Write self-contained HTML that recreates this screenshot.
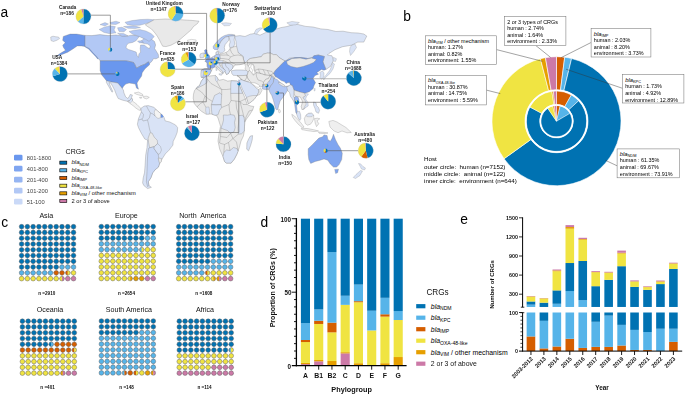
<!DOCTYPE html>
<html><head><meta charset="utf-8"><style>
html,body{margin:0;padding:0;background:#fff;}
svg{display:block;font-family:"Liberation Sans", sans-serif;}
.gs{will-change:transform;}
</style></head><body>
<svg xmlns="http://www.w3.org/2000/svg" width="685" height="396" viewBox="0 0 685 396">
<rect width="685" height="396" fill="#fff"/>
<path d="M50.7 37L53 36.2L56 36.8L58.5 37L59.6 38.6L57 40.2L53.5 41.5L51 40.6Z" fill="#d9e3f6" stroke="#7e7e7e" stroke-width="0.3" stroke-linejoin="round"/><path d="M63.3 36.4L70.2 34.1L76.5 34.1L85.1 35.4L85.1 46.5L81.6 45.9L77.2 45.9L72.8 49L67.7 52.2L61.4 54.7L56 56.6L60 53.6L65.5 50.3L63.5 47.5L62.7 45.2L65.2 42.7L62.7 40.2Z" fill="#6a97ee" stroke="#7e7e7e" stroke-width="0.34" stroke-linejoin="round"/><path d="M85.1 45.8L89.6 48L93.5 52.5L97 56.4L98.5 58.6L97.6 58.9L95.8 56.8L92.2 53L88.6 49L85.1 47Z" fill="#6a97ee" stroke="#7e7e7e" stroke-width="0.25" stroke-linejoin="round"/><path d="M85.1 35.4L92 35.6L100 34.6L108 35.6L116 35L122 35.8L127 36.2L131 35.2L136 35.6L142 36.4L147 37L151 38.8L154.5 41.5L155.6 45L154.6 48.5L156.5 51.5L158.3 54.5L158.6 57.5L156 58.8L153.5 58.6L152 61.2L149.5 63.6L148.4 61.8L145 64.2L140.5 65.9L136.5 68.2L134.8 64.5L133.6 62.5L129.1 61.4L125.7 60.8L100.1 60.8L96.7 56.6L93 52.8L89.2 48.4L85.1 46.5Z" fill="#b2c8f5" stroke="#7e7e7e" stroke-width="0.34" stroke-linejoin="round"/><path d="M126.5 45.5L128.3 43.3L132.7 42.4L136.2 40.6L138 38L139.7 36.2L141.5 37.1L144.2 38.8L141.5 40.6L140.6 42.4L143.3 43.3L147.7 44.1L150.3 45.9L149.5 48.6L147.7 47.7L144.2 45L140.6 45L140.2 48.6L140.6 52.1L138.9 53.9L138.4 57.4L137.1 55.6L136.2 52.1L132.7 50.8L128.3 49.4L126 47.7Z" fill="#fff" stroke="#7e7e7e" stroke-width="0.3" stroke-linejoin="round"/><path d="M125 22.2L132 20.6L140 19.6L148 19.2L154.3 19.8L151 22L146 23.6L140 25.2L133 25.4L127 24.4Z" fill="#b2c8f5" stroke="#7e7e7e" stroke-width="0.25" stroke-linejoin="round"/><path d="M123.5 26.6L130 25.9L136 26.3L140.5 27.6L135 28.6L128 28.3Z" fill="#b2c8f5" stroke="#7e7e7e" stroke-width="0.25" stroke-linejoin="round"/><path d="M129 31.5L134 30.2L140 29.6L146 31L151 33.5L154.3 36.5L152 39L149 41.4L146 39.5L142 37.8L138 36L133 34.5Z" fill="#b2c8f5" stroke="#7e7e7e" stroke-width="0.25" stroke-linejoin="round"/><path d="M99.1 29.5L104 27.2L110 25.7L115.4 26.6L114 30L116 32.8L110 33.8L104 32.5Z" fill="#b2c8f5" stroke="#7e7e7e" stroke-width="0.25" stroke-linejoin="round"/><path d="M100 24.6L105 22.6L108.5 24L105 26Z" fill="#b2c8f5" stroke="#7e7e7e" stroke-width="0.25" stroke-linejoin="round"/><path d="M110 22.5L116 21.2L120 22.5L116 24.5L111 24.2Z" fill="#b2c8f5" stroke="#7e7e7e" stroke-width="0.25" stroke-linejoin="round"/><path d="M117.5 27.8L122 27.2L126.5 29.5L124 31.8L119 31.4Z" fill="#b2c8f5" stroke="#7e7e7e" stroke-width="0.25" stroke-linejoin="round"/><path d="M117.5 33.2L123.5 33.4L128 35.8L122 36.3Z" fill="#b2c8f5" stroke="#7e7e7e" stroke-width="0.25" stroke-linejoin="round"/><path d="M137.5 41L141.5 40.8L143.5 42.3L139.5 43Z" fill="#b2c8f5" stroke="#7e7e7e" stroke-width="0.25" stroke-linejoin="round"/><path d="M145.3 24.8L150 22L154.3 19.7L165 19L175 19.3L185 20L193 20.5L199 21.2L197.5 23.5L193.5 26.5L191 30L187.5 33L184 36L180 39.5L176 42.5L171 45.2L166 46.6L162.7 46.2L161.2 43.5L159.5 40L157.5 36.5L155 33L151.5 29L147.5 26.5Z" fill="#e9e9e9" stroke="#7e7e7e" stroke-width="0.34" stroke-linejoin="round"/><path d="M187.5 40.2L191.5 39.4L196.2 40L195.8 42L191 42.6L187.8 41.8Z" fill="#fafafa" stroke="#7e7e7e" stroke-width="0.3" stroke-linejoin="round"/><path d="M100.1 60.8L125.7 60.8L129.1 61.4L133.6 62.5L134.8 64.5L136.5 68.2L140.5 65.9L145 64.2L148.4 61.8L149.5 63.6L149.5 64.8L145 68.8L142.2 72.7L141.6 76.1L138.8 80.1L137 83L137.6 86.4L138.5 89.2L136.5 88.1L135.3 84.1L132.5 83.5L129.1 83L125.7 84.1L123.4 86.4L122.3 88.6L120.6 86.4L117.7 83L114.3 82.4L109.8 81.8L106.4 80.7L104.1 77.8L101.8 75L100.1 70.5L100.1 64.8Z" fill="#6a97ee" stroke="#7e7e7e" stroke-width="0.34" stroke-linejoin="round"/><path d="M106.4 80.7L109.8 81.8L114.3 82.4L117.7 83L120.6 86.4L122.3 88.6L123.4 90L123.9 92.8L125.6 96.8L127.8 98.5L129.5 96.2L130.1 94.5L132.4 95L131.3 98.5L129.5 100.7L127.3 101.3L122.7 100.2L118.2 98.5L116.5 95L114.8 90.5L112.5 86L110.8 83.1L109 82.6L110.5 86.5L112.8 91.5L112 92.2L108.5 86L106.4 82.5Z" fill="#d9e3f6" stroke="#7e7e7e" stroke-width="0.34" stroke-linejoin="round"/><path d="M127.3 101.3L129.5 100.7L131.3 98.5L132.6 98.9L132.4 101L134.5 102.5L137 104.5L139.5 107L140.8 108.4L140.3 110.5L138.5 109.8L136 108.2L133.5 106L130.5 103.8Z" fill="#f1f1f1" stroke="#7e7e7e" stroke-width="0.3" stroke-linejoin="round"/><path d="M128.2 101.6L129.5 100.7L131.3 98.5L132.6 98.9L132.4 101L130.5 102.8Z" fill="#d9e3f6" stroke="#7e7e7e" stroke-width="0.25" stroke-linejoin="round"/><path d="M134.3 93L138.5 92.1L142.5 94.2L143 96L140 95.3L136.5 94.3Z" fill="#f3f3f3" stroke="#7e7e7e" stroke-width="0.3" stroke-linejoin="round"/><path d="M143.4 96.4L147 96.2L149.3 97.4L146.5 98.9L143.8 98Z" fill="#f3f3f3" stroke="#7e7e7e" stroke-width="0.3" stroke-linejoin="round"/><path d="M139.6 97.3L141.8 97.4L141.5 98.2L139.8 98.1Z" fill="#f3f3f3" stroke="#7e7e7e" stroke-width="0.3" stroke-linejoin="round"/><path d="M140.8 108.4L144.2 106.1L148.2 105.6L153.9 107.3L157.3 110.7L161.3 114.1L164.1 117.5L165.2 120.9L169.8 122L175.5 124.9L177.7 127.7L177.2 132.3L175.5 136.8L173.2 141.4L172.9 145.1L169.1 150.1L165.3 153.9L162.1 158.9L159.6 163.4L158.4 167.1L155.2 169.7L152.7 172.8L150.8 177.9L148.3 181.7L148.9 185.5L151.4 187.3L147.6 188.6L143.8 185.5L142.6 182.9L143.2 177.9L144.5 172.8L145.1 165.3L145.7 155.2L147 147.6L147.6 140L144.8 139.1L141.4 133.4L138.5 127.7L137.4 124.3L138.5 118.6L141.4 111.8Z" fill="#d9e3f6" stroke="#7e7e7e" stroke-width="0.34" stroke-linejoin="round"/><path d="M155.5 109.2L157.3 110.7L161 113.8L160.8 117.6L158 118.5L155 116L154.2 112Z" fill="#f4f4f4" stroke="#7e7e7e" stroke-width="0.3" stroke-linejoin="round"/><path d="M160.9 114.1L162.3 114.8L163.5 116.6L162.4 117.6L160.9 117.4Z" fill="#6a97ee" stroke="#7e7e7e" stroke-width="0.2" stroke-linejoin="round"/><path d="M150.1 132.6L152.1 133.1L154.2 137.1L157.2 140.2L157.7 143.7L154.2 146.7L149.6 147.8L148.6 142.7L148.1 138.2Z" fill="#e9e9e9" stroke="#7e7e7e" stroke-width="0.34" stroke-linejoin="round"/><path d="M148.6 148.3L149.6 147.8L154.2 146.7L154.2 148.8L158.2 154.3L158.7 157.4L159.6 163.4L158.4 167.1L155.2 169.7L152.7 172.8L150.8 177.9L148.3 181.7L148.9 185.5L147.6 186.7L146.4 181.7L147 171.6L147.4 160L147.8 153Z" fill="#cad9f7" stroke="#7e7e7e" stroke-width="0.34" stroke-linejoin="round"/><path d="M158.2 158L161.7 158.6L161.3 162L159.6 163.4L158.7 160.5Z" fill="#e9e9e9" stroke="#7e7e7e" stroke-width="0.3" stroke-linejoin="round"/><path d="M154.2 146.7L157.7 143.7L160.5 146.5L161.5 150L160 153.5L158.2 154.3L154.2 148.8Z" fill="#d9e3f6" stroke="#7e7e7e" stroke-width="0.3" stroke-linejoin="round"/><path d="M226.5 56.5L228 52.5L233 50.5L236.5 46L236 41.5L234.5 36.3L240 35.6L245 36.5L250.2 34.2L255 33.4L260 35.2L265.3 32.7L272 30.5L280.5 27.7L287 26.5L295.6 23.9L300 25L305.7 26.4L313 27L320.9 28.9L328 29.5L336 31.5L343 31.2L351.1 32.7L358 33L363.8 34L366.8 36.1L363.8 42.1L357.7 42.1L351.7 45.2L342.6 46.7L335 49.7L328.9 53.5L327.4 55L332 55.8L333.5 60.3L330.5 66.4L325.9 69.4L325.9 69.4L322.9 61.8L324.4 56.5L318.3 55L313.8 55.8L312.3 57.8L307.7 58.5L301.7 57.5L295 57.6L289.4 58.2L285.5 61.2L283.5 60.2L279.4 57.7L276.4 54.6L273.4 54.6L270.4 53.1L267.3 53.1L263.3 54.1L261.3 56.7L255.2 57.7L250.3 58.5L247.5 60.5L245.5 62.5L243.9 61L242.7 56.1L238.2 52.7L234 53L230.5 54.5L228.5 57Z" fill="#d9e3f6" stroke="#7e7e7e" stroke-width="0.34" stroke-linejoin="round"/><path d="M351.7 45.2L355 44L356.5 47.5L353.5 52L350.5 55.5L349.5 51.5L350 47.5Z" fill="#d9e3f6" stroke="#7e7e7e" stroke-width="0.25" stroke-linejoin="round"/><path d="M254 33.5L256 29.5L260 27.8L262.5 28.2L259 31L256.5 34.2Z" fill="#d9e3f6" stroke="#7e7e7e" stroke-width="0.25" stroke-linejoin="round"/><path d="M286.8 22.8L292 21.4L299.4 22.5L296 24.8L290 25.2Z" fill="#d9e3f6" stroke="#7e7e7e" stroke-width="0.25" stroke-linejoin="round"/><path d="M221.5 23.2L226 22.7L231.5 23.5L229.5 25.6L224 25.8Z" fill="#d9e3f6" stroke="#7e7e7e" stroke-width="0.25" stroke-linejoin="round"/><path d="M213.3 46.3L215.1 43.8L217.9 40.6L220.7 37.8L224.3 35.7L228.5 34.4L232 34.4L234.9 34.9L234.9 35.7L231.3 36L228.5 36.4L225.7 37.1L222.8 39.2L220.7 42L219.3 44.8L218.6 48L217.2 49.8L214.4 49.4L213.3 48.4Z" fill="#b2c8f5" stroke="#7e7e7e" stroke-width="0.34" stroke-linejoin="round"/><path d="M218.6 48L219.3 44.8L220.7 42L222.8 39.2L225.7 37.1L228.5 36.4L229.2 37.8L228.5 40.6L226.7 42.7L225 44.8L224.3 47.7L225 50.5L222.8 52.6L220.4 53.3L218.6 51.2L217.2 49.8Z" fill="#d9e3f6" stroke="#7e7e7e" stroke-width="0.34" stroke-linejoin="round"/><path d="M228.5 36.4L231.3 36L234.9 35.7L234.1 39.9L234.9 44.1L233.4 47L229.9 47.7L229.2 45L230.2 42L229.2 37.8Z" fill="#d9e3f6" stroke="#7e7e7e" stroke-width="0.34" stroke-linejoin="round"/><path d="M201.2 77.2L201 74.5L201.3 70L204.5 68.8L208 68.6L207.2 66.3L207.2 62.7L205.1 61.3L207.2 58.8L210.5 58.2L212.6 57.2L214.6 56L216 54.6L216.2 52L218.2 51.6L218.8 54L221 54L223.5 53.4L226 52.4L228.5 51L229.9 48.6L233.4 47L236.5 46L237.5 49.5L238.2 52.7L242.7 56.1L243.9 61L244.5 63.5L240 64.6L236 64.8L233.8 66.2L232.5 68.5L231 70L229.5 71.5L228.5 73.5L226.5 74.5L225.5 72.5L224.5 70L222.4 66.6L219.6 64.8L218.5 66L221 68.8L223.8 71.5L222.5 73.6L220.5 71.8L217.2 68.4L214.8 66.6L213.6 67.3L212 69.6L211.4 71L209.5 74.5L207 76.6L204 77.6Z" fill="#e9e9e9" stroke="#7e7e7e" stroke-width="0.34" stroke-linejoin="round"/><path d="M230.5 57L234 55.5L238.2 55L242.7 56.1L243.9 61L244.5 63.5L240 64.6L236 64.8L233.8 63.5L230.5 62L229 59.5Z" fill="#e9e9e9" stroke="#7e7e7e" stroke-width="0.34" stroke-linejoin="round"/><path d="M221.8 63.6L225 63L228.5 63.2L231 64.2L233 65.5L232.5 68.5L231 70L229.5 71.5L228.5 73.5L226.5 74.5L225.5 72.5L224.5 70L222.4 66.6Z" fill="#d9e3f6" stroke="#7e7e7e" stroke-width="0.34" stroke-linejoin="round"/><path d="M201.6 70.2L204.5 68.8L208 68.6L211.4 70L210.5 72.6L209.5 74.5L207 76.6L204 77.6L201.4 77.3L202.2 73.5Z" fill="#b2c8f5" stroke="#7e7e7e" stroke-width="0.34" stroke-linejoin="round"/><path d="M201 74.5L201.3 70.2L203 70L203.3 73.5L202.8 77L201.2 77.2Z" fill="#d9e3f6" stroke="#7e7e7e" stroke-width="0.25" stroke-linejoin="round"/><path d="M205.1 61.3L207.2 58.8L209.5 58.5L212.1 57.8L215.3 59.2L215 63.1L215 67L212.1 68L208.6 68.6L207.2 66.3L207.2 62.7Z" fill="#7fa5f0" stroke="#7e7e7e" stroke-width="0.34" stroke-linejoin="round"/><path d="M212.1 57.8L212.8 56.4L214.6 56L215 58.6L215.3 59.2Z" fill="#cad9f7" stroke="#7e7e7e" stroke-width="0.25" stroke-linejoin="round"/><path d="M214.6 56L216 54.6L218.8 54L219.9 55L220.3 58.5L219.5 60.5L217.8 61.5L215.3 61.6L215.3 59.2L215 58.6Z" fill="#b2c8f5" stroke="#7e7e7e" stroke-width="0.34" stroke-linejoin="round"/><path d="M216 54.6L216.2 52L218.2 51.6L218.8 54Z" fill="#d9e3f6" stroke="#7e7e7e" stroke-width="0.25" stroke-linejoin="round"/><path d="M215 61.7L217.8 61.5L218 62.9L216.5 63.6L215 63.2Z" fill="#cad9f7" stroke="#7e7e7e" stroke-width="0.25" stroke-linejoin="round"/><path d="M217.8 61.5L219.5 60.5L223 60.5L223 62.6L220 63.2L218 62.9Z" fill="#d9e3f6" stroke="#7e7e7e" stroke-width="0.25" stroke-linejoin="round"/><path d="M215 63.2L216.5 63.6L218 62.9L220 63.2L219.6 64.6L220.5 66.6L223.4 68.7L225.4 70.3L224.6 71.2L223.5 73.2L222.6 73.4L222.4 71.2L220 68.7L217.6 66.6L215.6 65.4Z" fill="#d9e3f6" stroke="#7e7e7e" stroke-width="0.34" stroke-linejoin="round"/><path d="M218.9 73.8L222.3 73.8L221.5 75.3L219.5 75Z" fill="#d9e3f6" stroke="#7e7e7e" stroke-width="0.25" stroke-linejoin="round"/><path d="M216 67.5L217.2 67.5L217 70.5L215.9 70.3Z" fill="#d9e3f6" stroke="#7e7e7e" stroke-width="0.25" stroke-linejoin="round"/><path d="M205.5 49.5L207 50L207 52L208 54L209.7 56L209.8 57.8L208.5 58.6L205 58.8L206 57.5L204.8 56.5L205.5 55.2L204.5 53.5L205 52L204.4 50.5Z" fill="#6a97ee" stroke="#7e7e7e" stroke-width="0.34" stroke-linejoin="round"/><path d="M200.4 53.8L203.5 52.8L204.2 55L203.6 57.5L200.2 57.8L199.8 55.8Z" fill="#d9e3f6" stroke="#7e7e7e" stroke-width="0.34" stroke-linejoin="round"/><path d="M231.3 70.8L236 70L241 70L246.5 70.3L248.2 72L247.1 75.3L242 75.6L237 75.6L233.2 75.3L231.8 73.4Z" fill="#d9e3f6" stroke="#7e7e7e" stroke-width="0.34" stroke-linejoin="round"/><path d="M247.5 60.5L250.3 58.5L255.2 57.7L261.3 56.7L263.3 54.1L267.3 53.1L270.4 53.1L273.4 54.6L276.4 54.6L279.4 57.7L283.5 60.2L285.5 61.2L284.3 61.6L279.3 66.5L275.5 70.3L273.6 73.4L270 75.5L265 75L261 73.6L256 72.6L254.7 70.5L254.5 66.5L252.5 64L249.6 64L248.2 66.5L247.5 64.8Z" fill="#e9e9e9" stroke="#7e7e7e" stroke-width="0.34" stroke-linejoin="round"/><path d="M244.5 63.5L247.5 64.8L248.2 66.5L249.6 67.5L249.6 70.2L248.2 72L246.5 70.3L245 69L245.5 66.5Z" fill="#e9e9e9" stroke="#7e7e7e" stroke-width="0.25" stroke-linejoin="round"/><path d="M251.1 64.8L253.3 64.5L253.7 68.6L254.8 72.4L253.3 74.8L251.8 73.2L252.6 70.2L250.7 67.5Z" fill="#fff" stroke="#7e7e7e" stroke-width="0.3" stroke-linejoin="round"/><path d="M248.2 72L249.6 70.2L253.5 75.3L256 72.6L261 73.6L265 75L270 75.5L268.5 78.5L265.5 79.5L263.5 82.5L263.2 86.4L260.5 86.8L256 85.6L252 83.5L249.6 80.8L247.6 78.2L246.8 75.5L247.1 75.3Z" fill="#e9e9e9" stroke="#7e7e7e" stroke-width="0.34" stroke-linejoin="round"/><path d="M237 75.6L242 75.6L247.1 75.3L246.8 75.5L247.6 78.2L249.6 80.8L248.3 82L244.5 80.9L240.8 79.5L239.6 77.6Z" fill="#e9e9e9" stroke="#7e7e7e" stroke-width="0.34" stroke-linejoin="round"/><path d="M239.6 80.2L240.8 79.5L244.5 80.9L248.3 82L251 83.2L253.5 85.5L256 88L258.5 89.5L259 92L257 95.5L254 99.5L250 102.8L248.3 103.6L247.8 101.5L246.5 97.5L244.5 93.5L242.5 89.5L240.8 85.5L239.6 83Z" fill="#d9e3f6" stroke="#7e7e7e" stroke-width="0.34" stroke-linejoin="round"/><path d="M246.5 97.5L249.5 96.2L253 95.5L257 95.5L254 99.5L250 102.8L248.3 103.6L247.8 101.5Z" fill="#e9e9e9" stroke="#7e7e7e" stroke-width="0.3" stroke-linejoin="round"/><path d="M258.5 89.5L260.5 88.2L262 90.5L259.8 94.5L257 95.5L259 92Z" fill="#e9e9e9" stroke="#7e7e7e" stroke-width="0.3" stroke-linejoin="round"/><path d="M250.5 82.2L252 82.6L255 82.9L258 84.4L260 85.8L258.5 87.4L256.5 87L254.5 85.6L252.5 84.3Z" fill="#fff" stroke="#7e7e7e" stroke-width="0.3" stroke-linejoin="round"/><path d="M238.7 79.6L239.6 80.2L239.2 83L238.6 84.6L238.1 82Z" fill="#b2c8f5" stroke="#7e7e7e" stroke-width="0.2" stroke-linejoin="round"/><path d="M206.6 76.3L210.1 75.9L215.4 75.4L216.8 76.8L218.9 80.3L223.3 79.4L227.7 81.1L231.2 80.7L237.3 81.1L238.6 82.6L239.6 86L241.4 90L243.3 94L245 98L246.2 101.5L247.2 104.5L250 105.8L253.8 106.5L252.6 110L249.5 115L246.5 119L244.7 122.2L244.5 126.2L244.3 131.1L243.4 136.1L241 141L239.3 147.5L236.9 154.1L234.4 159L231.1 163.1L226.2 163.1L224.6 161.5L223 156.6L219.7 149.2L218 141L218.9 134.4L220.5 126.2L218 118L216.4 115.5L211.3 114L205.8 114L201.4 111.3L197 106.9L194.3 103.6L193.2 98.1L193.5 94.3L194.4 90.8L197 87.3L199.6 85.5L201.4 81.1L204 77.6Z" fill="#e9e9e9" stroke="#7e7e7e" stroke-width="0.34" stroke-linejoin="round"/><path d="M206.6 76.3L204 77.6L201.4 81.1L199.6 85.5L197 87.3L196.2 88.6L200.5 86.5L204.2 84.6L207.1 82.5L207.3 79Z" fill="#d9e3f6" stroke="#7e7e7e" stroke-width="0.34" stroke-linejoin="round"/><path d="M215.4 75.4L216.8 76.8L218 79.8L217 82L215.6 80.5L215.2 77.5Z" fill="#d9e3f6" stroke="#7e7e7e" stroke-width="0.25" stroke-linejoin="round"/><path d="M231.2 80.7L237.3 81.1L238.6 82.6L239.6 86L241.4 90L242.6 93.4L230.7 93.4L230.7 84Z" fill="#d9e3f6" stroke="#7e7e7e" stroke-width="0.34" stroke-linejoin="round"/><path d="M212.4 101.4L214.6 95.4L220 92.7L221.7 94.9L221.4 99.5L221.1 104.7L216 104.9L211.3 104.7Z" fill="#d9e3f6" stroke="#7e7e7e" stroke-width="0.34" stroke-linejoin="round"/><path d="M211.3 104.7L216 104.9L221.1 104.7L221.6 107.5L219.5 110.5L218 114.8L215 115.3L212 114.2L211.5 109.5Z" fill="#d9e3f6" stroke="#7e7e7e" stroke-width="0.34" stroke-linejoin="round"/><path d="M205.8 107.2L208.9 106.9L209.6 110.5L209.4 114L206.4 114.3L205.6 110.5Z" fill="#d9e3f6" stroke="#7e7e7e" stroke-width="0.25" stroke-linejoin="round"/><path d="M223.3 115L227.5 115.2L230.5 114.6L234.2 115.2L235.4 118.5L234.5 122.5L235.2 127.5L234 131.8L230.5 133.4L227.5 130.5L223.8 129.3L221 128L222.5 124L223.5 120Z" fill="#d9e3f6" stroke="#7e7e7e" stroke-width="0.34" stroke-linejoin="round"/><path d="M238.7 115.7L242.5 115.2L244.1 117.5L244.7 122.2L244.5 126.2L244.3 131.1L241.5 133.8L238.3 134.2L238 128.5L238.6 123Z" fill="#d9e3f6" stroke="#7e7e7e" stroke-width="0.34" stroke-linejoin="round"/><path d="M223.8 152.5L226.5 150L230 150.5L233.5 147.5L236.9 148.5L238.2 151L236.9 154.1L234.4 159L231.1 163.1L226.2 163.1L224.6 161.5L223 156.6Z" fill="#d9e3f6" stroke="#7e7e7e" stroke-width="0.34" stroke-linejoin="round"/><path d="M250.3 136.1L252.6 135.6L252.2 140L250.6 145.5L248.6 150.8L246.7 149.2L246.9 143L248.6 139Z" fill="#d9e3f6" stroke="#7e7e7e" stroke-width="0.34" stroke-linejoin="round"/><path d="M271.4 75.7L274 78.2L273.3 82.6L270.8 85.8L269.5 88.3L268.9 89.3L265.7 89.6L262.3 89L262.6 84.5L266.4 83.9L268.3 82L270.2 79.5Z" fill="#b2c8f5" stroke="#7e7e7e" stroke-width="0.34" stroke-linejoin="round"/><path d="M270 75.5L271.4 75.7L270.2 79.5L268.3 82L266.4 83.9L262.6 84.5L263.2 86.4L263.5 82.5L265.5 79.5L268.5 78.5Z" fill="#e9e9e9" stroke="#7e7e7e" stroke-width="0.3" stroke-linejoin="round"/><path d="M270 75.5L273.6 73.4L275.8 76.9L274 78.2L271.4 75.7Z" fill="#e9e9e9" stroke="#7e7e7e" stroke-width="0.3" stroke-linejoin="round"/><path d="M274 78.2L277.1 79.5L280.3 82.6L283 84.5L285.5 86.5L287.5 86.2L289.7 85.5L290.5 87.5L288.5 88.5L287.5 90.5L286.2 92.6L284.7 94.8L282.5 97.9L280.2 100.9L278.7 105.5L277.9 109.2L276.8 110L275.6 108.5L274.5 104.7L273.4 100.2L271.8 95.6L270 92.6L268.8 89.5L268.9 89.3L269.5 88.3L270.8 85.8L273.3 82.6Z" fill="#b2c8f5" stroke="#7e7e7e" stroke-width="0.34" stroke-linejoin="round"/><path d="M278.4 82.2L281 83L285 85.5L284.5 87L281.5 85.6L278.8 83.8Z" fill="#e9e9e9" stroke="#7e7e7e" stroke-width="0.3" stroke-linejoin="round"/><path d="M278.6 109.4L280 109.8L280.4 112.2L279.2 113L278.4 111.3Z" fill="#f6f6f6" stroke="#7e7e7e" stroke-width="0.3" stroke-linejoin="round"/><path d="M286.7 86.4L288.2 86.5L290.2 84.5L292.5 85.5L294.2 90.2L294.2 93.5L293.5 96.5L295 98.5L294.8 103.8L293.5 101L292 98.5L290.5 96.5L289.5 92.5L287.5 90.5Z" fill="#d9e3f6" stroke="#7e7e7e" stroke-width="0.34" stroke-linejoin="round"/><path d="M273.6 73.4L275.5 70.3L279.3 66.5L284.3 61.4L289.4 58.9L295 57.6L301.7 57.5L307.7 58.5L312.3 57.8L313.8 55.8L318.3 55L324.4 56.5L322.9 61.8L325.9 69.4L324 70.2L321.4 69.4L318.5 71.5L316.8 72.4L318.5 74.2L315 75.5L313 78.5L315.5 82.6L313.8 86L313.2 88.6L309.4 91.7L304.8 93.2L300.5 92.2L298.8 91.7L294.2 90.2L292.5 85.5L290.2 84.5L289.7 82.5L287.5 82.8L286 83.5L284.3 81.6L281.2 80.6L279.3 79.1L275.5 76.6Z" fill="#6a97ee" stroke="#7e7e7e" stroke-width="0.34" stroke-linejoin="round"/><path d="M286.5 61.5L292 58.5L300 58L306 59.2L311.5 58L316.5 59.5L313.5 62.5L309 64.5L303 66.5L297 67.8L291 66.5L287.5 64.5Z" fill="#e9e9e9" stroke="#7e7e7e" stroke-width="0.34" stroke-linejoin="round"/><path d="M319.8 72.4L322.5 71L324 73L323.8 77L321.5 79.2L319.8 77.5L320.5 75Z" fill="#d9e3f6" stroke="#7e7e7e" stroke-width="0.25" stroke-linejoin="round"/><path d="M333.5 57.3L336.5 58.8L335.5 61.5L333 61Z" fill="#d9e3f6" stroke="#7e7e7e" stroke-width="0.25" stroke-linejoin="round"/><path d="M332.5 62.5L334.5 64L333 69L330 73.5L325.5 77.5L323.8 80L323.2 78.5L326.5 74.5L330 70L331.8 65.5Z" fill="#d9e3f6" stroke="#7e7e7e" stroke-width="0.25" stroke-linejoin="round"/><path d="M314.2 88.6L315.2 88.4L315 91L314 90.8Z" fill="#d9e3f6" stroke="#7e7e7e" stroke-width="0.2" stroke-linejoin="round"/><path d="M294.2 90.2L298.8 91.7L300.5 92.2L304.8 93.2L305.5 96L303 97.5L305.5 100.5L307 104L305 108L302 109.8L301.2 106.5L302.6 101.5L300.3 97L295 96.2L294.2 93.5Z" fill="#e9e9e9" stroke="#7e7e7e" stroke-width="0.34" stroke-linejoin="round"/><path d="M304.8 93.2L308.5 94L306.5 96.5L305.6 99L308 102.5L308.2 106L305 108L303.5 109.8L304.5 106.8L306.2 104L305 100.5L303 97.5L305.5 96Z" fill="#d9e3f6" stroke="#7e7e7e" stroke-width="0.25" stroke-linejoin="round"/><path d="M294.5 96.9L296.5 96.5L298.2 97.5L299 100L298.5 102.5L297.8 104.5L296.5 105.5L296.9 108L297.2 111L296.9 113.9L295.8 112.5L295.3 109L294.8 105.5L294.5 101Z" fill="#96b5f2" stroke="#7e7e7e" stroke-width="0.34" stroke-linejoin="round"/><path d="M297.3 111.4L299.5 111.4L300.6 114.5L300.8 118.5L299.8 120.4L297.8 117.5L296.5 114Z" fill="#d9e3f6" stroke="#7e7e7e" stroke-width="0.3" stroke-linejoin="round"/><path d="M291.8 114.3L294.5 116L298 119.5L301.5 123.5L304 127L302.5 127.8L298.5 124.5L295 120.5L292.5 117Z" fill="#efefef" stroke="#7e7e7e" stroke-width="0.3" stroke-linejoin="round"/><path d="M304.3 118.5L306 115.2L308.5 113.4L311.5 113.2L313.6 115L313.8 118.5L312.5 121.5L310.5 124.2L307.5 125.2L305.2 123.5Z" fill="#efefef" stroke="#7e7e7e" stroke-width="0.3" stroke-linejoin="round"/><path d="M306 115.2L308.5 113.4L311.5 113.2L313.6 115L312 116.6L309 116.8L306.8 116.5Z" fill="#d9e3f6" stroke="#7e7e7e" stroke-width="0.25" stroke-linejoin="round"/><path d="M301.2 128.2L308 128.6L314 129.8L318.6 131L314 131.6L307 130.6L301.8 129.6Z" fill="#efefef" stroke="#7e7e7e" stroke-width="0.3" stroke-linejoin="round"/><path d="M318.5 132L324 132.3L328 133L324 133.6L319 133.2Z" fill="#efefef" stroke="#7e7e7e" stroke-width="0.3" stroke-linejoin="round"/><path d="M314.5 118.6L317.5 118.2L319.8 118.8L317 120.8L318.8 123.8L316.5 126.6L315.2 123L314.8 120.5Z" fill="#efefef" stroke="#7e7e7e" stroke-width="0.3" stroke-linejoin="round"/><path d="M313.5 102L316 102.8L316.5 105.5L318.5 107.5L319.6 110.5L318.5 113.3L316 112L315 108.5L313.5 105Z" fill="#d9e3f6" stroke="#7e7e7e" stroke-width="0.3" stroke-linejoin="round"/><path d="M328.8 121.5L333 120.4L337 122L341 124.5L346 127.5L351.3 132.5L347 132.8L342 131L338 132.7L334 131L330 127Z" fill="#efefef" stroke="#7e7e7e" stroke-width="0.3" stroke-linejoin="round"/><path d="M308.2 148.8L312.6 144.4L316.4 140.6L318.9 138.1L322.7 136.8L324 134.9L327.1 135.6L327.8 139.4L330.3 141.3L332.2 138.1L333.5 134.3L335.4 139.4L337.9 144.4L340.4 148.2L342.3 153.3L341.7 159.6L339.1 164.6L336.6 167.1L333.5 167.1L330.3 164L327.8 160.2L324 158.9L320.2 160.2L315.2 161.5L310.7 163.4L308.8 159.6L308.2 154.5Z" fill="#7fa5f0" stroke="#7e7e7e" stroke-width="0.34" stroke-linejoin="round"/><path d="M334.7 169.4L338.5 169.2L337.6 172.8L335.6 173.5Z" fill="#7fa5f0" stroke="#7e7e7e" stroke-width="0.3" stroke-linejoin="round"/><path d="M358.5 163.5L360.5 163.8L363 166.5L365.5 168L364.5 170L361.5 169L360.2 166.5Z" fill="#d9e3f6" stroke="#7e7e7e" stroke-width="0.25" stroke-linejoin="round"/><path d="M360.5 170.5L362.5 171L360 175.5L355.5 178.5L353.2 177.5L356 174.5Z" fill="#d9e3f6" stroke="#7e7e7e" stroke-width="0.25" stroke-linejoin="round"/><path d="M146.5 106L148.5 110L150.5 113" fill="none" stroke="#7e7e7e" stroke-width="0.34" stroke-linejoin="round"/><path d="M150.5 113L153 114L155 116" fill="none" stroke="#7e7e7e" stroke-width="0.34" stroke-linejoin="round"/><path d="M150.5 113L149.5 117.5L147.5 120" fill="none" stroke="#7e7e7e" stroke-width="0.34" stroke-linejoin="round"/><path d="M138.5 120L142 119L143 121" fill="none" stroke="#7e7e7e" stroke-width="0.34" stroke-linejoin="round"/><path d="M143 121L147.5 120L148.5 124L149.5 129L150.5 132.3" fill="none" stroke="#7e7e7e" stroke-width="0.34" stroke-linejoin="round"/><path d="M141.4 111.8L143.5 114.5L143 117.5L142 119" fill="none" stroke="#7e7e7e" stroke-width="0.34" stroke-linejoin="round"/><path d="M219.9 55L222 55.2L226 55L229 55.5L230.5 57" fill="none" stroke="#7e7e7e" stroke-width="0.34" stroke-linejoin="round"/><path d="M220.3 58.5L223 58.5L226 59L229 59.5" fill="none" stroke="#7e7e7e" stroke-width="0.34" stroke-linejoin="round"/><path d="M223 60.5L225.5 61.5L228.5 63.2" fill="none" stroke="#7e7e7e" stroke-width="0.34" stroke-linejoin="round"/><path d="M226 52.4L227.5 55.2" fill="none" stroke="#7e7e7e" stroke-width="0.34" stroke-linejoin="round"/><path d="M229.9 48.6L231.5 52.5L234 55.5" fill="none" stroke="#7e7e7e" stroke-width="0.34" stroke-linejoin="round"/><path d="M225 63L226 66.5L228.5 68.5L229.5 71.5" fill="none" stroke="#7e7e7e" stroke-width="0.34" stroke-linejoin="round"/><path d="M207.3 79L211 83.5L215.6 86L221.7 89.5L221.7 94.9" fill="none" stroke="#7e7e7e" stroke-width="0.34" stroke-linejoin="round"/><path d="M217 82L219.5 86.5L221.7 89.5" fill="none" stroke="#7e7e7e" stroke-width="0.34" stroke-linejoin="round"/><path d="M221.7 89.5L226.5 89.5L230.7 89" fill="none" stroke="#7e7e7e" stroke-width="0.34" stroke-linejoin="round"/><path d="M230.7 93.4L231 100.5L229 104.5L224 106.5L221.6 107.5" fill="none" stroke="#7e7e7e" stroke-width="0.34" stroke-linejoin="round"/><path d="M231 100.5L236 101L240 101.5L246.3 98.5" fill="none" stroke="#7e7e7e" stroke-width="0.34" stroke-linejoin="round"/><path d="M236 101L236.5 108L238.7 115.7" fill="none" stroke="#7e7e7e" stroke-width="0.34" stroke-linejoin="round"/><path d="M229 104.5L229.5 110.5L230.5 114.6" fill="none" stroke="#7e7e7e" stroke-width="0.34" stroke-linejoin="round"/><path d="M196.2 88.6L201.5 92L205 96L208.5 99L212.4 101.4" fill="none" stroke="#7e7e7e" stroke-width="0.34" stroke-linejoin="round"/><path d="M205 96L203 102L205.8 107.2" fill="none" stroke="#7e7e7e" stroke-width="0.34" stroke-linejoin="round"/><path d="M197 106.9L200.5 103.5L203 102" fill="none" stroke="#7e7e7e" stroke-width="0.34" stroke-linejoin="round"/><path d="M230.5 133.4L233 138.5L238.3 134.2" fill="none" stroke="#7e7e7e" stroke-width="0.34" stroke-linejoin="round"/><path d="M221 128L220.5 136.5L227 137.5L230.5 133.4" fill="none" stroke="#7e7e7e" stroke-width="0.34" stroke-linejoin="round"/><path d="M220.5 136.5L219.5 143L224.5 144.5L228.5 142.5L233 138.5L236.5 142L238.2 151" fill="none" stroke="#7e7e7e" stroke-width="0.34" stroke-linejoin="round"/><path d="M224.5 144.5L223.8 152.5" fill="none" stroke="#7e7e7e" stroke-width="0.34" stroke-linejoin="round"/><path d="M228.5 142.5L230 150.5" fill="none" stroke="#7e7e7e" stroke-width="0.34" stroke-linejoin="round"/><path d="M240 101.5L244.1 117.5" fill="none" stroke="#7e7e7e" stroke-width="0.34" stroke-linejoin="round"/><path d="M244.7 122.2L246 117L249 111L252.6 110" fill="none" stroke="#7e7e7e" stroke-width="0.34" stroke-linejoin="round"/><path d="M240 101.5L243 104.5L247.2 104.5" fill="none" stroke="#7e7e7e" stroke-width="0.34" stroke-linejoin="round"/><path d="M254.7 70.5L258.5 69L263 69.5L267.5 70.5L272 71.5L273.6 73.4" fill="none" stroke="#7e7e7e" stroke-width="0.34" stroke-linejoin="round"/><path d="M258.5 69L259.5 72.5L261 73.6" fill="none" stroke="#7e7e7e" stroke-width="0.34" stroke-linejoin="round"/><path d="M263 69.5L265 73L265 75" fill="none" stroke="#7e7e7e" stroke-width="0.34" stroke-linejoin="round"/><path d="M267.5 70.5L268.5 73L270 75.5" fill="none" stroke="#7e7e7e" stroke-width="0.34" stroke-linejoin="round"/><path d="M256 72.6L256.5 76.5L258 80L261.5 81L263.5 82.5" fill="none" stroke="#7e7e7e" stroke-width="0.34" stroke-linejoin="round"/><path d="M237 75.6L240 77.5L242 80" fill="none" stroke="#7e7e7e" stroke-width="0.34" stroke-linejoin="round"/><path d="M244.5 80.9L246.5 78L246.8 75.5" fill="none" stroke="#7e7e7e" stroke-width="0.34" stroke-linejoin="round"/><path d="M270 75.5L273 76L274.5 78.5" fill="none" stroke="#7e7e7e" stroke-width="0.34" stroke-linejoin="round"/><path d="M91 15.2L110.4 15.2L110.4 47.5" fill="none" stroke="#5a5a5a" stroke-width="0.6"/><path d="M67.4 73.9L115.4 73.9" fill="none" stroke="#5a5a5a" stroke-width="0.6"/><path d="M183.3 13.4L206.6 13.4L206.6 54" fill="none" stroke="#5a5a5a" stroke-width="0.6"/><path d="M217.3 23.2L217.3 43.5" fill="none" stroke="#5a5a5a" stroke-width="0.6"/><path d="M270.1 32.4L270.1 62.8L217.2 62.8" fill="none" stroke="#5a5a5a" stroke-width="0.6"/><path d="M196.3 59.4L215.5 59.4" fill="none" stroke="#5a5a5a" stroke-width="0.6"/><path d="M175.3 69.2L210.6 69.2L210.6 65" fill="none" stroke="#5a5a5a" stroke-width="0.6"/><path d="M185.4 101.8L206.3 101.8L206.3 74.6" fill="none" stroke="#5a5a5a" stroke-width="0.6"/><path d="M199.6 132.5L238.8 132.5L238.8 85.5" fill="none" stroke="#5a5a5a" stroke-width="0.6"/><path d="M266.9 87.5L266.9 102" fill="none" stroke="#5a5a5a" stroke-width="0.6"/><path d="M279 93L283.5 93L283.5 136.6" fill="none" stroke="#5a5a5a" stroke-width="0.6"/><path d="M298.8 102.3L320.6 102.3" fill="none" stroke="#5a5a5a" stroke-width="0.6"/><path d="M306.2 78.75L346.3 78.75" fill="none" stroke="#8a8a8a" stroke-width="0.6"/><path d="M327.4 150.7L358 150.7" fill="none" stroke="#5a5a5a" stroke-width="0.6"/><path d="M83.5 16.5L83.5 8.9A7.6 7.6 0 1 1 83.26 24.1Z" fill="#0072B2"/><path d="M83.5 16.5L83.26 24.1A7.6 7.6 0 0 1 77.86 21.6Z" fill="#56B4E9"/><path d="M83.5 16.5L77.86 21.6A7.6 7.6 0 0 1 81.29 9.23Z" fill="#F0E442"/><path d="M83.5 16.5L81.29 9.23A7.6 7.6 0 0 1 83.17 8.91Z" fill="#CC79A7"/><path d="M83.5 16.5L83.17 8.91A7.6 7.6 0 0 1 83.5 8.9Z" fill="#E69F00"/><circle cx="83.5" cy="16.5" r="7.6" fill="none" stroke="#bdbdbd" stroke-width="0.25"/><path d="M110.2 49.6L110.2 47.5A2.1 2.1 0 1 1 110.13 51.7Z" fill="#0072B2"/><path d="M110.2 49.6L110.13 51.7A2.1 2.1 0 0 1 108.64 51.01Z" fill="#56B4E9"/><path d="M110.2 49.6L108.64 51.01A2.1 2.1 0 0 1 109.59 47.59Z" fill="#F0E442"/><path d="M110.2 49.6L109.59 47.59A2.1 2.1 0 0 1 110.11 47.5Z" fill="#CC79A7"/><path d="M110.2 49.6L110.11 47.5A2.1 2.1 0 0 1 110.2 47.5Z" fill="#E69F00"/><path d="M60 74L60 66.4A7.6 7.6 0 1 1 52.77 76.35Z" fill="#0072B2"/><path d="M60 74L52.77 76.35A7.6 7.6 0 0 1 54.8 68.46Z" fill="#56B4E9"/><path d="M60 74L54.8 68.46A7.6 7.6 0 0 1 59.28 66.43Z" fill="#F0E442"/><path d="M60 74L59.28 66.43A7.6 7.6 0 0 1 59.57 66.41Z" fill="#D55E00"/><path d="M60 74L59.57 66.41A7.6 7.6 0 0 1 60 66.4Z" fill="#CC79A7"/><circle cx="60" cy="74" r="7.6" fill="none" stroke="#bdbdbd" stroke-width="0.25"/><path d="M117.4 73.9L117.4 71.8A2.1 2.1 0 1 1 115.4 74.55Z" fill="#0072B2"/><path d="M117.4 73.9L115.4 74.55A2.1 2.1 0 0 1 115.96 72.37Z" fill="#56B4E9"/><path d="M117.4 73.9L115.96 72.37A2.1 2.1 0 0 1 117.2 71.81Z" fill="#F0E442"/><path d="M117.4 73.9L117.2 71.81A2.1 2.1 0 0 1 117.28 71.8Z" fill="#D55E00"/><path d="M117.4 73.9L117.28 71.8A2.1 2.1 0 0 1 117.4 71.8Z" fill="#CC79A7"/><path d="M175.7 13.6L175.7 6A7.6 7.6 0 0 1 183.29 14.08Z" fill="#0072B2"/><path d="M175.7 13.6L183.29 14.08A7.6 7.6 0 0 1 171.63 20.02Z" fill="#56B4E9"/><path d="M175.7 13.6L171.63 20.02A7.6 7.6 0 0 1 174.28 6.13Z" fill="#F0E442"/><path d="M175.7 13.6L174.28 6.13A7.6 7.6 0 0 1 175.13 6.02Z" fill="#E69F00"/><path d="M175.7 13.6L175.13 6.02A7.6 7.6 0 0 1 175.7 6Z" fill="#CC79A7"/><circle cx="175.7" cy="13.6" r="7.6" fill="none" stroke="#bdbdbd" stroke-width="0.25"/><path d="M206.4 56L206.4 53.9A2.1 2.1 0 0 1 208.5 56.13Z" fill="#0072B2"/><path d="M206.4 56L208.5 56.13A2.1 2.1 0 0 1 205.27 57.77Z" fill="#56B4E9"/><path d="M206.4 56L205.27 57.77A2.1 2.1 0 0 1 206.01 53.94Z" fill="#F0E442"/><path d="M206.4 56L206.01 53.94A2.1 2.1 0 0 1 206.24 53.91Z" fill="#E69F00"/><path d="M206.4 56L206.24 53.91A2.1 2.1 0 0 1 206.4 53.9Z" fill="#CC79A7"/><path d="M217.2 15.6L217.2 8A7.6 7.6 0 0 1 217.2 23.2Z" fill="#0072B2"/><path d="M217.2 15.6L217.2 23.2A7.6 7.6 0 0 1 215.87 8.12Z" fill="#F0E442"/><path d="M217.2 15.6L215.87 8.12A7.6 7.6 0 0 1 216.63 8.02Z" fill="#E69F00"/><path d="M217.2 15.6L216.63 8.02A7.6 7.6 0 0 1 217.2 8Z" fill="#CC79A7"/><circle cx="217.2" cy="15.6" r="7.6" fill="none" stroke="#bdbdbd" stroke-width="0.25"/><path d="M217.2 45.5L217.2 43.4A2.1 2.1 0 0 1 217.2 47.6Z" fill="#0072B2"/><path d="M217.2 45.5L217.2 47.6A2.1 2.1 0 0 1 216.83 43.43Z" fill="#F0E442"/><path d="M217.2 45.5L216.83 43.43A2.1 2.1 0 0 1 217.04 43.41Z" fill="#E69F00"/><path d="M217.2 45.5L217.04 43.41A2.1 2.1 0 0 1 217.2 43.4Z" fill="#CC79A7"/><path d="M269.7 25.1L269.7 17.5A7.6 7.6 0 1 1 263.2 29.04Z" fill="#0072B2"/><path d="M269.7 25.1L263.2 29.04A7.6 7.6 0 0 1 268.27 17.64Z" fill="#F0E442"/><path d="M269.7 25.1L268.27 17.64A7.6 7.6 0 0 1 269.7 17.5Z" fill="#CC79A7"/><circle cx="269.7" cy="25.1" r="7.6" fill="none" stroke="#bdbdbd" stroke-width="0.25"/><path d="M215.6 62.6L215.6 60.5A2.1 2.1 0 1 1 213.8 63.69Z" fill="#0072B2"/><path d="M215.6 62.6L213.8 63.69A2.1 2.1 0 0 1 215.2 60.54Z" fill="#F0E442"/><path d="M215.6 62.6L215.2 60.54A2.1 2.1 0 0 1 215.6 60.5Z" fill="#CC79A7"/><path d="M188.7 59.5L188.7 51.9A7.6 7.6 0 0 1 194.47 64.45Z" fill="#0072B2"/><path d="M188.7 59.5L194.47 64.45A7.6 7.6 0 0 1 182.03 63.15Z" fill="#56B4E9"/><path d="M188.7 59.5L182.03 63.15A7.6 7.6 0 0 1 185.35 52.68Z" fill="#F0E442"/><path d="M188.7 59.5L185.35 52.68A7.6 7.6 0 0 1 187.74 51.96Z" fill="#E69F00"/><path d="M188.7 59.5L187.74 51.96A7.6 7.6 0 0 1 188.7 51.9Z" fill="#CC79A7"/><circle cx="188.7" cy="59.5" r="7.6" fill="none" stroke="#bdbdbd" stroke-width="0.25"/><path d="M217.3 59L217.3 56.9A2.1 2.1 0 0 1 218.89 60.37Z" fill="#0072B2"/><path d="M217.3 59L218.89 60.37A2.1 2.1 0 0 1 215.46 60.01Z" fill="#56B4E9"/><path d="M217.3 59L215.46 60.01A2.1 2.1 0 0 1 216.38 57.11Z" fill="#F0E442"/><path d="M217.3 59L216.38 57.11A2.1 2.1 0 0 1 217.03 56.92Z" fill="#E69F00"/><path d="M217.3 59L217.03 56.92A2.1 2.1 0 0 1 217.3 56.9Z" fill="#CC79A7"/><path d="M167.7 69.3L167.7 61.7A7.6 7.6 0 0 1 175.3 69.3Z" fill="#0072B2"/><path d="M167.7 69.3L175.3 69.3A7.6 7.6 0 0 1 175.29 69.78Z" fill="#56B4E9"/><path d="M167.7 69.3L175.29 69.78A7.6 7.6 0 1 1 166.75 61.76Z" fill="#F0E442"/><path d="M167.7 69.3L166.75 61.76A7.6 7.6 0 0 1 167.32 61.71Z" fill="#E69F00"/><path d="M167.7 69.3L167.32 61.71A7.6 7.6 0 0 1 167.7 61.7Z" fill="#CC79A7"/><circle cx="167.7" cy="69.3" r="7.6" fill="none" stroke="#bdbdbd" stroke-width="0.25"/><path d="M210.5 63.3L210.5 61.4A1.9 1.9 0 0 1 212.4 63.3Z" fill="#0072B2"/><path d="M210.5 63.3L212.4 63.3A1.9 1.9 0 0 1 212.4 63.42Z" fill="#56B4E9"/><path d="M210.5 63.3L212.4 63.42A1.9 1.9 0 1 1 210.26 61.41Z" fill="#F0E442"/><path d="M210.5 63.3L210.26 61.41A1.9 1.9 0 0 1 210.4 61.4Z" fill="#E69F00"/><path d="M210.5 63.3L210.4 61.4A1.9 1.9 0 0 1 210.5 61.4Z" fill="#CC79A7"/><path d="M177.9 103.2L177.9 95.6A7.6 7.6 0 0 1 182.39 97.07Z" fill="#0072B2"/><path d="M177.9 103.2L182.39 97.07A7.6 7.6 0 0 1 184.21 98.96Z" fill="#56B4E9"/><path d="M177.9 103.2L184.21 98.96A7.6 7.6 0 1 1 174.65 96.33Z" fill="#F0E442"/><path d="M177.9 103.2L174.65 96.33A7.6 7.6 0 0 1 177.66 95.6Z" fill="#E69F00"/><path d="M177.9 103.2L177.66 95.6A7.6 7.6 0 0 1 177.9 95.6Z" fill="#CC79A7"/><circle cx="177.9" cy="103.2" r="7.6" fill="none" stroke="#bdbdbd" stroke-width="0.25"/><path d="M205.8 72.9L205.8 70.8A2.1 2.1 0 0 1 207.04 71.2Z" fill="#0072B2"/><path d="M205.8 72.9L207.04 71.2A2.1 2.1 0 0 1 207.54 71.73Z" fill="#56B4E9"/><path d="M205.8 72.9L207.54 71.73A2.1 2.1 0 1 1 204.9 71Z" fill="#F0E442"/><path d="M205.8 72.9L204.9 71A2.1 2.1 0 0 1 205.73 70.8Z" fill="#E69F00"/><path d="M205.8 72.9L205.73 70.8A2.1 2.1 0 0 1 205.8 70.8Z" fill="#CC79A7"/><path d="M191.9 133L191.9 125.4A7.6 7.6 0 1 1 186.7 127.46Z" fill="#0072B2"/><path d="M191.9 133L186.7 127.46A7.6 7.6 0 0 1 187.63 126.71Z" fill="#56B4E9"/><path d="M191.9 133L187.63 126.71A7.6 7.6 0 0 1 187.87 126.56Z" fill="#F0E442"/><path d="M191.9 133L187.87 126.56A7.6 7.6 0 0 1 191.9 125.4Z" fill="#CC79A7"/><circle cx="191.9" cy="133" r="7.6" fill="none" stroke="#bdbdbd" stroke-width="0.25"/><path d="M239 83.8L239 82.2A1.6 1.6 0 1 1 237.9 82.63Z" fill="#0072B2"/><path d="M239 83.8L237.9 82.63A1.6 1.6 0 0 1 238.1 82.48Z" fill="#56B4E9"/><path d="M239 83.8L238.1 82.48A1.6 1.6 0 0 1 238.15 82.44Z" fill="#F0E442"/><path d="M239 83.8L238.15 82.44A1.6 1.6 0 0 1 239 82.2Z" fill="#CC79A7"/><path d="M267.1 109.7L267.1 102.1A7.6 7.6 0 1 1 259.97 112.34Z" fill="#0072B2"/><path d="M267.1 109.7L259.97 112.34A7.6 7.6 0 0 1 264.97 102.4Z" fill="#F0E442"/><path d="M267.1 109.7L264.97 102.4A7.6 7.6 0 0 1 267.1 102.1Z" fill="#CC79A7"/><circle cx="267.1" cy="109.7" r="7.6" fill="none" stroke="#bdbdbd" stroke-width="0.25"/><path d="M266.8 85.7L266.8 84A1.7 1.7 0 1 1 265.21 86.29Z" fill="#0072B2"/><path d="M266.8 85.7L265.21 86.29A1.7 1.7 0 0 1 266.32 84.07Z" fill="#F0E442"/><path d="M266.8 85.7L266.32 84.07A1.7 1.7 0 0 1 266.8 84Z" fill="#CC79A7"/><path d="M283.5 144.2L283.5 136.6A7.6 7.6 0 1 1 275.93 143.48Z" fill="#0072B2"/><path d="M283.5 144.2L275.93 143.48A7.6 7.6 0 0 1 278.23 138.73Z" fill="#F0E442"/><path d="M283.5 144.2L278.23 138.73A7.6 7.6 0 0 1 283.5 136.6Z" fill="#CC79A7"/><circle cx="283.5" cy="144.2" r="7.6" fill="none" stroke="#bdbdbd" stroke-width="0.25"/><path d="M277.3 92.8L277.3 90.9A1.9 1.9 0 1 1 275.41 92.62Z" fill="#0072B2"/><path d="M277.3 92.8L275.41 92.62A1.9 1.9 0 0 1 275.98 91.43Z" fill="#F0E442"/><path d="M277.3 92.8L275.98 91.43A1.9 1.9 0 0 1 277.3 90.9Z" fill="#CC79A7"/><path d="M328.2 101.6L328.2 94A7.6 7.6 0 1 1 323.42 95.69Z" fill="#0072B2"/><path d="M328.2 101.6L323.42 95.69A7.6 7.6 0 0 1 328.06 94Z" fill="#F0E442"/><path d="M328.2 101.6L328.06 94A7.6 7.6 0 0 1 328.2 94Z" fill="#CC79A7"/><circle cx="328.2" cy="101.6" r="7.6" fill="none" stroke="#bdbdbd" stroke-width="0.25"/><path d="M297 102.3L297 100.2A2.1 2.1 0 1 1 295.68 100.67Z" fill="#0072B2"/><path d="M297 102.3L295.68 100.67A2.1 2.1 0 0 1 296.96 100.2Z" fill="#F0E442"/><path d="M297 102.3L296.96 100.2A2.1 2.1 0 0 1 297 100.2Z" fill="#CC79A7"/><path d="M353.9 78.1L353.9 70.5A7.6 7.6 0 1 1 348.2 73.07Z" fill="#0072B2"/><path d="M353.9 78.1L348.2 73.07A7.6 7.6 0 0 1 353.18 70.53Z" fill="#56B4E9"/><path d="M353.9 78.1L353.18 70.53A7.6 7.6 0 0 1 353.9 70.5Z" fill="#E69F00"/><circle cx="353.9" cy="78.1" r="7.6" fill="none" stroke="#bdbdbd" stroke-width="0.25"/><path d="M304.4 78.5L304.4 76.4A2.1 2.1 0 1 1 302.82 77.11Z" fill="#0072B2"/><path d="M304.4 78.5L302.82 77.11A2.1 2.1 0 0 1 304.2 76.41Z" fill="#56B4E9"/><path d="M304.4 78.5L304.2 76.41A2.1 2.1 0 0 1 304.4 76.4Z" fill="#E69F00"/><path d="M365.8 150.6L365.8 143A7.6 7.6 0 0 1 367.63 157.98Z" fill="#0072B2"/><path d="M365.8 150.6L367.63 157.98A7.6 7.6 0 0 1 361.26 156.7Z" fill="#D55E00"/><path d="M365.8 150.6L361.26 156.7A7.6 7.6 0 0 1 365.23 143.02Z" fill="#F0E442"/><path d="M365.8 150.6L365.23 143.02A7.6 7.6 0 0 1 365.8 143Z" fill="#CC79A7"/><circle cx="365.8" cy="150.6" r="7.6" fill="none" stroke="#bdbdbd" stroke-width="0.25"/><path d="M325.6 150.7L325.6 148.6A2.1 2.1 0 0 1 326.1 152.74Z" fill="#0072B2"/><path d="M325.6 150.7L326.1 152.74A2.1 2.1 0 0 1 324.35 152.38Z" fill="#D55E00"/><path d="M325.6 150.7L324.35 152.38A2.1 2.1 0 0 1 325.44 148.61Z" fill="#F0E442"/><path d="M325.6 150.7L325.44 148.61A2.1 2.1 0 0 1 325.6 148.6Z" fill="#CC79A7"/><rect x="14" y="154.8" width="8.5" height="5.8" rx="1.3" fill="#6a97ee"/><rect x="14" y="165.8" width="8.5" height="5.8" rx="1.3" fill="#7fa5f0"/><rect x="14" y="176.8" width="8.5" height="5.8" rx="1.3" fill="#96b5f2"/><rect x="14" y="187.8" width="8.5" height="5.8" rx="1.3" fill="#b2c8f5"/><rect x="14" y="198.8" width="8.5" height="5.8" rx="1.3" fill="#cad9f7"/><rect x="59.8" y="161.1" width="7.0" height="3.1" fill="#0072B2" stroke="#000" stroke-width="0.6"/><text x="71.4" y="164.4" font-size="6.1" fill="#111"><tspan font-style="italic">bla</tspan><tspan font-size="4.2" dy="1.1">NDM</tspan></text><rect x="59.8" y="168.78" width="7.0" height="3.1" fill="#56B4E9" stroke="#000" stroke-width="0.6"/><text x="71.4" y="172.08" font-size="6.1" fill="#111"><tspan font-style="italic">bla</tspan><tspan font-size="4.2" dy="1.1">KPC</tspan></text><rect x="59.8" y="176.46" width="7.0" height="3.1" fill="#D55E00" stroke="#000" stroke-width="0.6"/><text x="71.4" y="179.76" font-size="6.1" fill="#111"><tspan font-style="italic">bla</tspan><tspan font-size="4.2" dy="1.1">IMP</tspan></text><rect x="59.8" y="184.14" width="7.0" height="3.1" fill="#F0E442" stroke="#000" stroke-width="0.6"/><text x="71.4" y="187.44" font-size="6.1" fill="#111"><tspan font-style="italic">bla</tspan><tspan font-size="4.2" dy="1.1">OXA-48-like</tspan></text><rect x="59.8" y="191.82" width="7.0" height="3.1" fill="#E69F00" stroke="#000" stroke-width="0.6"/><text x="71.4" y="195.12" font-size="6.1" fill="#111"><tspan font-style="italic">bla</tspan><tspan font-size="4.2" dy="1.1">VIM</tspan><tspan dy="-1.1" font-size="5.75"> / other mechanism</tspan></text><rect x="59.8" y="199.5" width="7.0" height="3.1" fill="#CC79A7" stroke="#000" stroke-width="0.6"/><path d="M556.5 56.7A64.5 64.5 0 0 1 564.71 57.22L560.51 89.96A31.5 31.5 0 0 0 556.5 89.7Z" fill="#D55E00" stroke="#fff" stroke-width="0.6"/><path d="M564.71 57.22A64.5 64.5 0 0 1 571.6 58.49L563.87 90.58A31.5 31.5 0 0 0 560.51 89.96Z" fill="#56B4E9" stroke="#fff" stroke-width="0.6"/><path d="M571.6 58.49A64.5 64.5 0 1 1 504.04 158.73L530.88 139.53A31.5 31.5 0 1 0 563.87 90.58Z" fill="#0072B2" stroke="#fff" stroke-width="0.6"/><path d="M504.04 158.73A64.5 64.5 0 0 1 540.42 58.74L548.65 90.69A31.5 31.5 0 0 0 530.88 139.53Z" fill="#F0E442" stroke="#fff" stroke-width="0.6"/><path d="M540.42 58.74A64.5 64.5 0 0 1 545.45 57.65L551.1 90.17A31.5 31.5 0 0 0 548.65 90.69Z" fill="#E69F00" stroke="#fff" stroke-width="0.6"/><path d="M545.45 57.65A64.5 64.5 0 0 1 556.5 56.7L556.5 89.7A31.5 31.5 0 0 0 551.1 90.17Z" fill="#CC79A7" stroke="#fff" stroke-width="0.6"/><path d="M556.5 91A30.2 30.2 0 0 1 571.38 94.92L564.78 106.58A16.8 16.8 0 0 0 556.5 104.4Z" fill="#D55E00" stroke="#fff" stroke-width="0.5"/><path d="M571.38 94.92A30.2 30.2 0 0 1 578.67 100.69L568.83 109.79A16.8 16.8 0 0 0 564.78 106.58Z" fill="#56B4E9" stroke="#fff" stroke-width="0.5"/><path d="M578.67 100.69A30.2 30.2 0 1 1 529.85 107L541.67 113.3A16.8 16.8 0 1 0 568.83 109.79Z" fill="#0072B2" stroke="#fff" stroke-width="0.5"/><path d="M529.85 107A30.2 30.2 0 0 1 551.85 91.36L553.91 104.6A16.8 16.8 0 0 0 541.67 113.3Z" fill="#F0E442" stroke="#fff" stroke-width="0.5"/><path d="M551.85 91.36A30.2 30.2 0 0 1 553.39 91.16L554.77 104.49A16.8 16.8 0 0 0 553.91 104.6Z" fill="#E69F00" stroke="#fff" stroke-width="0.5"/><path d="M553.39 91.16A30.2 30.2 0 0 1 556.5 91L556.5 104.4A16.8 16.8 0 0 0 554.77 104.49Z" fill="#CC79A7" stroke="#fff" stroke-width="0.5"/><path d="M556.5 121.2L556.5 105.6A15.6 15.6 0 0 1 560.12 106.03Z" fill="#D55E00" stroke="#fff" stroke-width="0.4"/><path d="M556.5 121.2L560.12 106.03A15.6 15.6 0 0 1 569.99 113.36Z" fill="#56B4E9" stroke="#fff" stroke-width="0.4"/><path d="M556.5 121.2L569.99 113.36A15.6 15.6 0 1 1 547.76 108.28Z" fill="#0072B2" stroke="#fff" stroke-width="0.4"/><path d="M556.5 121.2L547.76 108.28A15.6 15.6 0 0 1 552.73 106.06Z" fill="#F0E442" stroke="#fff" stroke-width="0.4"/><path d="M556.5 121.2L552.73 106.06A15.6 15.6 0 0 1 554.22 105.77Z" fill="#E69F00" stroke="#fff" stroke-width="0.4"/><path d="M556.5 121.2L554.22 105.77A15.6 15.6 0 0 1 556.5 105.6Z" fill="#CC79A7" stroke="#fff" stroke-width="0.4"/><circle cx="556.5" cy="121.2" r="30.85" fill="none" stroke="#fff" stroke-width="1.4"/><circle cx="556.5" cy="121.2" r="16.2" fill="none" stroke="#fff" stroke-width="1.3"/><line x1="496.5" y1="49.6" x2="542.4" y2="61.3" stroke="#333" stroke-width="0.45"/><line x1="535.9" y1="45.6" x2="550.6" y2="57.4" stroke="#333" stroke-width="0.45"/><line x1="590.9" y1="42.6" x2="561.2" y2="57.6" stroke="#333" stroke-width="0.45"/><line x1="622.5" y1="88.3" x2="566" y2="69.2" stroke="#333" stroke-width="0.45"/><line x1="486.4" y1="90.1" x2="500.3" y2="93.6" stroke="#333" stroke-width="0.45"/><line x1="617.1" y1="165.8" x2="605.4" y2="160.3" stroke="#333" stroke-width="0.45"/><rect x="504.5" y="16.4" width="61.4" height="29.2" fill="#fff" stroke="#777" stroke-width="0.55"/><rect x="425.3" y="35.8" width="71.2" height="28.7" fill="#fff" stroke="#777" stroke-width="0.55"/><text x="428" y="43" font-size="5.8" fill="#000"><tspan font-style="italic">bla</tspan><tspan font-size="3.9" dy="1">VIM</tspan><tspan dy="-1" font-size="5.45"> / other mechanism</tspan></text><rect x="591.1" y="28.4" width="59.8" height="28.6" fill="#fff" stroke="#777" stroke-width="0.55"/><text x="593.8" y="35.6" font-size="5.8" fill="#000"><tspan font-style="italic">bla</tspan><tspan font-size="3.9" dy="1.3">IMP</tspan></text><rect x="425.4" y="75.5" width="61" height="29.4" fill="#fff" stroke="#777" stroke-width="0.55"/><text x="428" y="82.3" font-size="5.8" fill="#000"><tspan font-style="italic">bla</tspan><tspan font-size="3.6" dy="1.3">OXA-48-like</tspan></text><rect x="622.5" y="74.5" width="61.4" height="28.5" fill="#fff" stroke="#777" stroke-width="0.55"/><text x="625.2" y="81.8" font-size="5.8" fill="#000"><tspan font-style="italic">bla</tspan><tspan font-size="3.9" dy="1.3">KPC</tspan></text><rect x="617.1" y="148.9" width="62.3" height="28.9" fill="#fff" stroke="#777" stroke-width="0.55"/><text x="619.8" y="155.6" font-size="5.8" fill="#000"><tspan font-style="italic">bla</tspan><tspan font-size="3.9" dy="1.3">NDM</tspan></text><defs><clipPath id="cd1"><circle cx="67.76" cy="272.86" r="2.35"/></clipPath><clipPath id="cd2"><circle cx="61.99" cy="278.63" r="2.35"/></clipPath><clipPath id="cd3"><circle cx="141.69" cy="249.68" r="2.35"/></clipPath><clipPath id="cd4"><circle cx="130.15" cy="278.53" r="2.35"/></clipPath><clipPath id="cd5"><circle cx="207.55" cy="272.86" r="2.35"/></clipPath><clipPath id="cd6"><circle cx="213.32" cy="278.63" r="2.35"/></clipPath><clipPath id="cd7"><circle cx="219.09" cy="278.63" r="2.35"/></clipPath><clipPath id="cd8"><circle cx="51.25" cy="344.28" r="2.35"/></clipPath><clipPath id="cd9"><circle cx="74.33" cy="350.05" r="2.35"/></clipPath><clipPath id="cd10"><circle cx="62.79" cy="373.13" r="2.35"/></clipPath><clipPath id="cd11"><circle cx="124.48" cy="372.93" r="2.35"/></clipPath><clipPath id="cd12"><circle cx="136.02" cy="372.93" r="2.35"/></clipPath><clipPath id="cd13"><circle cx="153.33" cy="372.93" r="2.35"/></clipPath><clipPath id="cd14"><circle cx="231.23" cy="350.05" r="2.35"/></clipPath></defs><path d="M21.6 226.7H73.53M21.6 226.7V278.63M21.6 232.47H73.53M27.37 226.7V278.63M21.6 238.24H73.53M33.14 226.7V278.63M21.6 244.01H73.53M38.91 226.7V278.63M21.6 249.78H73.53M44.68 226.7V278.63M21.6 255.55H73.53M50.45 226.7V278.63M21.6 261.32H73.53M56.22 226.7V278.63M21.6 267.09H73.53M61.99 226.7V278.63M21.6 272.86H73.53M67.76 226.7V278.63M21.6 278.63H73.53M73.53 226.7V278.63M101.3 226.6H153.23M101.3 226.6V278.53M101.3 232.37H153.23M107.07 226.6V278.53M101.3 238.14H153.23M112.84 226.6V278.53M101.3 243.91H153.23M118.61 226.6V278.53M101.3 249.68H153.23M124.38 226.6V278.53M101.3 255.45H153.23M130.15 226.6V278.53M101.3 261.22H153.23M135.92 226.6V278.53M101.3 266.99H153.23M141.69 226.6V278.53M101.3 272.76H153.23M147.46 226.6V278.53M101.3 278.53H153.23M153.23 226.6V278.53M178.7 226.7H230.63M178.7 226.7V278.63M178.7 232.47H230.63M184.47 226.7V278.63M178.7 238.24H230.63M190.24 226.7V278.63M178.7 244.01H230.63M196.01 226.7V278.63M178.7 249.78H230.63M201.78 226.7V278.63M178.7 255.55H230.63M207.55 226.7V278.63M178.7 261.32H230.63M213.32 226.7V278.63M178.7 267.09H230.63M219.09 226.7V278.63M178.7 272.86H230.63M224.86 226.7V278.63M178.7 278.63H230.63M230.63 226.7V278.63M22.4 321.2H74.33M22.4 321.2V373.13M22.4 326.97H74.33M28.17 321.2V373.13M22.4 332.74H74.33M33.94 321.2V373.13M22.4 338.51H74.33M39.71 321.2V373.13M22.4 344.28H74.33M45.48 321.2V373.13M22.4 350.05H74.33M51.25 321.2V373.13M22.4 355.82H74.33M57.02 321.2V373.13M22.4 361.59H74.33M62.79 321.2V373.13M22.4 367.36H74.33M68.56 321.2V373.13M22.4 373.13H74.33M74.33 321.2V373.13M101.4 321H153.33M101.4 321V372.93M101.4 326.77H153.33M107.17 321V372.93M101.4 332.54H153.33M112.94 321V372.93M101.4 338.31H153.33M118.71 321V372.93M101.4 344.08H153.33M124.48 321V372.93M101.4 349.85H153.33M130.25 321V372.93M101.4 355.62H153.33M136.02 321V372.93M101.4 361.39H153.33M141.79 321V372.93M101.4 367.16H153.33M147.56 321V372.93M101.4 372.93H153.33M153.33 321V372.93M179.3 321.2H231.23M179.3 321.2V373.13M179.3 326.97H231.23M185.07 321.2V373.13M179.3 332.74H231.23M190.84 321.2V373.13M179.3 338.51H231.23M196.61 321.2V373.13M179.3 344.28H231.23M202.38 321.2V373.13M179.3 350.05H231.23M208.15 321.2V373.13M179.3 355.82H231.23M213.92 321.2V373.13M179.3 361.59H231.23M219.69 321.2V373.13M179.3 367.36H231.23M225.46 321.2V373.13M179.3 373.13H231.23M231.23 321.2V373.13" stroke="#a8a8a8" stroke-width="0.6" fill="none"/><circle cx="21.6" cy="226.7" r="2.35" fill="#0072B2"/><circle cx="21.6" cy="226.7" r="2.35" fill="none" stroke="#5e5e5e" stroke-width="0.45"/><circle cx="27.37" cy="226.7" r="2.35" fill="#0072B2"/><circle cx="27.37" cy="226.7" r="2.35" fill="none" stroke="#5e5e5e" stroke-width="0.45"/><circle cx="33.14" cy="226.7" r="2.35" fill="#0072B2"/><circle cx="33.14" cy="226.7" r="2.35" fill="none" stroke="#5e5e5e" stroke-width="0.45"/><circle cx="38.91" cy="226.7" r="2.35" fill="#0072B2"/><circle cx="38.91" cy="226.7" r="2.35" fill="none" stroke="#5e5e5e" stroke-width="0.45"/><circle cx="44.68" cy="226.7" r="2.35" fill="#0072B2"/><circle cx="44.68" cy="226.7" r="2.35" fill="none" stroke="#5e5e5e" stroke-width="0.45"/><circle cx="50.45" cy="226.7" r="2.35" fill="#0072B2"/><circle cx="50.45" cy="226.7" r="2.35" fill="none" stroke="#5e5e5e" stroke-width="0.45"/><circle cx="56.22" cy="226.7" r="2.35" fill="#0072B2"/><circle cx="56.22" cy="226.7" r="2.35" fill="none" stroke="#5e5e5e" stroke-width="0.45"/><circle cx="61.99" cy="226.7" r="2.35" fill="#0072B2"/><circle cx="61.99" cy="226.7" r="2.35" fill="none" stroke="#5e5e5e" stroke-width="0.45"/><circle cx="67.76" cy="226.7" r="2.35" fill="#0072B2"/><circle cx="67.76" cy="226.7" r="2.35" fill="none" stroke="#5e5e5e" stroke-width="0.45"/><circle cx="73.53" cy="226.7" r="2.35" fill="#0072B2"/><circle cx="73.53" cy="226.7" r="2.35" fill="none" stroke="#5e5e5e" stroke-width="0.45"/><circle cx="21.6" cy="232.47" r="2.35" fill="#0072B2"/><circle cx="21.6" cy="232.47" r="2.35" fill="none" stroke="#5e5e5e" stroke-width="0.45"/><circle cx="27.37" cy="232.47" r="2.35" fill="#0072B2"/><circle cx="27.37" cy="232.47" r="2.35" fill="none" stroke="#5e5e5e" stroke-width="0.45"/><circle cx="33.14" cy="232.47" r="2.35" fill="#0072B2"/><circle cx="33.14" cy="232.47" r="2.35" fill="none" stroke="#5e5e5e" stroke-width="0.45"/><circle cx="38.91" cy="232.47" r="2.35" fill="#0072B2"/><circle cx="38.91" cy="232.47" r="2.35" fill="none" stroke="#5e5e5e" stroke-width="0.45"/><circle cx="44.68" cy="232.47" r="2.35" fill="#0072B2"/><circle cx="44.68" cy="232.47" r="2.35" fill="none" stroke="#5e5e5e" stroke-width="0.45"/><circle cx="50.45" cy="232.47" r="2.35" fill="#0072B2"/><circle cx="50.45" cy="232.47" r="2.35" fill="none" stroke="#5e5e5e" stroke-width="0.45"/><circle cx="56.22" cy="232.47" r="2.35" fill="#0072B2"/><circle cx="56.22" cy="232.47" r="2.35" fill="none" stroke="#5e5e5e" stroke-width="0.45"/><circle cx="61.99" cy="232.47" r="2.35" fill="#0072B2"/><circle cx="61.99" cy="232.47" r="2.35" fill="none" stroke="#5e5e5e" stroke-width="0.45"/><circle cx="67.76" cy="232.47" r="2.35" fill="#0072B2"/><circle cx="67.76" cy="232.47" r="2.35" fill="none" stroke="#5e5e5e" stroke-width="0.45"/><circle cx="73.53" cy="232.47" r="2.35" fill="#0072B2"/><circle cx="73.53" cy="232.47" r="2.35" fill="none" stroke="#5e5e5e" stroke-width="0.45"/><circle cx="21.6" cy="238.24" r="2.35" fill="#0072B2"/><circle cx="21.6" cy="238.24" r="2.35" fill="none" stroke="#5e5e5e" stroke-width="0.45"/><circle cx="27.37" cy="238.24" r="2.35" fill="#0072B2"/><circle cx="27.37" cy="238.24" r="2.35" fill="none" stroke="#5e5e5e" stroke-width="0.45"/><circle cx="33.14" cy="238.24" r="2.35" fill="#0072B2"/><circle cx="33.14" cy="238.24" r="2.35" fill="none" stroke="#5e5e5e" stroke-width="0.45"/><circle cx="38.91" cy="238.24" r="2.35" fill="#0072B2"/><circle cx="38.91" cy="238.24" r="2.35" fill="none" stroke="#5e5e5e" stroke-width="0.45"/><circle cx="44.68" cy="238.24" r="2.35" fill="#0072B2"/><circle cx="44.68" cy="238.24" r="2.35" fill="none" stroke="#5e5e5e" stroke-width="0.45"/><circle cx="50.45" cy="238.24" r="2.35" fill="#0072B2"/><circle cx="50.45" cy="238.24" r="2.35" fill="none" stroke="#5e5e5e" stroke-width="0.45"/><circle cx="56.22" cy="238.24" r="2.35" fill="#0072B2"/><circle cx="56.22" cy="238.24" r="2.35" fill="none" stroke="#5e5e5e" stroke-width="0.45"/><circle cx="61.99" cy="238.24" r="2.35" fill="#0072B2"/><circle cx="61.99" cy="238.24" r="2.35" fill="none" stroke="#5e5e5e" stroke-width="0.45"/><circle cx="67.76" cy="238.24" r="2.35" fill="#0072B2"/><circle cx="67.76" cy="238.24" r="2.35" fill="none" stroke="#5e5e5e" stroke-width="0.45"/><circle cx="73.53" cy="238.24" r="2.35" fill="#0072B2"/><circle cx="73.53" cy="238.24" r="2.35" fill="none" stroke="#5e5e5e" stroke-width="0.45"/><circle cx="21.6" cy="244.01" r="2.35" fill="#0072B2"/><circle cx="21.6" cy="244.01" r="2.35" fill="none" stroke="#5e5e5e" stroke-width="0.45"/><circle cx="27.37" cy="244.01" r="2.35" fill="#0072B2"/><circle cx="27.37" cy="244.01" r="2.35" fill="none" stroke="#5e5e5e" stroke-width="0.45"/><circle cx="33.14" cy="244.01" r="2.35" fill="#0072B2"/><circle cx="33.14" cy="244.01" r="2.35" fill="none" stroke="#5e5e5e" stroke-width="0.45"/><circle cx="38.91" cy="244.01" r="2.35" fill="#0072B2"/><circle cx="38.91" cy="244.01" r="2.35" fill="none" stroke="#5e5e5e" stroke-width="0.45"/><circle cx="44.68" cy="244.01" r="2.35" fill="#0072B2"/><circle cx="44.68" cy="244.01" r="2.35" fill="none" stroke="#5e5e5e" stroke-width="0.45"/><circle cx="50.45" cy="244.01" r="2.35" fill="#0072B2"/><circle cx="50.45" cy="244.01" r="2.35" fill="none" stroke="#5e5e5e" stroke-width="0.45"/><circle cx="56.22" cy="244.01" r="2.35" fill="#0072B2"/><circle cx="56.22" cy="244.01" r="2.35" fill="none" stroke="#5e5e5e" stroke-width="0.45"/><circle cx="61.99" cy="244.01" r="2.35" fill="#0072B2"/><circle cx="61.99" cy="244.01" r="2.35" fill="none" stroke="#5e5e5e" stroke-width="0.45"/><circle cx="67.76" cy="244.01" r="2.35" fill="#0072B2"/><circle cx="67.76" cy="244.01" r="2.35" fill="none" stroke="#5e5e5e" stroke-width="0.45"/><circle cx="73.53" cy="244.01" r="2.35" fill="#0072B2"/><circle cx="73.53" cy="244.01" r="2.35" fill="none" stroke="#5e5e5e" stroke-width="0.45"/><circle cx="21.6" cy="249.78" r="2.35" fill="#0072B2"/><circle cx="21.6" cy="249.78" r="2.35" fill="none" stroke="#5e5e5e" stroke-width="0.45"/><circle cx="27.37" cy="249.78" r="2.35" fill="#0072B2"/><circle cx="27.37" cy="249.78" r="2.35" fill="none" stroke="#5e5e5e" stroke-width="0.45"/><circle cx="33.14" cy="249.78" r="2.35" fill="#0072B2"/><circle cx="33.14" cy="249.78" r="2.35" fill="none" stroke="#5e5e5e" stroke-width="0.45"/><circle cx="38.91" cy="249.78" r="2.35" fill="#0072B2"/><circle cx="38.91" cy="249.78" r="2.35" fill="none" stroke="#5e5e5e" stroke-width="0.45"/><circle cx="44.68" cy="249.78" r="2.35" fill="#0072B2"/><circle cx="44.68" cy="249.78" r="2.35" fill="none" stroke="#5e5e5e" stroke-width="0.45"/><circle cx="50.45" cy="249.78" r="2.35" fill="#0072B2"/><circle cx="50.45" cy="249.78" r="2.35" fill="none" stroke="#5e5e5e" stroke-width="0.45"/><circle cx="56.22" cy="249.78" r="2.35" fill="#0072B2"/><circle cx="56.22" cy="249.78" r="2.35" fill="none" stroke="#5e5e5e" stroke-width="0.45"/><circle cx="61.99" cy="249.78" r="2.35" fill="#0072B2"/><circle cx="61.99" cy="249.78" r="2.35" fill="none" stroke="#5e5e5e" stroke-width="0.45"/><circle cx="67.76" cy="249.78" r="2.35" fill="#0072B2"/><circle cx="67.76" cy="249.78" r="2.35" fill="none" stroke="#5e5e5e" stroke-width="0.45"/><circle cx="73.53" cy="249.78" r="2.35" fill="#0072B2"/><circle cx="73.53" cy="249.78" r="2.35" fill="none" stroke="#5e5e5e" stroke-width="0.45"/><circle cx="21.6" cy="255.55" r="2.35" fill="#0072B2"/><circle cx="21.6" cy="255.55" r="2.35" fill="none" stroke="#5e5e5e" stroke-width="0.45"/><circle cx="27.37" cy="255.55" r="2.35" fill="#0072B2"/><circle cx="27.37" cy="255.55" r="2.35" fill="none" stroke="#5e5e5e" stroke-width="0.45"/><circle cx="33.14" cy="255.55" r="2.35" fill="#0072B2"/><circle cx="33.14" cy="255.55" r="2.35" fill="none" stroke="#5e5e5e" stroke-width="0.45"/><circle cx="38.91" cy="255.55" r="2.35" fill="#0072B2"/><circle cx="38.91" cy="255.55" r="2.35" fill="none" stroke="#5e5e5e" stroke-width="0.45"/><circle cx="44.68" cy="255.55" r="2.35" fill="#0072B2"/><circle cx="44.68" cy="255.55" r="2.35" fill="none" stroke="#5e5e5e" stroke-width="0.45"/><circle cx="50.45" cy="255.55" r="2.35" fill="#0072B2"/><circle cx="50.45" cy="255.55" r="2.35" fill="none" stroke="#5e5e5e" stroke-width="0.45"/><circle cx="56.22" cy="255.55" r="2.35" fill="#0072B2"/><circle cx="56.22" cy="255.55" r="2.35" fill="none" stroke="#5e5e5e" stroke-width="0.45"/><circle cx="61.99" cy="255.55" r="2.35" fill="#0072B2"/><circle cx="61.99" cy="255.55" r="2.35" fill="none" stroke="#5e5e5e" stroke-width="0.45"/><circle cx="67.76" cy="255.55" r="2.35" fill="#0072B2"/><circle cx="67.76" cy="255.55" r="2.35" fill="none" stroke="#5e5e5e" stroke-width="0.45"/><circle cx="73.53" cy="255.55" r="2.35" fill="#0072B2"/><circle cx="73.53" cy="255.55" r="2.35" fill="none" stroke="#5e5e5e" stroke-width="0.45"/><circle cx="21.6" cy="261.32" r="2.35" fill="#0072B2"/><circle cx="21.6" cy="261.32" r="2.35" fill="none" stroke="#5e5e5e" stroke-width="0.45"/><circle cx="27.37" cy="261.32" r="2.35" fill="#0072B2"/><circle cx="27.37" cy="261.32" r="2.35" fill="none" stroke="#5e5e5e" stroke-width="0.45"/><circle cx="33.14" cy="261.32" r="2.35" fill="#0072B2"/><circle cx="33.14" cy="261.32" r="2.35" fill="none" stroke="#5e5e5e" stroke-width="0.45"/><circle cx="38.91" cy="261.32" r="2.35" fill="#0072B2"/><circle cx="38.91" cy="261.32" r="2.35" fill="none" stroke="#5e5e5e" stroke-width="0.45"/><circle cx="44.68" cy="261.32" r="2.35" fill="#0072B2"/><circle cx="44.68" cy="261.32" r="2.35" fill="none" stroke="#5e5e5e" stroke-width="0.45"/><circle cx="50.45" cy="261.32" r="2.35" fill="#0072B2"/><circle cx="50.45" cy="261.32" r="2.35" fill="none" stroke="#5e5e5e" stroke-width="0.45"/><circle cx="56.22" cy="261.32" r="2.35" fill="#0072B2"/><circle cx="56.22" cy="261.32" r="2.35" fill="none" stroke="#5e5e5e" stroke-width="0.45"/><circle cx="61.99" cy="261.32" r="2.35" fill="#0072B2"/><circle cx="61.99" cy="261.32" r="2.35" fill="none" stroke="#5e5e5e" stroke-width="0.45"/><circle cx="67.76" cy="261.32" r="2.35" fill="#0072B2"/><circle cx="67.76" cy="261.32" r="2.35" fill="none" stroke="#5e5e5e" stroke-width="0.45"/><circle cx="73.53" cy="261.32" r="2.35" fill="#0072B2"/><circle cx="73.53" cy="261.32" r="2.35" fill="none" stroke="#5e5e5e" stroke-width="0.45"/><circle cx="21.6" cy="267.09" r="2.35" fill="#0072B2"/><circle cx="21.6" cy="267.09" r="2.35" fill="none" stroke="#5e5e5e" stroke-width="0.45"/><circle cx="27.37" cy="267.09" r="2.35" fill="#0072B2"/><circle cx="27.37" cy="267.09" r="2.35" fill="none" stroke="#5e5e5e" stroke-width="0.45"/><circle cx="33.14" cy="267.09" r="2.35" fill="#0072B2"/><circle cx="33.14" cy="267.09" r="2.35" fill="none" stroke="#5e5e5e" stroke-width="0.45"/><circle cx="38.91" cy="267.09" r="2.35" fill="#0072B2"/><circle cx="38.91" cy="267.09" r="2.35" fill="none" stroke="#5e5e5e" stroke-width="0.45"/><circle cx="44.68" cy="267.09" r="2.35" fill="#0072B2"/><circle cx="44.68" cy="267.09" r="2.35" fill="none" stroke="#5e5e5e" stroke-width="0.45"/><circle cx="50.45" cy="267.09" r="2.35" fill="#0072B2"/><circle cx="50.45" cy="267.09" r="2.35" fill="none" stroke="#5e5e5e" stroke-width="0.45"/><circle cx="56.22" cy="267.09" r="2.35" fill="#0072B2"/><circle cx="56.22" cy="267.09" r="2.35" fill="none" stroke="#5e5e5e" stroke-width="0.45"/><circle cx="61.99" cy="267.09" r="2.35" fill="#56B4E9"/><circle cx="61.99" cy="267.09" r="2.35" fill="none" stroke="#5e5e5e" stroke-width="0.45"/><circle cx="67.76" cy="267.09" r="2.35" fill="#56B4E9"/><circle cx="67.76" cy="267.09" r="2.35" fill="none" stroke="#5e5e5e" stroke-width="0.45"/><circle cx="73.53" cy="267.09" r="2.35" fill="#56B4E9"/><circle cx="73.53" cy="267.09" r="2.35" fill="none" stroke="#5e5e5e" stroke-width="0.45"/><circle cx="21.6" cy="272.86" r="2.35" fill="#56B4E9"/><circle cx="21.6" cy="272.86" r="2.35" fill="none" stroke="#5e5e5e" stroke-width="0.45"/><circle cx="27.37" cy="272.86" r="2.35" fill="#56B4E9"/><circle cx="27.37" cy="272.86" r="2.35" fill="none" stroke="#5e5e5e" stroke-width="0.45"/><circle cx="33.14" cy="272.86" r="2.35" fill="#56B4E9"/><circle cx="33.14" cy="272.86" r="2.35" fill="none" stroke="#5e5e5e" stroke-width="0.45"/><circle cx="38.91" cy="272.86" r="2.35" fill="#56B4E9"/><circle cx="38.91" cy="272.86" r="2.35" fill="none" stroke="#5e5e5e" stroke-width="0.45"/><circle cx="44.68" cy="272.86" r="2.35" fill="#56B4E9"/><circle cx="44.68" cy="272.86" r="2.35" fill="none" stroke="#5e5e5e" stroke-width="0.45"/><circle cx="50.45" cy="272.86" r="2.35" fill="#56B4E9"/><circle cx="50.45" cy="272.86" r="2.35" fill="none" stroke="#5e5e5e" stroke-width="0.45"/><circle cx="56.22" cy="272.86" r="2.35" fill="#D55E00"/><circle cx="56.22" cy="272.86" r="2.35" fill="none" stroke="#5e5e5e" stroke-width="0.45"/><circle cx="61.99" cy="272.86" r="2.35" fill="#D55E00"/><circle cx="61.99" cy="272.86" r="2.35" fill="none" stroke="#5e5e5e" stroke-width="0.45"/><g clip-path="url(#cd1)"><rect x="65.41" y="270.51" width="2.4" height="4.7" fill="#D55E00"/><rect x="67.76" y="270.51" width="2.4" height="4.7" fill="#F0E442"/></g><circle cx="67.76" cy="272.86" r="2.35" fill="none" stroke="#5e5e5e" stroke-width="0.45"/><circle cx="73.53" cy="272.86" r="2.35" fill="#F0E442"/><circle cx="73.53" cy="272.86" r="2.35" fill="none" stroke="#5e5e5e" stroke-width="0.45"/><circle cx="21.6" cy="278.63" r="2.35" fill="#F0E442"/><circle cx="21.6" cy="278.63" r="2.35" fill="none" stroke="#5e5e5e" stroke-width="0.45"/><circle cx="27.37" cy="278.63" r="2.35" fill="#F0E442"/><circle cx="27.37" cy="278.63" r="2.35" fill="none" stroke="#5e5e5e" stroke-width="0.45"/><circle cx="33.14" cy="278.63" r="2.35" fill="#F0E442"/><circle cx="33.14" cy="278.63" r="2.35" fill="none" stroke="#5e5e5e" stroke-width="0.45"/><circle cx="38.91" cy="278.63" r="2.35" fill="#F0E442"/><circle cx="38.91" cy="278.63" r="2.35" fill="none" stroke="#5e5e5e" stroke-width="0.45"/><circle cx="44.68" cy="278.63" r="2.35" fill="#F0E442"/><circle cx="44.68" cy="278.63" r="2.35" fill="none" stroke="#5e5e5e" stroke-width="0.45"/><circle cx="50.45" cy="278.63" r="2.35" fill="#F0E442"/><circle cx="50.45" cy="278.63" r="2.35" fill="none" stroke="#5e5e5e" stroke-width="0.45"/><circle cx="56.22" cy="278.63" r="2.35" fill="#F0E442"/><circle cx="56.22" cy="278.63" r="2.35" fill="none" stroke="#5e5e5e" stroke-width="0.45"/><g clip-path="url(#cd2)"><rect x="59.64" y="276.28" width="2.4" height="4.7" fill="#F0E442"/><rect x="61.99" y="276.28" width="2.4" height="4.7" fill="#CC79A7"/></g><circle cx="61.99" cy="278.63" r="2.35" fill="none" stroke="#5e5e5e" stroke-width="0.45"/><circle cx="67.76" cy="278.63" r="2.35" fill="#CC79A7"/><circle cx="67.76" cy="278.63" r="2.35" fill="none" stroke="#5e5e5e" stroke-width="0.45"/><circle cx="73.53" cy="278.63" r="2.35" fill="#CC79A7"/><circle cx="73.53" cy="278.63" r="2.35" fill="none" stroke="#5e5e5e" stroke-width="0.45"/><circle cx="101.3" cy="226.6" r="2.35" fill="#0072B2"/><circle cx="101.3" cy="226.6" r="2.35" fill="none" stroke="#5e5e5e" stroke-width="0.45"/><circle cx="107.07" cy="226.6" r="2.35" fill="#0072B2"/><circle cx="107.07" cy="226.6" r="2.35" fill="none" stroke="#5e5e5e" stroke-width="0.45"/><circle cx="112.84" cy="226.6" r="2.35" fill="#0072B2"/><circle cx="112.84" cy="226.6" r="2.35" fill="none" stroke="#5e5e5e" stroke-width="0.45"/><circle cx="118.61" cy="226.6" r="2.35" fill="#0072B2"/><circle cx="118.61" cy="226.6" r="2.35" fill="none" stroke="#5e5e5e" stroke-width="0.45"/><circle cx="124.38" cy="226.6" r="2.35" fill="#0072B2"/><circle cx="124.38" cy="226.6" r="2.35" fill="none" stroke="#5e5e5e" stroke-width="0.45"/><circle cx="130.15" cy="226.6" r="2.35" fill="#0072B2"/><circle cx="130.15" cy="226.6" r="2.35" fill="none" stroke="#5e5e5e" stroke-width="0.45"/><circle cx="135.92" cy="226.6" r="2.35" fill="#0072B2"/><circle cx="135.92" cy="226.6" r="2.35" fill="none" stroke="#5e5e5e" stroke-width="0.45"/><circle cx="141.69" cy="226.6" r="2.35" fill="#0072B2"/><circle cx="141.69" cy="226.6" r="2.35" fill="none" stroke="#5e5e5e" stroke-width="0.45"/><circle cx="147.46" cy="226.6" r="2.35" fill="#0072B2"/><circle cx="147.46" cy="226.6" r="2.35" fill="none" stroke="#5e5e5e" stroke-width="0.45"/><circle cx="153.23" cy="226.6" r="2.35" fill="#0072B2"/><circle cx="153.23" cy="226.6" r="2.35" fill="none" stroke="#5e5e5e" stroke-width="0.45"/><circle cx="101.3" cy="232.37" r="2.35" fill="#0072B2"/><circle cx="101.3" cy="232.37" r="2.35" fill="none" stroke="#5e5e5e" stroke-width="0.45"/><circle cx="107.07" cy="232.37" r="2.35" fill="#0072B2"/><circle cx="107.07" cy="232.37" r="2.35" fill="none" stroke="#5e5e5e" stroke-width="0.45"/><circle cx="112.84" cy="232.37" r="2.35" fill="#0072B2"/><circle cx="112.84" cy="232.37" r="2.35" fill="none" stroke="#5e5e5e" stroke-width="0.45"/><circle cx="118.61" cy="232.37" r="2.35" fill="#0072B2"/><circle cx="118.61" cy="232.37" r="2.35" fill="none" stroke="#5e5e5e" stroke-width="0.45"/><circle cx="124.38" cy="232.37" r="2.35" fill="#0072B2"/><circle cx="124.38" cy="232.37" r="2.35" fill="none" stroke="#5e5e5e" stroke-width="0.45"/><circle cx="130.15" cy="232.37" r="2.35" fill="#0072B2"/><circle cx="130.15" cy="232.37" r="2.35" fill="none" stroke="#5e5e5e" stroke-width="0.45"/><circle cx="135.92" cy="232.37" r="2.35" fill="#0072B2"/><circle cx="135.92" cy="232.37" r="2.35" fill="none" stroke="#5e5e5e" stroke-width="0.45"/><circle cx="141.69" cy="232.37" r="2.35" fill="#0072B2"/><circle cx="141.69" cy="232.37" r="2.35" fill="none" stroke="#5e5e5e" stroke-width="0.45"/><circle cx="147.46" cy="232.37" r="2.35" fill="#0072B2"/><circle cx="147.46" cy="232.37" r="2.35" fill="none" stroke="#5e5e5e" stroke-width="0.45"/><circle cx="153.23" cy="232.37" r="2.35" fill="#0072B2"/><circle cx="153.23" cy="232.37" r="2.35" fill="none" stroke="#5e5e5e" stroke-width="0.45"/><circle cx="101.3" cy="238.14" r="2.35" fill="#0072B2"/><circle cx="101.3" cy="238.14" r="2.35" fill="none" stroke="#5e5e5e" stroke-width="0.45"/><circle cx="107.07" cy="238.14" r="2.35" fill="#0072B2"/><circle cx="107.07" cy="238.14" r="2.35" fill="none" stroke="#5e5e5e" stroke-width="0.45"/><circle cx="112.84" cy="238.14" r="2.35" fill="#0072B2"/><circle cx="112.84" cy="238.14" r="2.35" fill="none" stroke="#5e5e5e" stroke-width="0.45"/><circle cx="118.61" cy="238.14" r="2.35" fill="#0072B2"/><circle cx="118.61" cy="238.14" r="2.35" fill="none" stroke="#5e5e5e" stroke-width="0.45"/><circle cx="124.38" cy="238.14" r="2.35" fill="#0072B2"/><circle cx="124.38" cy="238.14" r="2.35" fill="none" stroke="#5e5e5e" stroke-width="0.45"/><circle cx="130.15" cy="238.14" r="2.35" fill="#0072B2"/><circle cx="130.15" cy="238.14" r="2.35" fill="none" stroke="#5e5e5e" stroke-width="0.45"/><circle cx="135.92" cy="238.14" r="2.35" fill="#0072B2"/><circle cx="135.92" cy="238.14" r="2.35" fill="none" stroke="#5e5e5e" stroke-width="0.45"/><circle cx="141.69" cy="238.14" r="2.35" fill="#0072B2"/><circle cx="141.69" cy="238.14" r="2.35" fill="none" stroke="#5e5e5e" stroke-width="0.45"/><circle cx="147.46" cy="238.14" r="2.35" fill="#56B4E9"/><circle cx="147.46" cy="238.14" r="2.35" fill="none" stroke="#5e5e5e" stroke-width="0.45"/><circle cx="153.23" cy="238.14" r="2.35" fill="#56B4E9"/><circle cx="153.23" cy="238.14" r="2.35" fill="none" stroke="#5e5e5e" stroke-width="0.45"/><circle cx="101.3" cy="243.91" r="2.35" fill="#56B4E9"/><circle cx="101.3" cy="243.91" r="2.35" fill="none" stroke="#5e5e5e" stroke-width="0.45"/><circle cx="107.07" cy="243.91" r="2.35" fill="#56B4E9"/><circle cx="107.07" cy="243.91" r="2.35" fill="none" stroke="#5e5e5e" stroke-width="0.45"/><circle cx="112.84" cy="243.91" r="2.35" fill="#56B4E9"/><circle cx="112.84" cy="243.91" r="2.35" fill="none" stroke="#5e5e5e" stroke-width="0.45"/><circle cx="118.61" cy="243.91" r="2.35" fill="#56B4E9"/><circle cx="118.61" cy="243.91" r="2.35" fill="none" stroke="#5e5e5e" stroke-width="0.45"/><circle cx="124.38" cy="243.91" r="2.35" fill="#56B4E9"/><circle cx="124.38" cy="243.91" r="2.35" fill="none" stroke="#5e5e5e" stroke-width="0.45"/><circle cx="130.15" cy="243.91" r="2.35" fill="#56B4E9"/><circle cx="130.15" cy="243.91" r="2.35" fill="none" stroke="#5e5e5e" stroke-width="0.45"/><circle cx="135.92" cy="243.91" r="2.35" fill="#56B4E9"/><circle cx="135.92" cy="243.91" r="2.35" fill="none" stroke="#5e5e5e" stroke-width="0.45"/><circle cx="141.69" cy="243.91" r="2.35" fill="#56B4E9"/><circle cx="141.69" cy="243.91" r="2.35" fill="none" stroke="#5e5e5e" stroke-width="0.45"/><circle cx="147.46" cy="243.91" r="2.35" fill="#56B4E9"/><circle cx="147.46" cy="243.91" r="2.35" fill="none" stroke="#5e5e5e" stroke-width="0.45"/><circle cx="153.23" cy="243.91" r="2.35" fill="#56B4E9"/><circle cx="153.23" cy="243.91" r="2.35" fill="none" stroke="#5e5e5e" stroke-width="0.45"/><circle cx="101.3" cy="249.68" r="2.35" fill="#56B4E9"/><circle cx="101.3" cy="249.68" r="2.35" fill="none" stroke="#5e5e5e" stroke-width="0.45"/><circle cx="107.07" cy="249.68" r="2.35" fill="#56B4E9"/><circle cx="107.07" cy="249.68" r="2.35" fill="none" stroke="#5e5e5e" stroke-width="0.45"/><circle cx="112.84" cy="249.68" r="2.35" fill="#56B4E9"/><circle cx="112.84" cy="249.68" r="2.35" fill="none" stroke="#5e5e5e" stroke-width="0.45"/><circle cx="118.61" cy="249.68" r="2.35" fill="#56B4E9"/><circle cx="118.61" cy="249.68" r="2.35" fill="none" stroke="#5e5e5e" stroke-width="0.45"/><circle cx="124.38" cy="249.68" r="2.35" fill="#56B4E9"/><circle cx="124.38" cy="249.68" r="2.35" fill="none" stroke="#5e5e5e" stroke-width="0.45"/><circle cx="130.15" cy="249.68" r="2.35" fill="#56B4E9"/><circle cx="130.15" cy="249.68" r="2.35" fill="none" stroke="#5e5e5e" stroke-width="0.45"/><circle cx="135.92" cy="249.68" r="2.35" fill="#56B4E9"/><circle cx="135.92" cy="249.68" r="2.35" fill="none" stroke="#5e5e5e" stroke-width="0.45"/><g clip-path="url(#cd3)"><rect x="139.34" y="247.33" width="2.4" height="4.7" fill="#56B4E9"/><rect x="141.69" y="247.33" width="2.4" height="4.7" fill="#F0E442"/></g><circle cx="141.69" cy="249.68" r="2.35" fill="none" stroke="#5e5e5e" stroke-width="0.45"/><circle cx="147.46" cy="249.68" r="2.35" fill="#F0E442"/><circle cx="147.46" cy="249.68" r="2.35" fill="none" stroke="#5e5e5e" stroke-width="0.45"/><circle cx="153.23" cy="249.68" r="2.35" fill="#F0E442"/><circle cx="153.23" cy="249.68" r="2.35" fill="none" stroke="#5e5e5e" stroke-width="0.45"/><circle cx="101.3" cy="255.45" r="2.35" fill="#F0E442"/><circle cx="101.3" cy="255.45" r="2.35" fill="none" stroke="#5e5e5e" stroke-width="0.45"/><circle cx="107.07" cy="255.45" r="2.35" fill="#F0E442"/><circle cx="107.07" cy="255.45" r="2.35" fill="none" stroke="#5e5e5e" stroke-width="0.45"/><circle cx="112.84" cy="255.45" r="2.35" fill="#F0E442"/><circle cx="112.84" cy="255.45" r="2.35" fill="none" stroke="#5e5e5e" stroke-width="0.45"/><circle cx="118.61" cy="255.45" r="2.35" fill="#F0E442"/><circle cx="118.61" cy="255.45" r="2.35" fill="none" stroke="#5e5e5e" stroke-width="0.45"/><circle cx="124.38" cy="255.45" r="2.35" fill="#F0E442"/><circle cx="124.38" cy="255.45" r="2.35" fill="none" stroke="#5e5e5e" stroke-width="0.45"/><circle cx="130.15" cy="255.45" r="2.35" fill="#F0E442"/><circle cx="130.15" cy="255.45" r="2.35" fill="none" stroke="#5e5e5e" stroke-width="0.45"/><circle cx="135.92" cy="255.45" r="2.35" fill="#F0E442"/><circle cx="135.92" cy="255.45" r="2.35" fill="none" stroke="#5e5e5e" stroke-width="0.45"/><circle cx="141.69" cy="255.45" r="2.35" fill="#F0E442"/><circle cx="141.69" cy="255.45" r="2.35" fill="none" stroke="#5e5e5e" stroke-width="0.45"/><circle cx="147.46" cy="255.45" r="2.35" fill="#F0E442"/><circle cx="147.46" cy="255.45" r="2.35" fill="none" stroke="#5e5e5e" stroke-width="0.45"/><circle cx="153.23" cy="255.45" r="2.35" fill="#F0E442"/><circle cx="153.23" cy="255.45" r="2.35" fill="none" stroke="#5e5e5e" stroke-width="0.45"/><circle cx="101.3" cy="261.22" r="2.35" fill="#F0E442"/><circle cx="101.3" cy="261.22" r="2.35" fill="none" stroke="#5e5e5e" stroke-width="0.45"/><circle cx="107.07" cy="261.22" r="2.35" fill="#F0E442"/><circle cx="107.07" cy="261.22" r="2.35" fill="none" stroke="#5e5e5e" stroke-width="0.45"/><circle cx="112.84" cy="261.22" r="2.35" fill="#F0E442"/><circle cx="112.84" cy="261.22" r="2.35" fill="none" stroke="#5e5e5e" stroke-width="0.45"/><circle cx="118.61" cy="261.22" r="2.35" fill="#F0E442"/><circle cx="118.61" cy="261.22" r="2.35" fill="none" stroke="#5e5e5e" stroke-width="0.45"/><circle cx="124.38" cy="261.22" r="2.35" fill="#F0E442"/><circle cx="124.38" cy="261.22" r="2.35" fill="none" stroke="#5e5e5e" stroke-width="0.45"/><circle cx="130.15" cy="261.22" r="2.35" fill="#F0E442"/><circle cx="130.15" cy="261.22" r="2.35" fill="none" stroke="#5e5e5e" stroke-width="0.45"/><circle cx="135.92" cy="261.22" r="2.35" fill="#F0E442"/><circle cx="135.92" cy="261.22" r="2.35" fill="none" stroke="#5e5e5e" stroke-width="0.45"/><circle cx="141.69" cy="261.22" r="2.35" fill="#F0E442"/><circle cx="141.69" cy="261.22" r="2.35" fill="none" stroke="#5e5e5e" stroke-width="0.45"/><circle cx="147.46" cy="261.22" r="2.35" fill="#F0E442"/><circle cx="147.46" cy="261.22" r="2.35" fill="none" stroke="#5e5e5e" stroke-width="0.45"/><circle cx="153.23" cy="261.22" r="2.35" fill="#F0E442"/><circle cx="153.23" cy="261.22" r="2.35" fill="none" stroke="#5e5e5e" stroke-width="0.45"/><circle cx="101.3" cy="266.99" r="2.35" fill="#F0E442"/><circle cx="101.3" cy="266.99" r="2.35" fill="none" stroke="#5e5e5e" stroke-width="0.45"/><circle cx="107.07" cy="266.99" r="2.35" fill="#F0E442"/><circle cx="107.07" cy="266.99" r="2.35" fill="none" stroke="#5e5e5e" stroke-width="0.45"/><circle cx="112.84" cy="266.99" r="2.35" fill="#F0E442"/><circle cx="112.84" cy="266.99" r="2.35" fill="none" stroke="#5e5e5e" stroke-width="0.45"/><circle cx="118.61" cy="266.99" r="2.35" fill="#F0E442"/><circle cx="118.61" cy="266.99" r="2.35" fill="none" stroke="#5e5e5e" stroke-width="0.45"/><circle cx="124.38" cy="266.99" r="2.35" fill="#F0E442"/><circle cx="124.38" cy="266.99" r="2.35" fill="none" stroke="#5e5e5e" stroke-width="0.45"/><circle cx="130.15" cy="266.99" r="2.35" fill="#F0E442"/><circle cx="130.15" cy="266.99" r="2.35" fill="none" stroke="#5e5e5e" stroke-width="0.45"/><circle cx="135.92" cy="266.99" r="2.35" fill="#F0E442"/><circle cx="135.92" cy="266.99" r="2.35" fill="none" stroke="#5e5e5e" stroke-width="0.45"/><circle cx="141.69" cy="266.99" r="2.35" fill="#F0E442"/><circle cx="141.69" cy="266.99" r="2.35" fill="none" stroke="#5e5e5e" stroke-width="0.45"/><circle cx="147.46" cy="266.99" r="2.35" fill="#F0E442"/><circle cx="147.46" cy="266.99" r="2.35" fill="none" stroke="#5e5e5e" stroke-width="0.45"/><circle cx="153.23" cy="266.99" r="2.35" fill="#F0E442"/><circle cx="153.23" cy="266.99" r="2.35" fill="none" stroke="#5e5e5e" stroke-width="0.45"/><circle cx="101.3" cy="272.76" r="2.35" fill="#F0E442"/><circle cx="101.3" cy="272.76" r="2.35" fill="none" stroke="#5e5e5e" stroke-width="0.45"/><circle cx="107.07" cy="272.76" r="2.35" fill="#F0E442"/><circle cx="107.07" cy="272.76" r="2.35" fill="none" stroke="#5e5e5e" stroke-width="0.45"/><circle cx="112.84" cy="272.76" r="2.35" fill="#F0E442"/><circle cx="112.84" cy="272.76" r="2.35" fill="none" stroke="#5e5e5e" stroke-width="0.45"/><circle cx="118.61" cy="272.76" r="2.35" fill="#F0E442"/><circle cx="118.61" cy="272.76" r="2.35" fill="none" stroke="#5e5e5e" stroke-width="0.45"/><circle cx="124.38" cy="272.76" r="2.35" fill="#F0E442"/><circle cx="124.38" cy="272.76" r="2.35" fill="none" stroke="#5e5e5e" stroke-width="0.45"/><circle cx="130.15" cy="272.76" r="2.35" fill="#F0E442"/><circle cx="130.15" cy="272.76" r="2.35" fill="none" stroke="#5e5e5e" stroke-width="0.45"/><circle cx="135.92" cy="272.76" r="2.35" fill="#F0E442"/><circle cx="135.92" cy="272.76" r="2.35" fill="none" stroke="#5e5e5e" stroke-width="0.45"/><circle cx="141.69" cy="272.76" r="2.35" fill="#F0E442"/><circle cx="141.69" cy="272.76" r="2.35" fill="none" stroke="#5e5e5e" stroke-width="0.45"/><circle cx="147.46" cy="272.76" r="2.35" fill="#F0E442"/><circle cx="147.46" cy="272.76" r="2.35" fill="none" stroke="#5e5e5e" stroke-width="0.45"/><circle cx="153.23" cy="272.76" r="2.35" fill="#F0E442"/><circle cx="153.23" cy="272.76" r="2.35" fill="none" stroke="#5e5e5e" stroke-width="0.45"/><circle cx="101.3" cy="278.53" r="2.35" fill="#F0E442"/><circle cx="101.3" cy="278.53" r="2.35" fill="none" stroke="#5e5e5e" stroke-width="0.45"/><circle cx="107.07" cy="278.53" r="2.35" fill="#F0E442"/><circle cx="107.07" cy="278.53" r="2.35" fill="none" stroke="#5e5e5e" stroke-width="0.45"/><circle cx="112.84" cy="278.53" r="2.35" fill="#F0E442"/><circle cx="112.84" cy="278.53" r="2.35" fill="none" stroke="#5e5e5e" stroke-width="0.45"/><circle cx="118.61" cy="278.53" r="2.35" fill="#F0E442"/><circle cx="118.61" cy="278.53" r="2.35" fill="none" stroke="#5e5e5e" stroke-width="0.45"/><circle cx="124.38" cy="278.53" r="2.35" fill="#F0E442"/><circle cx="124.38" cy="278.53" r="2.35" fill="none" stroke="#5e5e5e" stroke-width="0.45"/><g clip-path="url(#cd4)"><rect x="127.8" y="276.18" width="2.4" height="4.7" fill="#F0E442"/><rect x="130.15" y="276.18" width="2.4" height="4.7" fill="#E69F00"/></g><circle cx="130.15" cy="278.53" r="2.35" fill="none" stroke="#5e5e5e" stroke-width="0.45"/><circle cx="135.92" cy="278.53" r="2.35" fill="#E69F00"/><circle cx="135.92" cy="278.53" r="2.35" fill="none" stroke="#5e5e5e" stroke-width="0.45"/><circle cx="141.69" cy="278.53" r="2.35" fill="#E69F00"/><circle cx="141.69" cy="278.53" r="2.35" fill="none" stroke="#5e5e5e" stroke-width="0.45"/><circle cx="147.46" cy="278.53" r="2.35" fill="#CC79A7"/><circle cx="147.46" cy="278.53" r="2.35" fill="none" stroke="#5e5e5e" stroke-width="0.45"/><circle cx="153.23" cy="278.53" r="2.35" fill="#CC79A7"/><circle cx="153.23" cy="278.53" r="2.35" fill="none" stroke="#5e5e5e" stroke-width="0.45"/><circle cx="178.7" cy="226.7" r="2.35" fill="#0072B2"/><circle cx="178.7" cy="226.7" r="2.35" fill="none" stroke="#5e5e5e" stroke-width="0.45"/><circle cx="184.47" cy="226.7" r="2.35" fill="#0072B2"/><circle cx="184.47" cy="226.7" r="2.35" fill="none" stroke="#5e5e5e" stroke-width="0.45"/><circle cx="190.24" cy="226.7" r="2.35" fill="#0072B2"/><circle cx="190.24" cy="226.7" r="2.35" fill="none" stroke="#5e5e5e" stroke-width="0.45"/><circle cx="196.01" cy="226.7" r="2.35" fill="#0072B2"/><circle cx="196.01" cy="226.7" r="2.35" fill="none" stroke="#5e5e5e" stroke-width="0.45"/><circle cx="201.78" cy="226.7" r="2.35" fill="#0072B2"/><circle cx="201.78" cy="226.7" r="2.35" fill="none" stroke="#5e5e5e" stroke-width="0.45"/><circle cx="207.55" cy="226.7" r="2.35" fill="#0072B2"/><circle cx="207.55" cy="226.7" r="2.35" fill="none" stroke="#5e5e5e" stroke-width="0.45"/><circle cx="213.32" cy="226.7" r="2.35" fill="#0072B2"/><circle cx="213.32" cy="226.7" r="2.35" fill="none" stroke="#5e5e5e" stroke-width="0.45"/><circle cx="219.09" cy="226.7" r="2.35" fill="#0072B2"/><circle cx="219.09" cy="226.7" r="2.35" fill="none" stroke="#5e5e5e" stroke-width="0.45"/><circle cx="224.86" cy="226.7" r="2.35" fill="#0072B2"/><circle cx="224.86" cy="226.7" r="2.35" fill="none" stroke="#5e5e5e" stroke-width="0.45"/><circle cx="230.63" cy="226.7" r="2.35" fill="#0072B2"/><circle cx="230.63" cy="226.7" r="2.35" fill="none" stroke="#5e5e5e" stroke-width="0.45"/><circle cx="178.7" cy="232.47" r="2.35" fill="#0072B2"/><circle cx="178.7" cy="232.47" r="2.35" fill="none" stroke="#5e5e5e" stroke-width="0.45"/><circle cx="184.47" cy="232.47" r="2.35" fill="#0072B2"/><circle cx="184.47" cy="232.47" r="2.35" fill="none" stroke="#5e5e5e" stroke-width="0.45"/><circle cx="190.24" cy="232.47" r="2.35" fill="#0072B2"/><circle cx="190.24" cy="232.47" r="2.35" fill="none" stroke="#5e5e5e" stroke-width="0.45"/><circle cx="196.01" cy="232.47" r="2.35" fill="#0072B2"/><circle cx="196.01" cy="232.47" r="2.35" fill="none" stroke="#5e5e5e" stroke-width="0.45"/><circle cx="201.78" cy="232.47" r="2.35" fill="#0072B2"/><circle cx="201.78" cy="232.47" r="2.35" fill="none" stroke="#5e5e5e" stroke-width="0.45"/><circle cx="207.55" cy="232.47" r="2.35" fill="#0072B2"/><circle cx="207.55" cy="232.47" r="2.35" fill="none" stroke="#5e5e5e" stroke-width="0.45"/><circle cx="213.32" cy="232.47" r="2.35" fill="#0072B2"/><circle cx="213.32" cy="232.47" r="2.35" fill="none" stroke="#5e5e5e" stroke-width="0.45"/><circle cx="219.09" cy="232.47" r="2.35" fill="#0072B2"/><circle cx="219.09" cy="232.47" r="2.35" fill="none" stroke="#5e5e5e" stroke-width="0.45"/><circle cx="224.86" cy="232.47" r="2.35" fill="#0072B2"/><circle cx="224.86" cy="232.47" r="2.35" fill="none" stroke="#5e5e5e" stroke-width="0.45"/><circle cx="230.63" cy="232.47" r="2.35" fill="#0072B2"/><circle cx="230.63" cy="232.47" r="2.35" fill="none" stroke="#5e5e5e" stroke-width="0.45"/><circle cx="178.7" cy="238.24" r="2.35" fill="#0072B2"/><circle cx="178.7" cy="238.24" r="2.35" fill="none" stroke="#5e5e5e" stroke-width="0.45"/><circle cx="184.47" cy="238.24" r="2.35" fill="#0072B2"/><circle cx="184.47" cy="238.24" r="2.35" fill="none" stroke="#5e5e5e" stroke-width="0.45"/><circle cx="190.24" cy="238.24" r="2.35" fill="#0072B2"/><circle cx="190.24" cy="238.24" r="2.35" fill="none" stroke="#5e5e5e" stroke-width="0.45"/><circle cx="196.01" cy="238.24" r="2.35" fill="#0072B2"/><circle cx="196.01" cy="238.24" r="2.35" fill="none" stroke="#5e5e5e" stroke-width="0.45"/><circle cx="201.78" cy="238.24" r="2.35" fill="#0072B2"/><circle cx="201.78" cy="238.24" r="2.35" fill="none" stroke="#5e5e5e" stroke-width="0.45"/><circle cx="207.55" cy="238.24" r="2.35" fill="#0072B2"/><circle cx="207.55" cy="238.24" r="2.35" fill="none" stroke="#5e5e5e" stroke-width="0.45"/><circle cx="213.32" cy="238.24" r="2.35" fill="#0072B2"/><circle cx="213.32" cy="238.24" r="2.35" fill="none" stroke="#5e5e5e" stroke-width="0.45"/><circle cx="219.09" cy="238.24" r="2.35" fill="#0072B2"/><circle cx="219.09" cy="238.24" r="2.35" fill="none" stroke="#5e5e5e" stroke-width="0.45"/><circle cx="224.86" cy="238.24" r="2.35" fill="#0072B2"/><circle cx="224.86" cy="238.24" r="2.35" fill="none" stroke="#5e5e5e" stroke-width="0.45"/><circle cx="230.63" cy="238.24" r="2.35" fill="#0072B2"/><circle cx="230.63" cy="238.24" r="2.35" fill="none" stroke="#5e5e5e" stroke-width="0.45"/><circle cx="178.7" cy="244.01" r="2.35" fill="#0072B2"/><circle cx="178.7" cy="244.01" r="2.35" fill="none" stroke="#5e5e5e" stroke-width="0.45"/><circle cx="184.47" cy="244.01" r="2.35" fill="#0072B2"/><circle cx="184.47" cy="244.01" r="2.35" fill="none" stroke="#5e5e5e" stroke-width="0.45"/><circle cx="190.24" cy="244.01" r="2.35" fill="#0072B2"/><circle cx="190.24" cy="244.01" r="2.35" fill="none" stroke="#5e5e5e" stroke-width="0.45"/><circle cx="196.01" cy="244.01" r="2.35" fill="#0072B2"/><circle cx="196.01" cy="244.01" r="2.35" fill="none" stroke="#5e5e5e" stroke-width="0.45"/><circle cx="201.78" cy="244.01" r="2.35" fill="#0072B2"/><circle cx="201.78" cy="244.01" r="2.35" fill="none" stroke="#5e5e5e" stroke-width="0.45"/><circle cx="207.55" cy="244.01" r="2.35" fill="#0072B2"/><circle cx="207.55" cy="244.01" r="2.35" fill="none" stroke="#5e5e5e" stroke-width="0.45"/><circle cx="213.32" cy="244.01" r="2.35" fill="#0072B2"/><circle cx="213.32" cy="244.01" r="2.35" fill="none" stroke="#5e5e5e" stroke-width="0.45"/><circle cx="219.09" cy="244.01" r="2.35" fill="#0072B2"/><circle cx="219.09" cy="244.01" r="2.35" fill="none" stroke="#5e5e5e" stroke-width="0.45"/><circle cx="224.86" cy="244.01" r="2.35" fill="#0072B2"/><circle cx="224.86" cy="244.01" r="2.35" fill="none" stroke="#5e5e5e" stroke-width="0.45"/><circle cx="230.63" cy="244.01" r="2.35" fill="#0072B2"/><circle cx="230.63" cy="244.01" r="2.35" fill="none" stroke="#5e5e5e" stroke-width="0.45"/><circle cx="178.7" cy="249.78" r="2.35" fill="#0072B2"/><circle cx="178.7" cy="249.78" r="2.35" fill="none" stroke="#5e5e5e" stroke-width="0.45"/><circle cx="184.47" cy="249.78" r="2.35" fill="#0072B2"/><circle cx="184.47" cy="249.78" r="2.35" fill="none" stroke="#5e5e5e" stroke-width="0.45"/><circle cx="190.24" cy="249.78" r="2.35" fill="#0072B2"/><circle cx="190.24" cy="249.78" r="2.35" fill="none" stroke="#5e5e5e" stroke-width="0.45"/><circle cx="196.01" cy="249.78" r="2.35" fill="#0072B2"/><circle cx="196.01" cy="249.78" r="2.35" fill="none" stroke="#5e5e5e" stroke-width="0.45"/><circle cx="201.78" cy="249.78" r="2.35" fill="#0072B2"/><circle cx="201.78" cy="249.78" r="2.35" fill="none" stroke="#5e5e5e" stroke-width="0.45"/><circle cx="207.55" cy="249.78" r="2.35" fill="#0072B2"/><circle cx="207.55" cy="249.78" r="2.35" fill="none" stroke="#5e5e5e" stroke-width="0.45"/><circle cx="213.32" cy="249.78" r="2.35" fill="#0072B2"/><circle cx="213.32" cy="249.78" r="2.35" fill="none" stroke="#5e5e5e" stroke-width="0.45"/><circle cx="219.09" cy="249.78" r="2.35" fill="#0072B2"/><circle cx="219.09" cy="249.78" r="2.35" fill="none" stroke="#5e5e5e" stroke-width="0.45"/><circle cx="224.86" cy="249.78" r="2.35" fill="#0072B2"/><circle cx="224.86" cy="249.78" r="2.35" fill="none" stroke="#5e5e5e" stroke-width="0.45"/><circle cx="230.63" cy="249.78" r="2.35" fill="#0072B2"/><circle cx="230.63" cy="249.78" r="2.35" fill="none" stroke="#5e5e5e" stroke-width="0.45"/><circle cx="178.7" cy="255.55" r="2.35" fill="#0072B2"/><circle cx="178.7" cy="255.55" r="2.35" fill="none" stroke="#5e5e5e" stroke-width="0.45"/><circle cx="184.47" cy="255.55" r="2.35" fill="#0072B2"/><circle cx="184.47" cy="255.55" r="2.35" fill="none" stroke="#5e5e5e" stroke-width="0.45"/><circle cx="190.24" cy="255.55" r="2.35" fill="#0072B2"/><circle cx="190.24" cy="255.55" r="2.35" fill="none" stroke="#5e5e5e" stroke-width="0.45"/><circle cx="196.01" cy="255.55" r="2.35" fill="#0072B2"/><circle cx="196.01" cy="255.55" r="2.35" fill="none" stroke="#5e5e5e" stroke-width="0.45"/><circle cx="201.78" cy="255.55" r="2.35" fill="#0072B2"/><circle cx="201.78" cy="255.55" r="2.35" fill="none" stroke="#5e5e5e" stroke-width="0.45"/><circle cx="207.55" cy="255.55" r="2.35" fill="#0072B2"/><circle cx="207.55" cy="255.55" r="2.35" fill="none" stroke="#5e5e5e" stroke-width="0.45"/><circle cx="213.32" cy="255.55" r="2.35" fill="#0072B2"/><circle cx="213.32" cy="255.55" r="2.35" fill="none" stroke="#5e5e5e" stroke-width="0.45"/><circle cx="219.09" cy="255.55" r="2.35" fill="#0072B2"/><circle cx="219.09" cy="255.55" r="2.35" fill="none" stroke="#5e5e5e" stroke-width="0.45"/><circle cx="224.86" cy="255.55" r="2.35" fill="#0072B2"/><circle cx="224.86" cy="255.55" r="2.35" fill="none" stroke="#5e5e5e" stroke-width="0.45"/><circle cx="230.63" cy="255.55" r="2.35" fill="#0072B2"/><circle cx="230.63" cy="255.55" r="2.35" fill="none" stroke="#5e5e5e" stroke-width="0.45"/><circle cx="178.7" cy="261.32" r="2.35" fill="#0072B2"/><circle cx="178.7" cy="261.32" r="2.35" fill="none" stroke="#5e5e5e" stroke-width="0.45"/><circle cx="184.47" cy="261.32" r="2.35" fill="#0072B2"/><circle cx="184.47" cy="261.32" r="2.35" fill="none" stroke="#5e5e5e" stroke-width="0.45"/><circle cx="190.24" cy="261.32" r="2.35" fill="#0072B2"/><circle cx="190.24" cy="261.32" r="2.35" fill="none" stroke="#5e5e5e" stroke-width="0.45"/><circle cx="196.01" cy="261.32" r="2.35" fill="#0072B2"/><circle cx="196.01" cy="261.32" r="2.35" fill="none" stroke="#5e5e5e" stroke-width="0.45"/><circle cx="201.78" cy="261.32" r="2.35" fill="#0072B2"/><circle cx="201.78" cy="261.32" r="2.35" fill="none" stroke="#5e5e5e" stroke-width="0.45"/><circle cx="207.55" cy="261.32" r="2.35" fill="#0072B2"/><circle cx="207.55" cy="261.32" r="2.35" fill="none" stroke="#5e5e5e" stroke-width="0.45"/><circle cx="213.32" cy="261.32" r="2.35" fill="#56B4E9"/><circle cx="213.32" cy="261.32" r="2.35" fill="none" stroke="#5e5e5e" stroke-width="0.45"/><circle cx="219.09" cy="261.32" r="2.35" fill="#56B4E9"/><circle cx="219.09" cy="261.32" r="2.35" fill="none" stroke="#5e5e5e" stroke-width="0.45"/><circle cx="224.86" cy="261.32" r="2.35" fill="#56B4E9"/><circle cx="224.86" cy="261.32" r="2.35" fill="none" stroke="#5e5e5e" stroke-width="0.45"/><circle cx="230.63" cy="261.32" r="2.35" fill="#56B4E9"/><circle cx="230.63" cy="261.32" r="2.35" fill="none" stroke="#5e5e5e" stroke-width="0.45"/><circle cx="178.7" cy="267.09" r="2.35" fill="#56B4E9"/><circle cx="178.7" cy="267.09" r="2.35" fill="none" stroke="#5e5e5e" stroke-width="0.45"/><circle cx="184.47" cy="267.09" r="2.35" fill="#56B4E9"/><circle cx="184.47" cy="267.09" r="2.35" fill="none" stroke="#5e5e5e" stroke-width="0.45"/><circle cx="190.24" cy="267.09" r="2.35" fill="#56B4E9"/><circle cx="190.24" cy="267.09" r="2.35" fill="none" stroke="#5e5e5e" stroke-width="0.45"/><circle cx="196.01" cy="267.09" r="2.35" fill="#56B4E9"/><circle cx="196.01" cy="267.09" r="2.35" fill="none" stroke="#5e5e5e" stroke-width="0.45"/><circle cx="201.78" cy="267.09" r="2.35" fill="#56B4E9"/><circle cx="201.78" cy="267.09" r="2.35" fill="none" stroke="#5e5e5e" stroke-width="0.45"/><circle cx="207.55" cy="267.09" r="2.35" fill="#56B4E9"/><circle cx="207.55" cy="267.09" r="2.35" fill="none" stroke="#5e5e5e" stroke-width="0.45"/><circle cx="213.32" cy="267.09" r="2.35" fill="#56B4E9"/><circle cx="213.32" cy="267.09" r="2.35" fill="none" stroke="#5e5e5e" stroke-width="0.45"/><circle cx="219.09" cy="267.09" r="2.35" fill="#56B4E9"/><circle cx="219.09" cy="267.09" r="2.35" fill="none" stroke="#5e5e5e" stroke-width="0.45"/><circle cx="224.86" cy="267.09" r="2.35" fill="#56B4E9"/><circle cx="224.86" cy="267.09" r="2.35" fill="none" stroke="#5e5e5e" stroke-width="0.45"/><circle cx="230.63" cy="267.09" r="2.35" fill="#56B4E9"/><circle cx="230.63" cy="267.09" r="2.35" fill="none" stroke="#5e5e5e" stroke-width="0.45"/><circle cx="178.7" cy="272.86" r="2.35" fill="#56B4E9"/><circle cx="178.7" cy="272.86" r="2.35" fill="none" stroke="#5e5e5e" stroke-width="0.45"/><circle cx="184.47" cy="272.86" r="2.35" fill="#56B4E9"/><circle cx="184.47" cy="272.86" r="2.35" fill="none" stroke="#5e5e5e" stroke-width="0.45"/><circle cx="190.24" cy="272.86" r="2.35" fill="#56B4E9"/><circle cx="190.24" cy="272.86" r="2.35" fill="none" stroke="#5e5e5e" stroke-width="0.45"/><circle cx="196.01" cy="272.86" r="2.35" fill="#56B4E9"/><circle cx="196.01" cy="272.86" r="2.35" fill="none" stroke="#5e5e5e" stroke-width="0.45"/><circle cx="201.78" cy="272.86" r="2.35" fill="#56B4E9"/><circle cx="201.78" cy="272.86" r="2.35" fill="none" stroke="#5e5e5e" stroke-width="0.45"/><g clip-path="url(#cd5)"><rect x="205.2" y="270.51" width="2.4" height="4.7" fill="#D55E00"/><rect x="207.55" y="270.51" width="2.4" height="4.7" fill="#F0E442"/></g><circle cx="207.55" cy="272.86" r="2.35" fill="none" stroke="#5e5e5e" stroke-width="0.45"/><circle cx="213.32" cy="272.86" r="2.35" fill="#F0E442"/><circle cx="213.32" cy="272.86" r="2.35" fill="none" stroke="#5e5e5e" stroke-width="0.45"/><circle cx="219.09" cy="272.86" r="2.35" fill="#F0E442"/><circle cx="219.09" cy="272.86" r="2.35" fill="none" stroke="#5e5e5e" stroke-width="0.45"/><circle cx="224.86" cy="272.86" r="2.35" fill="#F0E442"/><circle cx="224.86" cy="272.86" r="2.35" fill="none" stroke="#5e5e5e" stroke-width="0.45"/><circle cx="230.63" cy="272.86" r="2.35" fill="#F0E442"/><circle cx="230.63" cy="272.86" r="2.35" fill="none" stroke="#5e5e5e" stroke-width="0.45"/><circle cx="178.7" cy="278.63" r="2.35" fill="#F0E442"/><circle cx="178.7" cy="278.63" r="2.35" fill="none" stroke="#5e5e5e" stroke-width="0.45"/><circle cx="184.47" cy="278.63" r="2.35" fill="#F0E442"/><circle cx="184.47" cy="278.63" r="2.35" fill="none" stroke="#5e5e5e" stroke-width="0.45"/><circle cx="190.24" cy="278.63" r="2.35" fill="#F0E442"/><circle cx="190.24" cy="278.63" r="2.35" fill="none" stroke="#5e5e5e" stroke-width="0.45"/><circle cx="196.01" cy="278.63" r="2.35" fill="#F0E442"/><circle cx="196.01" cy="278.63" r="2.35" fill="none" stroke="#5e5e5e" stroke-width="0.45"/><circle cx="201.78" cy="278.63" r="2.35" fill="#F0E442"/><circle cx="201.78" cy="278.63" r="2.35" fill="none" stroke="#5e5e5e" stroke-width="0.45"/><circle cx="207.55" cy="278.63" r="2.35" fill="#F0E442"/><circle cx="207.55" cy="278.63" r="2.35" fill="none" stroke="#5e5e5e" stroke-width="0.45"/><g clip-path="url(#cd6)"><rect x="210.97" y="276.28" width="2.4" height="4.7" fill="#F0E442"/><rect x="213.32" y="276.28" width="2.4" height="4.7" fill="#E69F00"/></g><circle cx="213.32" cy="278.63" r="2.35" fill="none" stroke="#5e5e5e" stroke-width="0.45"/><g clip-path="url(#cd7)"><rect x="216.74" y="276.28" width="2.4" height="4.7" fill="#E69F00"/><rect x="219.09" y="276.28" width="2.4" height="4.7" fill="#CC79A7"/></g><circle cx="219.09" cy="278.63" r="2.35" fill="none" stroke="#5e5e5e" stroke-width="0.45"/><circle cx="224.86" cy="278.63" r="2.35" fill="#CC79A7"/><circle cx="224.86" cy="278.63" r="2.35" fill="none" stroke="#5e5e5e" stroke-width="0.45"/><circle cx="230.63" cy="278.63" r="2.35" fill="#CC79A7"/><circle cx="230.63" cy="278.63" r="2.35" fill="none" stroke="#5e5e5e" stroke-width="0.45"/><circle cx="22.4" cy="321.2" r="2.35" fill="#0072B2"/><circle cx="22.4" cy="321.2" r="2.35" fill="none" stroke="#5e5e5e" stroke-width="0.45"/><circle cx="28.17" cy="321.2" r="2.35" fill="#0072B2"/><circle cx="28.17" cy="321.2" r="2.35" fill="none" stroke="#5e5e5e" stroke-width="0.45"/><circle cx="33.94" cy="321.2" r="2.35" fill="#0072B2"/><circle cx="33.94" cy="321.2" r="2.35" fill="none" stroke="#5e5e5e" stroke-width="0.45"/><circle cx="39.71" cy="321.2" r="2.35" fill="#0072B2"/><circle cx="39.71" cy="321.2" r="2.35" fill="none" stroke="#5e5e5e" stroke-width="0.45"/><circle cx="45.48" cy="321.2" r="2.35" fill="#0072B2"/><circle cx="45.48" cy="321.2" r="2.35" fill="none" stroke="#5e5e5e" stroke-width="0.45"/><circle cx="51.25" cy="321.2" r="2.35" fill="#0072B2"/><circle cx="51.25" cy="321.2" r="2.35" fill="none" stroke="#5e5e5e" stroke-width="0.45"/><circle cx="57.02" cy="321.2" r="2.35" fill="#0072B2"/><circle cx="57.02" cy="321.2" r="2.35" fill="none" stroke="#5e5e5e" stroke-width="0.45"/><circle cx="62.79" cy="321.2" r="2.35" fill="#0072B2"/><circle cx="62.79" cy="321.2" r="2.35" fill="none" stroke="#5e5e5e" stroke-width="0.45"/><circle cx="68.56" cy="321.2" r="2.35" fill="#0072B2"/><circle cx="68.56" cy="321.2" r="2.35" fill="none" stroke="#5e5e5e" stroke-width="0.45"/><circle cx="74.33" cy="321.2" r="2.35" fill="#0072B2"/><circle cx="74.33" cy="321.2" r="2.35" fill="none" stroke="#5e5e5e" stroke-width="0.45"/><circle cx="22.4" cy="326.97" r="2.35" fill="#0072B2"/><circle cx="22.4" cy="326.97" r="2.35" fill="none" stroke="#5e5e5e" stroke-width="0.45"/><circle cx="28.17" cy="326.97" r="2.35" fill="#0072B2"/><circle cx="28.17" cy="326.97" r="2.35" fill="none" stroke="#5e5e5e" stroke-width="0.45"/><circle cx="33.94" cy="326.97" r="2.35" fill="#0072B2"/><circle cx="33.94" cy="326.97" r="2.35" fill="none" stroke="#5e5e5e" stroke-width="0.45"/><circle cx="39.71" cy="326.97" r="2.35" fill="#0072B2"/><circle cx="39.71" cy="326.97" r="2.35" fill="none" stroke="#5e5e5e" stroke-width="0.45"/><circle cx="45.48" cy="326.97" r="2.35" fill="#0072B2"/><circle cx="45.48" cy="326.97" r="2.35" fill="none" stroke="#5e5e5e" stroke-width="0.45"/><circle cx="51.25" cy="326.97" r="2.35" fill="#0072B2"/><circle cx="51.25" cy="326.97" r="2.35" fill="none" stroke="#5e5e5e" stroke-width="0.45"/><circle cx="57.02" cy="326.97" r="2.35" fill="#0072B2"/><circle cx="57.02" cy="326.97" r="2.35" fill="none" stroke="#5e5e5e" stroke-width="0.45"/><circle cx="62.79" cy="326.97" r="2.35" fill="#0072B2"/><circle cx="62.79" cy="326.97" r="2.35" fill="none" stroke="#5e5e5e" stroke-width="0.45"/><circle cx="68.56" cy="326.97" r="2.35" fill="#0072B2"/><circle cx="68.56" cy="326.97" r="2.35" fill="none" stroke="#5e5e5e" stroke-width="0.45"/><circle cx="74.33" cy="326.97" r="2.35" fill="#0072B2"/><circle cx="74.33" cy="326.97" r="2.35" fill="none" stroke="#5e5e5e" stroke-width="0.45"/><circle cx="22.4" cy="332.74" r="2.35" fill="#0072B2"/><circle cx="22.4" cy="332.74" r="2.35" fill="none" stroke="#5e5e5e" stroke-width="0.45"/><circle cx="28.17" cy="332.74" r="2.35" fill="#0072B2"/><circle cx="28.17" cy="332.74" r="2.35" fill="none" stroke="#5e5e5e" stroke-width="0.45"/><circle cx="33.94" cy="332.74" r="2.35" fill="#0072B2"/><circle cx="33.94" cy="332.74" r="2.35" fill="none" stroke="#5e5e5e" stroke-width="0.45"/><circle cx="39.71" cy="332.74" r="2.35" fill="#0072B2"/><circle cx="39.71" cy="332.74" r="2.35" fill="none" stroke="#5e5e5e" stroke-width="0.45"/><circle cx="45.48" cy="332.74" r="2.35" fill="#0072B2"/><circle cx="45.48" cy="332.74" r="2.35" fill="none" stroke="#5e5e5e" stroke-width="0.45"/><circle cx="51.25" cy="332.74" r="2.35" fill="#0072B2"/><circle cx="51.25" cy="332.74" r="2.35" fill="none" stroke="#5e5e5e" stroke-width="0.45"/><circle cx="57.02" cy="332.74" r="2.35" fill="#0072B2"/><circle cx="57.02" cy="332.74" r="2.35" fill="none" stroke="#5e5e5e" stroke-width="0.45"/><circle cx="62.79" cy="332.74" r="2.35" fill="#0072B2"/><circle cx="62.79" cy="332.74" r="2.35" fill="none" stroke="#5e5e5e" stroke-width="0.45"/><circle cx="68.56" cy="332.74" r="2.35" fill="#0072B2"/><circle cx="68.56" cy="332.74" r="2.35" fill="none" stroke="#5e5e5e" stroke-width="0.45"/><circle cx="74.33" cy="332.74" r="2.35" fill="#0072B2"/><circle cx="74.33" cy="332.74" r="2.35" fill="none" stroke="#5e5e5e" stroke-width="0.45"/><circle cx="22.4" cy="338.51" r="2.35" fill="#0072B2"/><circle cx="22.4" cy="338.51" r="2.35" fill="none" stroke="#5e5e5e" stroke-width="0.45"/><circle cx="28.17" cy="338.51" r="2.35" fill="#0072B2"/><circle cx="28.17" cy="338.51" r="2.35" fill="none" stroke="#5e5e5e" stroke-width="0.45"/><circle cx="33.94" cy="338.51" r="2.35" fill="#0072B2"/><circle cx="33.94" cy="338.51" r="2.35" fill="none" stroke="#5e5e5e" stroke-width="0.45"/><circle cx="39.71" cy="338.51" r="2.35" fill="#0072B2"/><circle cx="39.71" cy="338.51" r="2.35" fill="none" stroke="#5e5e5e" stroke-width="0.45"/><circle cx="45.48" cy="338.51" r="2.35" fill="#0072B2"/><circle cx="45.48" cy="338.51" r="2.35" fill="none" stroke="#5e5e5e" stroke-width="0.45"/><circle cx="51.25" cy="338.51" r="2.35" fill="#0072B2"/><circle cx="51.25" cy="338.51" r="2.35" fill="none" stroke="#5e5e5e" stroke-width="0.45"/><circle cx="57.02" cy="338.51" r="2.35" fill="#0072B2"/><circle cx="57.02" cy="338.51" r="2.35" fill="none" stroke="#5e5e5e" stroke-width="0.45"/><circle cx="62.79" cy="338.51" r="2.35" fill="#0072B2"/><circle cx="62.79" cy="338.51" r="2.35" fill="none" stroke="#5e5e5e" stroke-width="0.45"/><circle cx="68.56" cy="338.51" r="2.35" fill="#0072B2"/><circle cx="68.56" cy="338.51" r="2.35" fill="none" stroke="#5e5e5e" stroke-width="0.45"/><circle cx="74.33" cy="338.51" r="2.35" fill="#0072B2"/><circle cx="74.33" cy="338.51" r="2.35" fill="none" stroke="#5e5e5e" stroke-width="0.45"/><circle cx="22.4" cy="344.28" r="2.35" fill="#0072B2"/><circle cx="22.4" cy="344.28" r="2.35" fill="none" stroke="#5e5e5e" stroke-width="0.45"/><circle cx="28.17" cy="344.28" r="2.35" fill="#0072B2"/><circle cx="28.17" cy="344.28" r="2.35" fill="none" stroke="#5e5e5e" stroke-width="0.45"/><circle cx="33.94" cy="344.28" r="2.35" fill="#0072B2"/><circle cx="33.94" cy="344.28" r="2.35" fill="none" stroke="#5e5e5e" stroke-width="0.45"/><circle cx="39.71" cy="344.28" r="2.35" fill="#0072B2"/><circle cx="39.71" cy="344.28" r="2.35" fill="none" stroke="#5e5e5e" stroke-width="0.45"/><circle cx="45.48" cy="344.28" r="2.35" fill="#0072B2"/><circle cx="45.48" cy="344.28" r="2.35" fill="none" stroke="#5e5e5e" stroke-width="0.45"/><g clip-path="url(#cd8)"><rect x="48.9" y="341.93" width="2.4" height="4.7" fill="#0072B2"/><rect x="51.25" y="341.93" width="2.4" height="4.7" fill="#56B4E9"/></g><circle cx="51.25" cy="344.28" r="2.35" fill="none" stroke="#5e5e5e" stroke-width="0.45"/><circle cx="57.02" cy="344.28" r="2.35" fill="#D55E00"/><circle cx="57.02" cy="344.28" r="2.35" fill="none" stroke="#5e5e5e" stroke-width="0.45"/><circle cx="62.79" cy="344.28" r="2.35" fill="#D55E00"/><circle cx="62.79" cy="344.28" r="2.35" fill="none" stroke="#5e5e5e" stroke-width="0.45"/><circle cx="68.56" cy="344.28" r="2.35" fill="#D55E00"/><circle cx="68.56" cy="344.28" r="2.35" fill="none" stroke="#5e5e5e" stroke-width="0.45"/><circle cx="74.33" cy="344.28" r="2.35" fill="#D55E00"/><circle cx="74.33" cy="344.28" r="2.35" fill="none" stroke="#5e5e5e" stroke-width="0.45"/><circle cx="22.4" cy="350.05" r="2.35" fill="#D55E00"/><circle cx="22.4" cy="350.05" r="2.35" fill="none" stroke="#5e5e5e" stroke-width="0.45"/><circle cx="28.17" cy="350.05" r="2.35" fill="#D55E00"/><circle cx="28.17" cy="350.05" r="2.35" fill="none" stroke="#5e5e5e" stroke-width="0.45"/><circle cx="33.94" cy="350.05" r="2.35" fill="#D55E00"/><circle cx="33.94" cy="350.05" r="2.35" fill="none" stroke="#5e5e5e" stroke-width="0.45"/><circle cx="39.71" cy="350.05" r="2.35" fill="#D55E00"/><circle cx="39.71" cy="350.05" r="2.35" fill="none" stroke="#5e5e5e" stroke-width="0.45"/><circle cx="45.48" cy="350.05" r="2.35" fill="#D55E00"/><circle cx="45.48" cy="350.05" r="2.35" fill="none" stroke="#5e5e5e" stroke-width="0.45"/><circle cx="51.25" cy="350.05" r="2.35" fill="#D55E00"/><circle cx="51.25" cy="350.05" r="2.35" fill="none" stroke="#5e5e5e" stroke-width="0.45"/><circle cx="57.02" cy="350.05" r="2.35" fill="#D55E00"/><circle cx="57.02" cy="350.05" r="2.35" fill="none" stroke="#5e5e5e" stroke-width="0.45"/><circle cx="62.79" cy="350.05" r="2.35" fill="#D55E00"/><circle cx="62.79" cy="350.05" r="2.35" fill="none" stroke="#5e5e5e" stroke-width="0.45"/><circle cx="68.56" cy="350.05" r="2.35" fill="#D55E00"/><circle cx="68.56" cy="350.05" r="2.35" fill="none" stroke="#5e5e5e" stroke-width="0.45"/><g clip-path="url(#cd9)"><rect x="71.98" y="347.7" width="2.4" height="4.7" fill="#D55E00"/><rect x="74.33" y="347.7" width="2.4" height="4.7" fill="#F0E442"/></g><circle cx="74.33" cy="350.05" r="2.35" fill="none" stroke="#5e5e5e" stroke-width="0.45"/><circle cx="22.4" cy="355.82" r="2.35" fill="#F0E442"/><circle cx="22.4" cy="355.82" r="2.35" fill="none" stroke="#5e5e5e" stroke-width="0.45"/><circle cx="28.17" cy="355.82" r="2.35" fill="#F0E442"/><circle cx="28.17" cy="355.82" r="2.35" fill="none" stroke="#5e5e5e" stroke-width="0.45"/><circle cx="33.94" cy="355.82" r="2.35" fill="#F0E442"/><circle cx="33.94" cy="355.82" r="2.35" fill="none" stroke="#5e5e5e" stroke-width="0.45"/><circle cx="39.71" cy="355.82" r="2.35" fill="#F0E442"/><circle cx="39.71" cy="355.82" r="2.35" fill="none" stroke="#5e5e5e" stroke-width="0.45"/><circle cx="45.48" cy="355.82" r="2.35" fill="#F0E442"/><circle cx="45.48" cy="355.82" r="2.35" fill="none" stroke="#5e5e5e" stroke-width="0.45"/><circle cx="51.25" cy="355.82" r="2.35" fill="#F0E442"/><circle cx="51.25" cy="355.82" r="2.35" fill="none" stroke="#5e5e5e" stroke-width="0.45"/><circle cx="57.02" cy="355.82" r="2.35" fill="#F0E442"/><circle cx="57.02" cy="355.82" r="2.35" fill="none" stroke="#5e5e5e" stroke-width="0.45"/><circle cx="62.79" cy="355.82" r="2.35" fill="#F0E442"/><circle cx="62.79" cy="355.82" r="2.35" fill="none" stroke="#5e5e5e" stroke-width="0.45"/><circle cx="68.56" cy="355.82" r="2.35" fill="#F0E442"/><circle cx="68.56" cy="355.82" r="2.35" fill="none" stroke="#5e5e5e" stroke-width="0.45"/><circle cx="74.33" cy="355.82" r="2.35" fill="#F0E442"/><circle cx="74.33" cy="355.82" r="2.35" fill="none" stroke="#5e5e5e" stroke-width="0.45"/><circle cx="22.4" cy="361.59" r="2.35" fill="#F0E442"/><circle cx="22.4" cy="361.59" r="2.35" fill="none" stroke="#5e5e5e" stroke-width="0.45"/><circle cx="28.17" cy="361.59" r="2.35" fill="#F0E442"/><circle cx="28.17" cy="361.59" r="2.35" fill="none" stroke="#5e5e5e" stroke-width="0.45"/><circle cx="33.94" cy="361.59" r="2.35" fill="#F0E442"/><circle cx="33.94" cy="361.59" r="2.35" fill="none" stroke="#5e5e5e" stroke-width="0.45"/><circle cx="39.71" cy="361.59" r="2.35" fill="#F0E442"/><circle cx="39.71" cy="361.59" r="2.35" fill="none" stroke="#5e5e5e" stroke-width="0.45"/><circle cx="45.48" cy="361.59" r="2.35" fill="#F0E442"/><circle cx="45.48" cy="361.59" r="2.35" fill="none" stroke="#5e5e5e" stroke-width="0.45"/><circle cx="51.25" cy="361.59" r="2.35" fill="#F0E442"/><circle cx="51.25" cy="361.59" r="2.35" fill="none" stroke="#5e5e5e" stroke-width="0.45"/><circle cx="57.02" cy="361.59" r="2.35" fill="#F0E442"/><circle cx="57.02" cy="361.59" r="2.35" fill="none" stroke="#5e5e5e" stroke-width="0.45"/><circle cx="62.79" cy="361.59" r="2.35" fill="#F0E442"/><circle cx="62.79" cy="361.59" r="2.35" fill="none" stroke="#5e5e5e" stroke-width="0.45"/><circle cx="68.56" cy="361.59" r="2.35" fill="#F0E442"/><circle cx="68.56" cy="361.59" r="2.35" fill="none" stroke="#5e5e5e" stroke-width="0.45"/><circle cx="74.33" cy="361.59" r="2.35" fill="#F0E442"/><circle cx="74.33" cy="361.59" r="2.35" fill="none" stroke="#5e5e5e" stroke-width="0.45"/><circle cx="22.4" cy="367.36" r="2.35" fill="#F0E442"/><circle cx="22.4" cy="367.36" r="2.35" fill="none" stroke="#5e5e5e" stroke-width="0.45"/><circle cx="28.17" cy="367.36" r="2.35" fill="#F0E442"/><circle cx="28.17" cy="367.36" r="2.35" fill="none" stroke="#5e5e5e" stroke-width="0.45"/><circle cx="33.94" cy="367.36" r="2.35" fill="#F0E442"/><circle cx="33.94" cy="367.36" r="2.35" fill="none" stroke="#5e5e5e" stroke-width="0.45"/><circle cx="39.71" cy="367.36" r="2.35" fill="#F0E442"/><circle cx="39.71" cy="367.36" r="2.35" fill="none" stroke="#5e5e5e" stroke-width="0.45"/><circle cx="45.48" cy="367.36" r="2.35" fill="#F0E442"/><circle cx="45.48" cy="367.36" r="2.35" fill="none" stroke="#5e5e5e" stroke-width="0.45"/><circle cx="51.25" cy="367.36" r="2.35" fill="#F0E442"/><circle cx="51.25" cy="367.36" r="2.35" fill="none" stroke="#5e5e5e" stroke-width="0.45"/><circle cx="57.02" cy="367.36" r="2.35" fill="#F0E442"/><circle cx="57.02" cy="367.36" r="2.35" fill="none" stroke="#5e5e5e" stroke-width="0.45"/><circle cx="62.79" cy="367.36" r="2.35" fill="#F0E442"/><circle cx="62.79" cy="367.36" r="2.35" fill="none" stroke="#5e5e5e" stroke-width="0.45"/><circle cx="68.56" cy="367.36" r="2.35" fill="#F0E442"/><circle cx="68.56" cy="367.36" r="2.35" fill="none" stroke="#5e5e5e" stroke-width="0.45"/><circle cx="74.33" cy="367.36" r="2.35" fill="#F0E442"/><circle cx="74.33" cy="367.36" r="2.35" fill="none" stroke="#5e5e5e" stroke-width="0.45"/><circle cx="22.4" cy="373.13" r="2.35" fill="#F0E442"/><circle cx="22.4" cy="373.13" r="2.35" fill="none" stroke="#5e5e5e" stroke-width="0.45"/><circle cx="28.17" cy="373.13" r="2.35" fill="#F0E442"/><circle cx="28.17" cy="373.13" r="2.35" fill="none" stroke="#5e5e5e" stroke-width="0.45"/><circle cx="33.94" cy="373.13" r="2.35" fill="#F0E442"/><circle cx="33.94" cy="373.13" r="2.35" fill="none" stroke="#5e5e5e" stroke-width="0.45"/><circle cx="39.71" cy="373.13" r="2.35" fill="#F0E442"/><circle cx="39.71" cy="373.13" r="2.35" fill="none" stroke="#5e5e5e" stroke-width="0.45"/><circle cx="45.48" cy="373.13" r="2.35" fill="#F0E442"/><circle cx="45.48" cy="373.13" r="2.35" fill="none" stroke="#5e5e5e" stroke-width="0.45"/><circle cx="51.25" cy="373.13" r="2.35" fill="#F0E442"/><circle cx="51.25" cy="373.13" r="2.35" fill="none" stroke="#5e5e5e" stroke-width="0.45"/><circle cx="57.02" cy="373.13" r="2.35" fill="#F0E442"/><circle cx="57.02" cy="373.13" r="2.35" fill="none" stroke="#5e5e5e" stroke-width="0.45"/><g clip-path="url(#cd10)"><rect x="60.44" y="370.78" width="2.4" height="4.7" fill="#E69F00"/><rect x="62.79" y="370.78" width="2.4" height="4.7" fill="#CC79A7"/></g><circle cx="62.79" cy="373.13" r="2.35" fill="none" stroke="#5e5e5e" stroke-width="0.45"/><circle cx="68.56" cy="373.13" r="2.35" fill="#CC79A7"/><circle cx="68.56" cy="373.13" r="2.35" fill="none" stroke="#5e5e5e" stroke-width="0.45"/><circle cx="74.33" cy="373.13" r="2.35" fill="#CC79A7"/><circle cx="74.33" cy="373.13" r="2.35" fill="none" stroke="#5e5e5e" stroke-width="0.45"/><circle cx="101.4" cy="321" r="2.35" fill="#0072B2"/><circle cx="101.4" cy="321" r="2.35" fill="none" stroke="#5e5e5e" stroke-width="0.45"/><circle cx="107.17" cy="321" r="2.35" fill="#0072B2"/><circle cx="107.17" cy="321" r="2.35" fill="none" stroke="#5e5e5e" stroke-width="0.45"/><circle cx="112.94" cy="321" r="2.35" fill="#0072B2"/><circle cx="112.94" cy="321" r="2.35" fill="none" stroke="#5e5e5e" stroke-width="0.45"/><circle cx="118.71" cy="321" r="2.35" fill="#0072B2"/><circle cx="118.71" cy="321" r="2.35" fill="none" stroke="#5e5e5e" stroke-width="0.45"/><circle cx="124.48" cy="321" r="2.35" fill="#0072B2"/><circle cx="124.48" cy="321" r="2.35" fill="none" stroke="#5e5e5e" stroke-width="0.45"/><circle cx="130.25" cy="321" r="2.35" fill="#0072B2"/><circle cx="130.25" cy="321" r="2.35" fill="none" stroke="#5e5e5e" stroke-width="0.45"/><circle cx="136.02" cy="321" r="2.35" fill="#0072B2"/><circle cx="136.02" cy="321" r="2.35" fill="none" stroke="#5e5e5e" stroke-width="0.45"/><circle cx="141.79" cy="321" r="2.35" fill="#0072B2"/><circle cx="141.79" cy="321" r="2.35" fill="none" stroke="#5e5e5e" stroke-width="0.45"/><circle cx="147.56" cy="321" r="2.35" fill="#0072B2"/><circle cx="147.56" cy="321" r="2.35" fill="none" stroke="#5e5e5e" stroke-width="0.45"/><circle cx="153.33" cy="321" r="2.35" fill="#0072B2"/><circle cx="153.33" cy="321" r="2.35" fill="none" stroke="#5e5e5e" stroke-width="0.45"/><circle cx="101.4" cy="326.77" r="2.35" fill="#0072B2"/><circle cx="101.4" cy="326.77" r="2.35" fill="none" stroke="#5e5e5e" stroke-width="0.45"/><circle cx="107.17" cy="326.77" r="2.35" fill="#0072B2"/><circle cx="107.17" cy="326.77" r="2.35" fill="none" stroke="#5e5e5e" stroke-width="0.45"/><circle cx="112.94" cy="326.77" r="2.35" fill="#0072B2"/><circle cx="112.94" cy="326.77" r="2.35" fill="none" stroke="#5e5e5e" stroke-width="0.45"/><circle cx="118.71" cy="326.77" r="2.35" fill="#0072B2"/><circle cx="118.71" cy="326.77" r="2.35" fill="none" stroke="#5e5e5e" stroke-width="0.45"/><circle cx="124.48" cy="326.77" r="2.35" fill="#0072B2"/><circle cx="124.48" cy="326.77" r="2.35" fill="none" stroke="#5e5e5e" stroke-width="0.45"/><circle cx="130.25" cy="326.77" r="2.35" fill="#0072B2"/><circle cx="130.25" cy="326.77" r="2.35" fill="none" stroke="#5e5e5e" stroke-width="0.45"/><circle cx="136.02" cy="326.77" r="2.35" fill="#0072B2"/><circle cx="136.02" cy="326.77" r="2.35" fill="none" stroke="#5e5e5e" stroke-width="0.45"/><circle cx="141.79" cy="326.77" r="2.35" fill="#0072B2"/><circle cx="141.79" cy="326.77" r="2.35" fill="none" stroke="#5e5e5e" stroke-width="0.45"/><circle cx="147.56" cy="326.77" r="2.35" fill="#0072B2"/><circle cx="147.56" cy="326.77" r="2.35" fill="none" stroke="#5e5e5e" stroke-width="0.45"/><circle cx="153.33" cy="326.77" r="2.35" fill="#0072B2"/><circle cx="153.33" cy="326.77" r="2.35" fill="none" stroke="#5e5e5e" stroke-width="0.45"/><circle cx="101.4" cy="332.54" r="2.35" fill="#0072B2"/><circle cx="101.4" cy="332.54" r="2.35" fill="none" stroke="#5e5e5e" stroke-width="0.45"/><circle cx="107.17" cy="332.54" r="2.35" fill="#0072B2"/><circle cx="107.17" cy="332.54" r="2.35" fill="none" stroke="#5e5e5e" stroke-width="0.45"/><circle cx="112.94" cy="332.54" r="2.35" fill="#0072B2"/><circle cx="112.94" cy="332.54" r="2.35" fill="none" stroke="#5e5e5e" stroke-width="0.45"/><circle cx="118.71" cy="332.54" r="2.35" fill="#0072B2"/><circle cx="118.71" cy="332.54" r="2.35" fill="none" stroke="#5e5e5e" stroke-width="0.45"/><circle cx="124.48" cy="332.54" r="2.35" fill="#0072B2"/><circle cx="124.48" cy="332.54" r="2.35" fill="none" stroke="#5e5e5e" stroke-width="0.45"/><circle cx="130.25" cy="332.54" r="2.35" fill="#0072B2"/><circle cx="130.25" cy="332.54" r="2.35" fill="none" stroke="#5e5e5e" stroke-width="0.45"/><circle cx="136.02" cy="332.54" r="2.35" fill="#0072B2"/><circle cx="136.02" cy="332.54" r="2.35" fill="none" stroke="#5e5e5e" stroke-width="0.45"/><circle cx="141.79" cy="332.54" r="2.35" fill="#56B4E9"/><circle cx="141.79" cy="332.54" r="2.35" fill="none" stroke="#5e5e5e" stroke-width="0.45"/><circle cx="147.56" cy="332.54" r="2.35" fill="#56B4E9"/><circle cx="147.56" cy="332.54" r="2.35" fill="none" stroke="#5e5e5e" stroke-width="0.45"/><circle cx="153.33" cy="332.54" r="2.35" fill="#56B4E9"/><circle cx="153.33" cy="332.54" r="2.35" fill="none" stroke="#5e5e5e" stroke-width="0.45"/><circle cx="101.4" cy="338.31" r="2.35" fill="#56B4E9"/><circle cx="101.4" cy="338.31" r="2.35" fill="none" stroke="#5e5e5e" stroke-width="0.45"/><circle cx="107.17" cy="338.31" r="2.35" fill="#56B4E9"/><circle cx="107.17" cy="338.31" r="2.35" fill="none" stroke="#5e5e5e" stroke-width="0.45"/><circle cx="112.94" cy="338.31" r="2.35" fill="#56B4E9"/><circle cx="112.94" cy="338.31" r="2.35" fill="none" stroke="#5e5e5e" stroke-width="0.45"/><circle cx="118.71" cy="338.31" r="2.35" fill="#56B4E9"/><circle cx="118.71" cy="338.31" r="2.35" fill="none" stroke="#5e5e5e" stroke-width="0.45"/><circle cx="124.48" cy="338.31" r="2.35" fill="#56B4E9"/><circle cx="124.48" cy="338.31" r="2.35" fill="none" stroke="#5e5e5e" stroke-width="0.45"/><circle cx="130.25" cy="338.31" r="2.35" fill="#56B4E9"/><circle cx="130.25" cy="338.31" r="2.35" fill="none" stroke="#5e5e5e" stroke-width="0.45"/><circle cx="136.02" cy="338.31" r="2.35" fill="#56B4E9"/><circle cx="136.02" cy="338.31" r="2.35" fill="none" stroke="#5e5e5e" stroke-width="0.45"/><circle cx="141.79" cy="338.31" r="2.35" fill="#56B4E9"/><circle cx="141.79" cy="338.31" r="2.35" fill="none" stroke="#5e5e5e" stroke-width="0.45"/><circle cx="147.56" cy="338.31" r="2.35" fill="#56B4E9"/><circle cx="147.56" cy="338.31" r="2.35" fill="none" stroke="#5e5e5e" stroke-width="0.45"/><circle cx="153.33" cy="338.31" r="2.35" fill="#56B4E9"/><circle cx="153.33" cy="338.31" r="2.35" fill="none" stroke="#5e5e5e" stroke-width="0.45"/><circle cx="101.4" cy="344.08" r="2.35" fill="#56B4E9"/><circle cx="101.4" cy="344.08" r="2.35" fill="none" stroke="#5e5e5e" stroke-width="0.45"/><circle cx="107.17" cy="344.08" r="2.35" fill="#56B4E9"/><circle cx="107.17" cy="344.08" r="2.35" fill="none" stroke="#5e5e5e" stroke-width="0.45"/><circle cx="112.94" cy="344.08" r="2.35" fill="#56B4E9"/><circle cx="112.94" cy="344.08" r="2.35" fill="none" stroke="#5e5e5e" stroke-width="0.45"/><circle cx="118.71" cy="344.08" r="2.35" fill="#56B4E9"/><circle cx="118.71" cy="344.08" r="2.35" fill="none" stroke="#5e5e5e" stroke-width="0.45"/><circle cx="124.48" cy="344.08" r="2.35" fill="#56B4E9"/><circle cx="124.48" cy="344.08" r="2.35" fill="none" stroke="#5e5e5e" stroke-width="0.45"/><circle cx="130.25" cy="344.08" r="2.35" fill="#56B4E9"/><circle cx="130.25" cy="344.08" r="2.35" fill="none" stroke="#5e5e5e" stroke-width="0.45"/><circle cx="136.02" cy="344.08" r="2.35" fill="#56B4E9"/><circle cx="136.02" cy="344.08" r="2.35" fill="none" stroke="#5e5e5e" stroke-width="0.45"/><circle cx="141.79" cy="344.08" r="2.35" fill="#56B4E9"/><circle cx="141.79" cy="344.08" r="2.35" fill="none" stroke="#5e5e5e" stroke-width="0.45"/><circle cx="147.56" cy="344.08" r="2.35" fill="#56B4E9"/><circle cx="147.56" cy="344.08" r="2.35" fill="none" stroke="#5e5e5e" stroke-width="0.45"/><circle cx="153.33" cy="344.08" r="2.35" fill="#56B4E9"/><circle cx="153.33" cy="344.08" r="2.35" fill="none" stroke="#5e5e5e" stroke-width="0.45"/><circle cx="101.4" cy="349.85" r="2.35" fill="#56B4E9"/><circle cx="101.4" cy="349.85" r="2.35" fill="none" stroke="#5e5e5e" stroke-width="0.45"/><circle cx="107.17" cy="349.85" r="2.35" fill="#56B4E9"/><circle cx="107.17" cy="349.85" r="2.35" fill="none" stroke="#5e5e5e" stroke-width="0.45"/><circle cx="112.94" cy="349.85" r="2.35" fill="#56B4E9"/><circle cx="112.94" cy="349.85" r="2.35" fill="none" stroke="#5e5e5e" stroke-width="0.45"/><circle cx="118.71" cy="349.85" r="2.35" fill="#56B4E9"/><circle cx="118.71" cy="349.85" r="2.35" fill="none" stroke="#5e5e5e" stroke-width="0.45"/><circle cx="124.48" cy="349.85" r="2.35" fill="#56B4E9"/><circle cx="124.48" cy="349.85" r="2.35" fill="none" stroke="#5e5e5e" stroke-width="0.45"/><circle cx="130.25" cy="349.85" r="2.35" fill="#56B4E9"/><circle cx="130.25" cy="349.85" r="2.35" fill="none" stroke="#5e5e5e" stroke-width="0.45"/><circle cx="136.02" cy="349.85" r="2.35" fill="#56B4E9"/><circle cx="136.02" cy="349.85" r="2.35" fill="none" stroke="#5e5e5e" stroke-width="0.45"/><circle cx="141.79" cy="349.85" r="2.35" fill="#56B4E9"/><circle cx="141.79" cy="349.85" r="2.35" fill="none" stroke="#5e5e5e" stroke-width="0.45"/><circle cx="147.56" cy="349.85" r="2.35" fill="#56B4E9"/><circle cx="147.56" cy="349.85" r="2.35" fill="none" stroke="#5e5e5e" stroke-width="0.45"/><circle cx="153.33" cy="349.85" r="2.35" fill="#56B4E9"/><circle cx="153.33" cy="349.85" r="2.35" fill="none" stroke="#5e5e5e" stroke-width="0.45"/><circle cx="101.4" cy="355.62" r="2.35" fill="#56B4E9"/><circle cx="101.4" cy="355.62" r="2.35" fill="none" stroke="#5e5e5e" stroke-width="0.45"/><circle cx="107.17" cy="355.62" r="2.35" fill="#56B4E9"/><circle cx="107.17" cy="355.62" r="2.35" fill="none" stroke="#5e5e5e" stroke-width="0.45"/><circle cx="112.94" cy="355.62" r="2.35" fill="#56B4E9"/><circle cx="112.94" cy="355.62" r="2.35" fill="none" stroke="#5e5e5e" stroke-width="0.45"/><circle cx="118.71" cy="355.62" r="2.35" fill="#56B4E9"/><circle cx="118.71" cy="355.62" r="2.35" fill="none" stroke="#5e5e5e" stroke-width="0.45"/><circle cx="124.48" cy="355.62" r="2.35" fill="#56B4E9"/><circle cx="124.48" cy="355.62" r="2.35" fill="none" stroke="#5e5e5e" stroke-width="0.45"/><circle cx="130.25" cy="355.62" r="2.35" fill="#56B4E9"/><circle cx="130.25" cy="355.62" r="2.35" fill="none" stroke="#5e5e5e" stroke-width="0.45"/><circle cx="136.02" cy="355.62" r="2.35" fill="#56B4E9"/><circle cx="136.02" cy="355.62" r="2.35" fill="none" stroke="#5e5e5e" stroke-width="0.45"/><circle cx="141.79" cy="355.62" r="2.35" fill="#56B4E9"/><circle cx="141.79" cy="355.62" r="2.35" fill="none" stroke="#5e5e5e" stroke-width="0.45"/><circle cx="147.56" cy="355.62" r="2.35" fill="#56B4E9"/><circle cx="147.56" cy="355.62" r="2.35" fill="none" stroke="#5e5e5e" stroke-width="0.45"/><circle cx="153.33" cy="355.62" r="2.35" fill="#56B4E9"/><circle cx="153.33" cy="355.62" r="2.35" fill="none" stroke="#5e5e5e" stroke-width="0.45"/><circle cx="101.4" cy="361.39" r="2.35" fill="#56B4E9"/><circle cx="101.4" cy="361.39" r="2.35" fill="none" stroke="#5e5e5e" stroke-width="0.45"/><circle cx="107.17" cy="361.39" r="2.35" fill="#56B4E9"/><circle cx="107.17" cy="361.39" r="2.35" fill="none" stroke="#5e5e5e" stroke-width="0.45"/><circle cx="112.94" cy="361.39" r="2.35" fill="#56B4E9"/><circle cx="112.94" cy="361.39" r="2.35" fill="none" stroke="#5e5e5e" stroke-width="0.45"/><circle cx="118.71" cy="361.39" r="2.35" fill="#56B4E9"/><circle cx="118.71" cy="361.39" r="2.35" fill="none" stroke="#5e5e5e" stroke-width="0.45"/><circle cx="124.48" cy="361.39" r="2.35" fill="#56B4E9"/><circle cx="124.48" cy="361.39" r="2.35" fill="none" stroke="#5e5e5e" stroke-width="0.45"/><circle cx="130.25" cy="361.39" r="2.35" fill="#56B4E9"/><circle cx="130.25" cy="361.39" r="2.35" fill="none" stroke="#5e5e5e" stroke-width="0.45"/><circle cx="136.02" cy="361.39" r="2.35" fill="#56B4E9"/><circle cx="136.02" cy="361.39" r="2.35" fill="none" stroke="#5e5e5e" stroke-width="0.45"/><circle cx="141.79" cy="361.39" r="2.35" fill="#56B4E9"/><circle cx="141.79" cy="361.39" r="2.35" fill="none" stroke="#5e5e5e" stroke-width="0.45"/><circle cx="147.56" cy="361.39" r="2.35" fill="#56B4E9"/><circle cx="147.56" cy="361.39" r="2.35" fill="none" stroke="#5e5e5e" stroke-width="0.45"/><circle cx="153.33" cy="361.39" r="2.35" fill="#56B4E9"/><circle cx="153.33" cy="361.39" r="2.35" fill="none" stroke="#5e5e5e" stroke-width="0.45"/><circle cx="101.4" cy="367.16" r="2.35" fill="#56B4E9"/><circle cx="101.4" cy="367.16" r="2.35" fill="none" stroke="#5e5e5e" stroke-width="0.45"/><circle cx="107.17" cy="367.16" r="2.35" fill="#56B4E9"/><circle cx="107.17" cy="367.16" r="2.35" fill="none" stroke="#5e5e5e" stroke-width="0.45"/><circle cx="112.94" cy="367.16" r="2.35" fill="#56B4E9"/><circle cx="112.94" cy="367.16" r="2.35" fill="none" stroke="#5e5e5e" stroke-width="0.45"/><circle cx="118.71" cy="367.16" r="2.35" fill="#56B4E9"/><circle cx="118.71" cy="367.16" r="2.35" fill="none" stroke="#5e5e5e" stroke-width="0.45"/><circle cx="124.48" cy="367.16" r="2.35" fill="#56B4E9"/><circle cx="124.48" cy="367.16" r="2.35" fill="none" stroke="#5e5e5e" stroke-width="0.45"/><circle cx="130.25" cy="367.16" r="2.35" fill="#56B4E9"/><circle cx="130.25" cy="367.16" r="2.35" fill="none" stroke="#5e5e5e" stroke-width="0.45"/><circle cx="136.02" cy="367.16" r="2.35" fill="#56B4E9"/><circle cx="136.02" cy="367.16" r="2.35" fill="none" stroke="#5e5e5e" stroke-width="0.45"/><circle cx="141.79" cy="367.16" r="2.35" fill="#56B4E9"/><circle cx="141.79" cy="367.16" r="2.35" fill="none" stroke="#5e5e5e" stroke-width="0.45"/><circle cx="147.56" cy="367.16" r="2.35" fill="#56B4E9"/><circle cx="147.56" cy="367.16" r="2.35" fill="none" stroke="#5e5e5e" stroke-width="0.45"/><circle cx="153.33" cy="367.16" r="2.35" fill="#56B4E9"/><circle cx="153.33" cy="367.16" r="2.35" fill="none" stroke="#5e5e5e" stroke-width="0.45"/><circle cx="101.4" cy="372.93" r="2.35" fill="#56B4E9"/><circle cx="101.4" cy="372.93" r="2.35" fill="none" stroke="#5e5e5e" stroke-width="0.45"/><circle cx="107.17" cy="372.93" r="2.35" fill="#56B4E9"/><circle cx="107.17" cy="372.93" r="2.35" fill="none" stroke="#5e5e5e" stroke-width="0.45"/><circle cx="112.94" cy="372.93" r="2.35" fill="#56B4E9"/><circle cx="112.94" cy="372.93" r="2.35" fill="none" stroke="#5e5e5e" stroke-width="0.45"/><circle cx="118.71" cy="372.93" r="2.35" fill="#56B4E9"/><circle cx="118.71" cy="372.93" r="2.35" fill="none" stroke="#5e5e5e" stroke-width="0.45"/><g clip-path="url(#cd11)"><rect x="122.13" y="370.58" width="2.4" height="4.7" fill="#56B4E9"/><rect x="124.48" y="370.58" width="2.4" height="4.7" fill="#D55E00"/></g><circle cx="124.48" cy="372.93" r="2.35" fill="none" stroke="#5e5e5e" stroke-width="0.45"/><circle cx="130.25" cy="372.93" r="2.35" fill="#D55E00"/><circle cx="130.25" cy="372.93" r="2.35" fill="none" stroke="#5e5e5e" stroke-width="0.45"/><g clip-path="url(#cd12)"><rect x="133.67" y="370.58" width="2.4" height="4.7" fill="#D55E00"/><rect x="136.02" y="370.58" width="2.4" height="4.7" fill="#F0E442"/></g><circle cx="136.02" cy="372.93" r="2.35" fill="none" stroke="#5e5e5e" stroke-width="0.45"/><circle cx="141.79" cy="372.93" r="2.35" fill="#F0E442"/><circle cx="141.79" cy="372.93" r="2.35" fill="none" stroke="#5e5e5e" stroke-width="0.45"/><circle cx="147.56" cy="372.93" r="2.35" fill="#E69F00"/><circle cx="147.56" cy="372.93" r="2.35" fill="none" stroke="#5e5e5e" stroke-width="0.45"/><g clip-path="url(#cd13)"><rect x="150.98" y="370.58" width="2.4" height="4.7" fill="#E69F00"/><rect x="153.33" y="370.58" width="2.4" height="4.7" fill="#CC79A7"/></g><circle cx="153.33" cy="372.93" r="2.35" fill="none" stroke="#5e5e5e" stroke-width="0.45"/><circle cx="179.3" cy="321.2" r="2.35" fill="#0072B2"/><circle cx="179.3" cy="321.2" r="2.35" fill="none" stroke="#5e5e5e" stroke-width="0.45"/><circle cx="185.07" cy="321.2" r="2.35" fill="#0072B2"/><circle cx="185.07" cy="321.2" r="2.35" fill="none" stroke="#5e5e5e" stroke-width="0.45"/><circle cx="190.84" cy="321.2" r="2.35" fill="#0072B2"/><circle cx="190.84" cy="321.2" r="2.35" fill="none" stroke="#5e5e5e" stroke-width="0.45"/><circle cx="196.61" cy="321.2" r="2.35" fill="#0072B2"/><circle cx="196.61" cy="321.2" r="2.35" fill="none" stroke="#5e5e5e" stroke-width="0.45"/><circle cx="202.38" cy="321.2" r="2.35" fill="#0072B2"/><circle cx="202.38" cy="321.2" r="2.35" fill="none" stroke="#5e5e5e" stroke-width="0.45"/><circle cx="208.15" cy="321.2" r="2.35" fill="#0072B2"/><circle cx="208.15" cy="321.2" r="2.35" fill="none" stroke="#5e5e5e" stroke-width="0.45"/><circle cx="213.92" cy="321.2" r="2.35" fill="#0072B2"/><circle cx="213.92" cy="321.2" r="2.35" fill="none" stroke="#5e5e5e" stroke-width="0.45"/><circle cx="219.69" cy="321.2" r="2.35" fill="#0072B2"/><circle cx="219.69" cy="321.2" r="2.35" fill="none" stroke="#5e5e5e" stroke-width="0.45"/><circle cx="225.46" cy="321.2" r="2.35" fill="#0072B2"/><circle cx="225.46" cy="321.2" r="2.35" fill="none" stroke="#5e5e5e" stroke-width="0.45"/><circle cx="231.23" cy="321.2" r="2.35" fill="#0072B2"/><circle cx="231.23" cy="321.2" r="2.35" fill="none" stroke="#5e5e5e" stroke-width="0.45"/><circle cx="179.3" cy="326.97" r="2.35" fill="#0072B2"/><circle cx="179.3" cy="326.97" r="2.35" fill="none" stroke="#5e5e5e" stroke-width="0.45"/><circle cx="185.07" cy="326.97" r="2.35" fill="#0072B2"/><circle cx="185.07" cy="326.97" r="2.35" fill="none" stroke="#5e5e5e" stroke-width="0.45"/><circle cx="190.84" cy="326.97" r="2.35" fill="#0072B2"/><circle cx="190.84" cy="326.97" r="2.35" fill="none" stroke="#5e5e5e" stroke-width="0.45"/><circle cx="196.61" cy="326.97" r="2.35" fill="#0072B2"/><circle cx="196.61" cy="326.97" r="2.35" fill="none" stroke="#5e5e5e" stroke-width="0.45"/><circle cx="202.38" cy="326.97" r="2.35" fill="#0072B2"/><circle cx="202.38" cy="326.97" r="2.35" fill="none" stroke="#5e5e5e" stroke-width="0.45"/><circle cx="208.15" cy="326.97" r="2.35" fill="#0072B2"/><circle cx="208.15" cy="326.97" r="2.35" fill="none" stroke="#5e5e5e" stroke-width="0.45"/><circle cx="213.92" cy="326.97" r="2.35" fill="#0072B2"/><circle cx="213.92" cy="326.97" r="2.35" fill="none" stroke="#5e5e5e" stroke-width="0.45"/><circle cx="219.69" cy="326.97" r="2.35" fill="#0072B2"/><circle cx="219.69" cy="326.97" r="2.35" fill="none" stroke="#5e5e5e" stroke-width="0.45"/><circle cx="225.46" cy="326.97" r="2.35" fill="#0072B2"/><circle cx="225.46" cy="326.97" r="2.35" fill="none" stroke="#5e5e5e" stroke-width="0.45"/><circle cx="231.23" cy="326.97" r="2.35" fill="#0072B2"/><circle cx="231.23" cy="326.97" r="2.35" fill="none" stroke="#5e5e5e" stroke-width="0.45"/><circle cx="179.3" cy="332.74" r="2.35" fill="#0072B2"/><circle cx="179.3" cy="332.74" r="2.35" fill="none" stroke="#5e5e5e" stroke-width="0.45"/><circle cx="185.07" cy="332.74" r="2.35" fill="#0072B2"/><circle cx="185.07" cy="332.74" r="2.35" fill="none" stroke="#5e5e5e" stroke-width="0.45"/><circle cx="190.84" cy="332.74" r="2.35" fill="#0072B2"/><circle cx="190.84" cy="332.74" r="2.35" fill="none" stroke="#5e5e5e" stroke-width="0.45"/><circle cx="196.61" cy="332.74" r="2.35" fill="#0072B2"/><circle cx="196.61" cy="332.74" r="2.35" fill="none" stroke="#5e5e5e" stroke-width="0.45"/><circle cx="202.38" cy="332.74" r="2.35" fill="#0072B2"/><circle cx="202.38" cy="332.74" r="2.35" fill="none" stroke="#5e5e5e" stroke-width="0.45"/><circle cx="208.15" cy="332.74" r="2.35" fill="#0072B2"/><circle cx="208.15" cy="332.74" r="2.35" fill="none" stroke="#5e5e5e" stroke-width="0.45"/><circle cx="213.92" cy="332.74" r="2.35" fill="#0072B2"/><circle cx="213.92" cy="332.74" r="2.35" fill="none" stroke="#5e5e5e" stroke-width="0.45"/><circle cx="219.69" cy="332.74" r="2.35" fill="#0072B2"/><circle cx="219.69" cy="332.74" r="2.35" fill="none" stroke="#5e5e5e" stroke-width="0.45"/><circle cx="225.46" cy="332.74" r="2.35" fill="#0072B2"/><circle cx="225.46" cy="332.74" r="2.35" fill="none" stroke="#5e5e5e" stroke-width="0.45"/><circle cx="231.23" cy="332.74" r="2.35" fill="#0072B2"/><circle cx="231.23" cy="332.74" r="2.35" fill="none" stroke="#5e5e5e" stroke-width="0.45"/><circle cx="179.3" cy="338.51" r="2.35" fill="#0072B2"/><circle cx="179.3" cy="338.51" r="2.35" fill="none" stroke="#5e5e5e" stroke-width="0.45"/><circle cx="185.07" cy="338.51" r="2.35" fill="#0072B2"/><circle cx="185.07" cy="338.51" r="2.35" fill="none" stroke="#5e5e5e" stroke-width="0.45"/><circle cx="190.84" cy="338.51" r="2.35" fill="#0072B2"/><circle cx="190.84" cy="338.51" r="2.35" fill="none" stroke="#5e5e5e" stroke-width="0.45"/><circle cx="196.61" cy="338.51" r="2.35" fill="#0072B2"/><circle cx="196.61" cy="338.51" r="2.35" fill="none" stroke="#5e5e5e" stroke-width="0.45"/><circle cx="202.38" cy="338.51" r="2.35" fill="#0072B2"/><circle cx="202.38" cy="338.51" r="2.35" fill="none" stroke="#5e5e5e" stroke-width="0.45"/><circle cx="208.15" cy="338.51" r="2.35" fill="#0072B2"/><circle cx="208.15" cy="338.51" r="2.35" fill="none" stroke="#5e5e5e" stroke-width="0.45"/><circle cx="213.92" cy="338.51" r="2.35" fill="#0072B2"/><circle cx="213.92" cy="338.51" r="2.35" fill="none" stroke="#5e5e5e" stroke-width="0.45"/><circle cx="219.69" cy="338.51" r="2.35" fill="#0072B2"/><circle cx="219.69" cy="338.51" r="2.35" fill="none" stroke="#5e5e5e" stroke-width="0.45"/><circle cx="225.46" cy="338.51" r="2.35" fill="#0072B2"/><circle cx="225.46" cy="338.51" r="2.35" fill="none" stroke="#5e5e5e" stroke-width="0.45"/><circle cx="231.23" cy="338.51" r="2.35" fill="#0072B2"/><circle cx="231.23" cy="338.51" r="2.35" fill="none" stroke="#5e5e5e" stroke-width="0.45"/><circle cx="179.3" cy="344.28" r="2.35" fill="#0072B2"/><circle cx="179.3" cy="344.28" r="2.35" fill="none" stroke="#5e5e5e" stroke-width="0.45"/><circle cx="185.07" cy="344.28" r="2.35" fill="#0072B2"/><circle cx="185.07" cy="344.28" r="2.35" fill="none" stroke="#5e5e5e" stroke-width="0.45"/><circle cx="190.84" cy="344.28" r="2.35" fill="#0072B2"/><circle cx="190.84" cy="344.28" r="2.35" fill="none" stroke="#5e5e5e" stroke-width="0.45"/><circle cx="196.61" cy="344.28" r="2.35" fill="#0072B2"/><circle cx="196.61" cy="344.28" r="2.35" fill="none" stroke="#5e5e5e" stroke-width="0.45"/><circle cx="202.38" cy="344.28" r="2.35" fill="#0072B2"/><circle cx="202.38" cy="344.28" r="2.35" fill="none" stroke="#5e5e5e" stroke-width="0.45"/><circle cx="208.15" cy="344.28" r="2.35" fill="#0072B2"/><circle cx="208.15" cy="344.28" r="2.35" fill="none" stroke="#5e5e5e" stroke-width="0.45"/><circle cx="213.92" cy="344.28" r="2.35" fill="#0072B2"/><circle cx="213.92" cy="344.28" r="2.35" fill="none" stroke="#5e5e5e" stroke-width="0.45"/><circle cx="219.69" cy="344.28" r="2.35" fill="#0072B2"/><circle cx="219.69" cy="344.28" r="2.35" fill="none" stroke="#5e5e5e" stroke-width="0.45"/><circle cx="225.46" cy="344.28" r="2.35" fill="#0072B2"/><circle cx="225.46" cy="344.28" r="2.35" fill="none" stroke="#5e5e5e" stroke-width="0.45"/><circle cx="231.23" cy="344.28" r="2.35" fill="#0072B2"/><circle cx="231.23" cy="344.28" r="2.35" fill="none" stroke="#5e5e5e" stroke-width="0.45"/><circle cx="179.3" cy="350.05" r="2.35" fill="#0072B2"/><circle cx="179.3" cy="350.05" r="2.35" fill="none" stroke="#5e5e5e" stroke-width="0.45"/><circle cx="185.07" cy="350.05" r="2.35" fill="#0072B2"/><circle cx="185.07" cy="350.05" r="2.35" fill="none" stroke="#5e5e5e" stroke-width="0.45"/><circle cx="190.84" cy="350.05" r="2.35" fill="#0072B2"/><circle cx="190.84" cy="350.05" r="2.35" fill="none" stroke="#5e5e5e" stroke-width="0.45"/><circle cx="196.61" cy="350.05" r="2.35" fill="#0072B2"/><circle cx="196.61" cy="350.05" r="2.35" fill="none" stroke="#5e5e5e" stroke-width="0.45"/><circle cx="202.38" cy="350.05" r="2.35" fill="#0072B2"/><circle cx="202.38" cy="350.05" r="2.35" fill="none" stroke="#5e5e5e" stroke-width="0.45"/><circle cx="208.15" cy="350.05" r="2.35" fill="#0072B2"/><circle cx="208.15" cy="350.05" r="2.35" fill="none" stroke="#5e5e5e" stroke-width="0.45"/><circle cx="213.92" cy="350.05" r="2.35" fill="#0072B2"/><circle cx="213.92" cy="350.05" r="2.35" fill="none" stroke="#5e5e5e" stroke-width="0.45"/><circle cx="219.69" cy="350.05" r="2.35" fill="#0072B2"/><circle cx="219.69" cy="350.05" r="2.35" fill="none" stroke="#5e5e5e" stroke-width="0.45"/><circle cx="225.46" cy="350.05" r="2.35" fill="#0072B2"/><circle cx="225.46" cy="350.05" r="2.35" fill="none" stroke="#5e5e5e" stroke-width="0.45"/><g clip-path="url(#cd14)"><rect x="228.88" y="347.7" width="0.9" height="4.7" fill="#0072B2"/><rect x="229.73" y="347.7" width="1.18" height="4.7" fill="#56B4E9"/><rect x="230.85" y="347.7" width="2.78" height="4.7" fill="#F0E442"/></g><circle cx="231.23" cy="350.05" r="2.35" fill="none" stroke="#5e5e5e" stroke-width="0.45"/><circle cx="179.3" cy="355.82" r="2.35" fill="#F0E442"/><circle cx="179.3" cy="355.82" r="2.35" fill="none" stroke="#5e5e5e" stroke-width="0.45"/><circle cx="185.07" cy="355.82" r="2.35" fill="#F0E442"/><circle cx="185.07" cy="355.82" r="2.35" fill="none" stroke="#5e5e5e" stroke-width="0.45"/><circle cx="190.84" cy="355.82" r="2.35" fill="#F0E442"/><circle cx="190.84" cy="355.82" r="2.35" fill="none" stroke="#5e5e5e" stroke-width="0.45"/><circle cx="196.61" cy="355.82" r="2.35" fill="#F0E442"/><circle cx="196.61" cy="355.82" r="2.35" fill="none" stroke="#5e5e5e" stroke-width="0.45"/><circle cx="202.38" cy="355.82" r="2.35" fill="#F0E442"/><circle cx="202.38" cy="355.82" r="2.35" fill="none" stroke="#5e5e5e" stroke-width="0.45"/><circle cx="208.15" cy="355.82" r="2.35" fill="#F0E442"/><circle cx="208.15" cy="355.82" r="2.35" fill="none" stroke="#5e5e5e" stroke-width="0.45"/><circle cx="213.92" cy="355.82" r="2.35" fill="#F0E442"/><circle cx="213.92" cy="355.82" r="2.35" fill="none" stroke="#5e5e5e" stroke-width="0.45"/><circle cx="219.69" cy="355.82" r="2.35" fill="#F0E442"/><circle cx="219.69" cy="355.82" r="2.35" fill="none" stroke="#5e5e5e" stroke-width="0.45"/><circle cx="225.46" cy="355.82" r="2.35" fill="#F0E442"/><circle cx="225.46" cy="355.82" r="2.35" fill="none" stroke="#5e5e5e" stroke-width="0.45"/><circle cx="231.23" cy="355.82" r="2.35" fill="#F0E442"/><circle cx="231.23" cy="355.82" r="2.35" fill="none" stroke="#5e5e5e" stroke-width="0.45"/><circle cx="179.3" cy="361.59" r="2.35" fill="#F0E442"/><circle cx="179.3" cy="361.59" r="2.35" fill="none" stroke="#5e5e5e" stroke-width="0.45"/><circle cx="185.07" cy="361.59" r="2.35" fill="#F0E442"/><circle cx="185.07" cy="361.59" r="2.35" fill="none" stroke="#5e5e5e" stroke-width="0.45"/><circle cx="190.84" cy="361.59" r="2.35" fill="#F0E442"/><circle cx="190.84" cy="361.59" r="2.35" fill="none" stroke="#5e5e5e" stroke-width="0.45"/><circle cx="196.61" cy="361.59" r="2.35" fill="#F0E442"/><circle cx="196.61" cy="361.59" r="2.35" fill="none" stroke="#5e5e5e" stroke-width="0.45"/><circle cx="202.38" cy="361.59" r="2.35" fill="#F0E442"/><circle cx="202.38" cy="361.59" r="2.35" fill="none" stroke="#5e5e5e" stroke-width="0.45"/><circle cx="208.15" cy="361.59" r="2.35" fill="#F0E442"/><circle cx="208.15" cy="361.59" r="2.35" fill="none" stroke="#5e5e5e" stroke-width="0.45"/><circle cx="213.92" cy="361.59" r="2.35" fill="#F0E442"/><circle cx="213.92" cy="361.59" r="2.35" fill="none" stroke="#5e5e5e" stroke-width="0.45"/><circle cx="219.69" cy="361.59" r="2.35" fill="#F0E442"/><circle cx="219.69" cy="361.59" r="2.35" fill="none" stroke="#5e5e5e" stroke-width="0.45"/><circle cx="225.46" cy="361.59" r="2.35" fill="#F0E442"/><circle cx="225.46" cy="361.59" r="2.35" fill="none" stroke="#5e5e5e" stroke-width="0.45"/><circle cx="231.23" cy="361.59" r="2.35" fill="#F0E442"/><circle cx="231.23" cy="361.59" r="2.35" fill="none" stroke="#5e5e5e" stroke-width="0.45"/><circle cx="179.3" cy="367.36" r="2.35" fill="#F0E442"/><circle cx="179.3" cy="367.36" r="2.35" fill="none" stroke="#5e5e5e" stroke-width="0.45"/><circle cx="185.07" cy="367.36" r="2.35" fill="#F0E442"/><circle cx="185.07" cy="367.36" r="2.35" fill="none" stroke="#5e5e5e" stroke-width="0.45"/><circle cx="190.84" cy="367.36" r="2.35" fill="#F0E442"/><circle cx="190.84" cy="367.36" r="2.35" fill="none" stroke="#5e5e5e" stroke-width="0.45"/><circle cx="196.61" cy="367.36" r="2.35" fill="#F0E442"/><circle cx="196.61" cy="367.36" r="2.35" fill="none" stroke="#5e5e5e" stroke-width="0.45"/><circle cx="202.38" cy="367.36" r="2.35" fill="#F0E442"/><circle cx="202.38" cy="367.36" r="2.35" fill="none" stroke="#5e5e5e" stroke-width="0.45"/><circle cx="208.15" cy="367.36" r="2.35" fill="#F0E442"/><circle cx="208.15" cy="367.36" r="2.35" fill="none" stroke="#5e5e5e" stroke-width="0.45"/><circle cx="213.92" cy="367.36" r="2.35" fill="#CC79A7"/><circle cx="213.92" cy="367.36" r="2.35" fill="none" stroke="#5e5e5e" stroke-width="0.45"/><circle cx="219.69" cy="367.36" r="2.35" fill="#CC79A7"/><circle cx="219.69" cy="367.36" r="2.35" fill="none" stroke="#5e5e5e" stroke-width="0.45"/><circle cx="225.46" cy="367.36" r="2.35" fill="#CC79A7"/><circle cx="225.46" cy="367.36" r="2.35" fill="none" stroke="#5e5e5e" stroke-width="0.45"/><circle cx="231.23" cy="367.36" r="2.35" fill="#CC79A7"/><circle cx="231.23" cy="367.36" r="2.35" fill="none" stroke="#5e5e5e" stroke-width="0.45"/><circle cx="179.3" cy="373.13" r="2.35" fill="#CC79A7"/><circle cx="179.3" cy="373.13" r="2.35" fill="none" stroke="#5e5e5e" stroke-width="0.45"/><circle cx="185.07" cy="373.13" r="2.35" fill="#CC79A7"/><circle cx="185.07" cy="373.13" r="2.35" fill="none" stroke="#5e5e5e" stroke-width="0.45"/><circle cx="190.84" cy="373.13" r="2.35" fill="#CC79A7"/><circle cx="190.84" cy="373.13" r="2.35" fill="none" stroke="#5e5e5e" stroke-width="0.45"/><circle cx="196.61" cy="373.13" r="2.35" fill="#CC79A7"/><circle cx="196.61" cy="373.13" r="2.35" fill="none" stroke="#5e5e5e" stroke-width="0.45"/><circle cx="202.38" cy="373.13" r="2.35" fill="#CC79A7"/><circle cx="202.38" cy="373.13" r="2.35" fill="none" stroke="#5e5e5e" stroke-width="0.45"/><circle cx="208.15" cy="373.13" r="2.35" fill="#CC79A7"/><circle cx="208.15" cy="373.13" r="2.35" fill="none" stroke="#5e5e5e" stroke-width="0.45"/><circle cx="213.92" cy="373.13" r="2.35" fill="#CC79A7"/><circle cx="213.92" cy="373.13" r="2.35" fill="none" stroke="#5e5e5e" stroke-width="0.45"/><circle cx="219.69" cy="373.13" r="2.35" fill="#CC79A7"/><circle cx="219.69" cy="373.13" r="2.35" fill="none" stroke="#5e5e5e" stroke-width="0.45"/><circle cx="225.46" cy="373.13" r="2.35" fill="#CC79A7"/><circle cx="225.46" cy="373.13" r="2.35" fill="none" stroke="#5e5e5e" stroke-width="0.45"/><circle cx="231.23" cy="373.13" r="2.35" fill="#CC79A7"/><circle cx="231.23" cy="373.13" r="2.35" fill="none" stroke="#5e5e5e" stroke-width="0.45"/><rect x="300.9" y="364.08" width="9.1" height="1.64" fill="#CC79A7"/><rect x="300.9" y="362.91" width="9.1" height="1.2" fill="#E69F00"/><rect x="300.9" y="342.03" width="9.1" height="20.89" fill="#F0E442"/><rect x="300.9" y="339.97" width="9.1" height="2.08" fill="#D55E00"/><rect x="300.9" y="323.07" width="9.1" height="16.92" fill="#56B4E9"/><rect x="300.9" y="218.7" width="9.1" height="104.39" fill="#0072B2"/><line x1="305.45" y1="365.7" x2="305.45" y2="369.7" stroke="#000" stroke-width="0.9"/><rect x="314.15" y="361.29" width="9.1" height="4.43" fill="#CC79A7"/><rect x="314.15" y="359.97" width="9.1" height="1.34" fill="#E69F00"/><rect x="314.15" y="323.95" width="9.1" height="36.03" fill="#F0E442"/><rect x="314.15" y="320.72" width="9.1" height="3.25" fill="#D55E00"/><rect x="314.15" y="309.4" width="9.1" height="11.34" fill="#56B4E9"/><rect x="314.15" y="218.7" width="9.1" height="90.72" fill="#0072B2"/><line x1="318.7" y1="365.7" x2="318.7" y2="369.7" stroke="#000" stroke-width="0.9"/><rect x="327.4" y="361" width="9.1" height="4.72" fill="#E69F00"/><rect x="327.4" y="332.33" width="9.1" height="28.68" fill="#F0E442"/><rect x="327.4" y="322.63" width="9.1" height="9.72" fill="#D55E00"/><rect x="327.4" y="252.07" width="9.1" height="70.58" fill="#56B4E9"/><rect x="327.4" y="218.7" width="9.1" height="33.39" fill="#0072B2"/><line x1="331.95" y1="365.7" x2="331.95" y2="369.7" stroke="#000" stroke-width="0.9"/><rect x="340.65" y="353.35" width="9.1" height="12.37" fill="#CC79A7"/><rect x="340.65" y="352.18" width="9.1" height="1.2" fill="#E69F00"/><rect x="340.65" y="304.84" width="9.1" height="47.35" fill="#F0E442"/><rect x="340.65" y="295.73" width="9.1" height="9.13" fill="#56B4E9"/><rect x="340.65" y="218.7" width="9.1" height="77.05" fill="#0072B2"/><line x1="345.2" y1="365.7" x2="345.2" y2="369.7" stroke="#000" stroke-width="0.9"/><rect x="353.9" y="365.11" width="9.1" height="0.61" fill="#CC79A7"/><rect x="353.9" y="363.2" width="9.1" height="1.93" fill="#E69F00"/><rect x="353.9" y="302.2" width="9.1" height="61.02" fill="#F0E442"/><rect x="353.9" y="301.17" width="9.1" height="1.05" fill="#D55E00"/><rect x="353.9" y="284.56" width="9.1" height="16.63" fill="#56B4E9"/><rect x="353.9" y="218.7" width="9.1" height="65.88" fill="#0072B2"/><line x1="358.45" y1="365.7" x2="358.45" y2="369.7" stroke="#000" stroke-width="0.9"/><rect x="367.15" y="330.42" width="9.1" height="35.3" fill="#F0E442"/><rect x="367.15" y="310.72" width="9.1" height="19.72" fill="#56B4E9"/><rect x="367.15" y="218.7" width="9.1" height="92.04" fill="#0072B2"/><line x1="371.7" y1="365.7" x2="371.7" y2="369.7" stroke="#000" stroke-width="0.9"/><rect x="380.4" y="364.96" width="9.1" height="0.76" fill="#CC79A7"/><rect x="380.4" y="363.2" width="9.1" height="1.78" fill="#E69F00"/><rect x="380.4" y="316.6" width="9.1" height="46.62" fill="#F0E442"/><rect x="380.4" y="314.25" width="9.1" height="2.37" fill="#D55E00"/><rect x="380.4" y="297.79" width="9.1" height="16.48" fill="#56B4E9"/><rect x="380.4" y="218.7" width="9.1" height="79.11" fill="#0072B2"/><line x1="384.95" y1="365.7" x2="384.95" y2="369.7" stroke="#000" stroke-width="0.9"/><rect x="393.65" y="357.03" width="9.1" height="8.69" fill="#E69F00"/><rect x="393.65" y="319.98" width="9.1" height="37.06" fill="#F0E442"/><rect x="393.65" y="311.02" width="9.1" height="8.99" fill="#56B4E9"/><rect x="393.65" y="218.7" width="9.1" height="92.34" fill="#0072B2"/><line x1="398.2" y1="365.7" x2="398.2" y2="369.7" stroke="#000" stroke-width="0.9"/><line x1="296.4" y1="218.1" x2="296.4" y2="366.35" stroke="#000" stroke-width="1.3"/><line x1="291.8" y1="365.7" x2="406.6" y2="365.7" stroke="#000" stroke-width="1.3"/><line x1="294" y1="358.35" x2="296.4" y2="358.35" stroke="#000" stroke-width="0.9"/><line x1="294" y1="351" x2="296.4" y2="351" stroke="#000" stroke-width="0.9"/><line x1="294" y1="343.65" x2="296.4" y2="343.65" stroke="#000" stroke-width="0.9"/><line x1="294" y1="336.3" x2="296.4" y2="336.3" stroke="#000" stroke-width="0.9"/><line x1="294" y1="328.95" x2="296.4" y2="328.95" stroke="#000" stroke-width="0.9"/><line x1="294" y1="321.6" x2="296.4" y2="321.6" stroke="#000" stroke-width="0.9"/><line x1="294" y1="314.25" x2="296.4" y2="314.25" stroke="#000" stroke-width="0.9"/><line x1="294" y1="306.9" x2="296.4" y2="306.9" stroke="#000" stroke-width="0.9"/><line x1="294" y1="299.55" x2="296.4" y2="299.55" stroke="#000" stroke-width="0.9"/><line x1="291.8" y1="292.2" x2="296.4" y2="292.2" stroke="#000" stroke-width="0.9"/><line x1="294" y1="284.85" x2="296.4" y2="284.85" stroke="#000" stroke-width="0.9"/><line x1="294" y1="277.5" x2="296.4" y2="277.5" stroke="#000" stroke-width="0.9"/><line x1="294" y1="270.15" x2="296.4" y2="270.15" stroke="#000" stroke-width="0.9"/><line x1="294" y1="262.8" x2="296.4" y2="262.8" stroke="#000" stroke-width="0.9"/><line x1="294" y1="255.45" x2="296.4" y2="255.45" stroke="#000" stroke-width="0.9"/><line x1="294" y1="248.1" x2="296.4" y2="248.1" stroke="#000" stroke-width="0.9"/><line x1="294" y1="240.75" x2="296.4" y2="240.75" stroke="#000" stroke-width="0.9"/><line x1="294" y1="233.4" x2="296.4" y2="233.4" stroke="#000" stroke-width="0.9"/><line x1="294" y1="226.05" x2="296.4" y2="226.05" stroke="#000" stroke-width="0.9"/><line x1="291.8" y1="218.7" x2="296.4" y2="218.7" stroke="#000" stroke-width="0.9"/><rect x="416.2" y="304.1" width="9.2" height="4.2" fill="#0072B2"/><text x="430.8" y="308.5" font-size="6.9" fill="#000"><tspan font-style="italic">bla</tspan><tspan font-size="5.1" dy="1.6">NDM</tspan></text><rect x="416.2" y="315.6" width="9.2" height="4.2" fill="#56B4E9"/><text x="430.8" y="320" font-size="6.9" fill="#000"><tspan font-style="italic">bla</tspan><tspan font-size="5.1" dy="1.6">KPC</tspan></text><rect x="416.2" y="327.1" width="9.2" height="4.2" fill="#D55E00"/><text x="430.8" y="331.5" font-size="6.9" fill="#000"><tspan font-style="italic">bla</tspan><tspan font-size="5.1" dy="1.6">IMP</tspan></text><rect x="416.2" y="338.6" width="9.2" height="4.2" fill="#F0E442"/><text x="430.8" y="343" font-size="6.9" fill="#000"><tspan font-style="italic">bla</tspan><tspan font-size="5.1" dy="1.6">OXA-48-like</tspan></text><rect x="416.2" y="350.1" width="9.2" height="4.2" fill="#E69F00"/><text x="430.8" y="354.5" font-size="6.9" fill="#000"><tspan font-style="italic">bla</tspan><tspan font-size="5.1" dy="1.6">VIM</tspan><tspan dy="-1.6"> / other mechanism</tspan></text><rect x="416.2" y="361.6" width="9.2" height="4.2" fill="#CC79A7"/><rect x="526.65" y="336.43" width="8.6" height="14.69" fill="#D55E00"/><rect x="526.65" y="304.65" width="8.6" height="2.31" fill="#56B4E9"/><rect x="526.65" y="312.5" width="8.6" height="23.95" fill="#56B4E9"/><rect x="526.65" y="301.46" width="8.6" height="3.2" fill="#0072B2"/><rect x="526.65" y="296.75" width="8.6" height="4.73" fill="#F0E442"/><rect x="526.65" y="296.37" width="8.6" height="0.4" fill="#E69F00"/><rect x="526.65" y="296.05" width="8.6" height="0.34" fill="#CC79A7"/><line x1="530.95" y1="351.1" x2="530.95" y2="355" stroke="#000" stroke-width="0.9"/><rect x="539.6" y="348.4" width="8.6" height="2.72" fill="#D55E00"/><rect x="539.6" y="320.8" width="8.6" height="27.62" fill="#56B4E9"/><rect x="539.6" y="302.67" width="8.6" height="4.29" fill="#0072B2"/><rect x="539.6" y="312.5" width="8.6" height="8.32" fill="#0072B2"/><rect x="539.6" y="298.47" width="8.6" height="4.22" fill="#F0E442"/><rect x="539.6" y="298.22" width="8.6" height="0.27" fill="#E69F00"/><rect x="539.6" y="298.02" width="8.6" height="0.21" fill="#CC79A7"/><line x1="543.9" y1="351.1" x2="543.9" y2="355" stroke="#000" stroke-width="0.9"/><rect x="552.55" y="346.47" width="8.6" height="4.65" fill="#D55E00"/><rect x="552.55" y="303.75" width="8.6" height="3.2" fill="#56B4E9"/><rect x="552.55" y="312.5" width="8.6" height="33.99" fill="#56B4E9"/><rect x="552.55" y="290.38" width="8.6" height="13.39" fill="#0072B2"/><rect x="552.55" y="271.22" width="8.6" height="19.18" fill="#F0E442"/><rect x="552.55" y="270.39" width="8.6" height="0.85" fill="#E69F00"/><rect x="552.55" y="269.5" width="8.6" height="0.91" fill="#CC79A7"/><line x1="556.85" y1="351.1" x2="556.85" y2="355" stroke="#000" stroke-width="0.9"/><rect x="565.5" y="338.75" width="8.6" height="12.37" fill="#D55E00"/><rect x="565.5" y="291.02" width="8.6" height="15.94" fill="#56B4E9"/><rect x="565.5" y="312.5" width="8.6" height="26.27" fill="#56B4E9"/><rect x="565.5" y="263.01" width="8.6" height="28.03" fill="#0072B2"/><rect x="565.5" y="228.69" width="8.6" height="34.34" fill="#F0E442"/><rect x="565.5" y="227.03" width="8.6" height="1.68" fill="#E69F00"/><rect x="565.5" y="225.12" width="8.6" height="1.93" fill="#CC79A7"/><line x1="569.8" y1="351.1" x2="569.8" y2="355" stroke="#000" stroke-width="0.9"/><rect x="578.45" y="347.9" width="8.6" height="3.22" fill="#D55E00"/><rect x="578.45" y="300.13" width="8.6" height="6.83" fill="#56B4E9"/><rect x="578.45" y="312.5" width="8.6" height="35.42" fill="#56B4E9"/><rect x="578.45" y="260.97" width="8.6" height="39.18" fill="#0072B2"/><rect x="578.45" y="239.7" width="8.6" height="21.29" fill="#F0E442"/><rect x="578.45" y="239" width="8.6" height="0.72" fill="#E69F00"/><rect x="578.45" y="237.79" width="8.6" height="1.23" fill="#CC79A7"/><line x1="582.75" y1="351.1" x2="582.75" y2="355" stroke="#000" stroke-width="0.9"/><rect x="591.4" y="346.85" width="8.6" height="4.27" fill="#D55E00"/><rect x="591.4" y="321.76" width="8.6" height="25.11" fill="#56B4E9"/><rect x="591.4" y="286.18" width="8.6" height="20.78" fill="#0072B2"/><rect x="591.4" y="312.5" width="8.6" height="9.28" fill="#0072B2"/><rect x="591.4" y="272.3" width="8.6" height="13.9" fill="#F0E442"/><rect x="591.4" y="271.92" width="8.6" height="0.4" fill="#E69F00"/><rect x="591.4" y="271.09" width="8.6" height="0.85" fill="#CC79A7"/><line x1="595.7" y1="351.1" x2="595.7" y2="355" stroke="#000" stroke-width="0.9"/><rect x="604.35" y="346.85" width="8.6" height="4.27" fill="#D55E00"/><rect x="604.35" y="315.59" width="8.6" height="31.29" fill="#56B4E9"/><rect x="604.35" y="279.81" width="8.6" height="27.14" fill="#0072B2"/><rect x="604.35" y="312.5" width="8.6" height="3.11" fill="#0072B2"/><rect x="604.35" y="272.81" width="8.6" height="7.02" fill="#F0E442"/><rect x="604.35" y="272.43" width="8.6" height="0.4" fill="#E69F00"/><rect x="604.35" y="271.79" width="8.6" height="0.66" fill="#CC79A7"/><line x1="608.65" y1="351.1" x2="608.65" y2="355" stroke="#000" stroke-width="0.9"/><rect x="617.3" y="345.5" width="8.6" height="5.62" fill="#D55E00"/><rect x="617.3" y="324.85" width="8.6" height="20.67" fill="#56B4E9"/><rect x="617.3" y="266.19" width="8.6" height="40.77" fill="#0072B2"/><rect x="617.3" y="312.5" width="8.6" height="12.37" fill="#0072B2"/><rect x="617.3" y="253.52" width="8.6" height="12.69" fill="#F0E442"/><rect x="617.3" y="252.69" width="8.6" height="0.85" fill="#E69F00"/><rect x="617.3" y="250.59" width="8.6" height="2.12" fill="#CC79A7"/><line x1="621.6" y1="351.1" x2="621.6" y2="355" stroke="#000" stroke-width="0.9"/><rect x="630.25" y="349.94" width="8.6" height="1.18" fill="#D55E00"/><rect x="630.25" y="329.87" width="8.6" height="20.09" fill="#56B4E9"/><rect x="630.25" y="286.88" width="8.6" height="20.08" fill="#0072B2"/><rect x="630.25" y="312.5" width="8.6" height="17.39" fill="#0072B2"/><rect x="630.25" y="281.6" width="8.6" height="5.3" fill="#F0E442"/><rect x="630.25" y="281.28" width="8.6" height="0.34" fill="#E69F00"/><rect x="630.25" y="280.39" width="8.6" height="0.91" fill="#CC79A7"/><line x1="634.55" y1="351.1" x2="634.55" y2="355" stroke="#000" stroke-width="0.9"/><rect x="643.2" y="349.94" width="8.6" height="1.18" fill="#D55E00"/><rect x="643.2" y="331.99" width="8.6" height="17.97" fill="#56B4E9"/><rect x="643.2" y="289.81" width="8.6" height="17.15" fill="#0072B2"/><rect x="643.2" y="312.5" width="8.6" height="19.51" fill="#0072B2"/><rect x="643.2" y="287.2" width="8.6" height="2.63" fill="#F0E442"/><rect x="643.2" y="286.82" width="8.6" height="0.4" fill="#E69F00"/><rect x="643.2" y="286.25" width="8.6" height="0.59" fill="#CC79A7"/><line x1="647.5" y1="351.1" x2="647.5" y2="355" stroke="#000" stroke-width="0.9"/><rect x="656.15" y="328.71" width="8.6" height="22.41" fill="#56B4E9"/><rect x="656.15" y="284.08" width="8.6" height="22.88" fill="#0072B2"/><rect x="656.15" y="312.5" width="8.6" height="16.23" fill="#0072B2"/><rect x="656.15" y="281.79" width="8.6" height="2.31" fill="#F0E442"/><rect x="656.15" y="281.28" width="8.6" height="0.53" fill="#E69F00"/><rect x="656.15" y="280.51" width="8.6" height="0.78" fill="#CC79A7"/><line x1="660.45" y1="351.1" x2="660.45" y2="355" stroke="#000" stroke-width="0.9"/><rect x="669.1" y="341.84" width="8.6" height="9.28" fill="#D55E00"/><rect x="669.1" y="328.71" width="8.6" height="13.14" fill="#56B4E9"/><rect x="669.1" y="268.93" width="8.6" height="38.03" fill="#0072B2"/><rect x="669.1" y="312.5" width="8.6" height="16.23" fill="#0072B2"/><rect x="669.1" y="263.77" width="8.6" height="5.18" fill="#F0E442"/><rect x="669.1" y="263.32" width="8.6" height="0.47" fill="#E69F00"/><rect x="669.1" y="262.69" width="8.6" height="0.66" fill="#CC79A7"/><line x1="673.4" y1="351.1" x2="673.4" y2="355" stroke="#000" stroke-width="0.9"/><g class="gs"></g><line x1="522.6" y1="217.3" x2="522.6" y2="307.2" stroke="#000" stroke-width="1.0"/><line x1="520.8" y1="307.2" x2="524.3" y2="307.2" stroke="#000" stroke-width="0.8"/><line x1="522.6" y1="312.6" x2="522.6" y2="351.6" stroke="#000" stroke-width="1.0"/><line x1="520.3" y1="312.7" x2="524.3" y2="312.7" stroke="#000" stroke-width="0.8"/><line x1="519" y1="351.1" x2="682.2" y2="351.1" stroke="#000" stroke-width="1.0"/><line x1="519" y1="217.8" x2="522.6" y2="217.8" stroke="#000" stroke-width="0.8"/><line x1="519" y1="236.9" x2="522.6" y2="236.9" stroke="#000" stroke-width="0.8"/><line x1="519" y1="256" x2="522.6" y2="256" stroke="#000" stroke-width="0.8"/><line x1="519" y1="275.1" x2="522.6" y2="275.1" stroke="#000" stroke-width="0.8"/><line x1="519" y1="294.2" x2="522.6" y2="294.2" stroke="#000" stroke-width="0.8"/><line x1="520.4" y1="347.24" x2="522.6" y2="347.24" stroke="#000" stroke-width="0.7"/><line x1="520.4" y1="343.38" x2="522.6" y2="343.38" stroke="#000" stroke-width="0.7"/><line x1="520.4" y1="339.52" x2="522.6" y2="339.52" stroke="#000" stroke-width="0.7"/><line x1="520.4" y1="335.66" x2="522.6" y2="335.66" stroke="#000" stroke-width="0.7"/><line x1="520.4" y1="331.8" x2="522.6" y2="331.8" stroke="#000" stroke-width="0.7"/><line x1="520.4" y1="327.94" x2="522.6" y2="327.94" stroke="#000" stroke-width="0.7"/><line x1="520.4" y1="324.08" x2="522.6" y2="324.08" stroke="#000" stroke-width="0.7"/><line x1="520.4" y1="320.22" x2="522.6" y2="320.22" stroke="#000" stroke-width="0.7"/><line x1="520.4" y1="316.36" x2="522.6" y2="316.36" stroke="#000" stroke-width="0.7"/><line x1="519" y1="312.5" x2="522.6" y2="312.5" stroke="#000" stroke-width="0.8"/><g class="gs"><text x="67.6" y="8.9" font-size="4.8" font-weight="bold" text-anchor="middle" fill="#222">Canada</text><text x="67" y="14.8" font-size="4.8" font-weight="bold" text-anchor="middle" fill="#222">n=186</text><text x="57.2" y="59" font-size="4.8" font-weight="bold" text-anchor="middle" fill="#222">USA</text><text x="59" y="64.9" font-size="4.8" font-weight="bold" text-anchor="middle" fill="#222">n=1384</text><text x="164.3" y="5.2" font-size="4.8" font-weight="bold" text-anchor="middle" fill="#222">United Kingdom</text><text x="158.6" y="11.1" font-size="4.8" font-weight="bold" text-anchor="middle" fill="#222">n=1147</text><text x="231" y="5.6" font-size="4.8" font-weight="bold" text-anchor="middle" fill="#222">Norway</text><text x="230.1" y="11.5" font-size="4.8" font-weight="bold" text-anchor="middle" fill="#222">n=176</text><text x="267.5" y="9.5" font-size="4.8" font-weight="bold" text-anchor="middle" fill="#222">Switzerland</text><text x="268.1" y="15.4" font-size="4.8" font-weight="bold" text-anchor="middle" fill="#222">n=100</text><text x="187.7" y="45" font-size="4.8" font-weight="bold" text-anchor="middle" fill="#222">Germany</text><text x="189.2" y="50.9" font-size="4.8" font-weight="bold" text-anchor="middle" fill="#222">n=153</text><text x="167.6" y="55" font-size="4.8" font-weight="bold" text-anchor="middle" fill="#222">France</text><text x="167.6" y="60.9" font-size="4.8" font-weight="bold" text-anchor="middle" fill="#222">n=635</text><text x="177.6" y="89" font-size="4.8" font-weight="bold" text-anchor="middle" fill="#222">Spain</text><text x="177.6" y="94.9" font-size="4.8" font-weight="bold" text-anchor="middle" fill="#222">n=186</text><text x="192" y="118.1" font-size="4.8" font-weight="bold" text-anchor="middle" fill="#222">Israel</text><text x="193.3" y="124" font-size="4.8" font-weight="bold" text-anchor="middle" fill="#222">n=127</text><text x="267.5" y="123.6" font-size="4.8" font-weight="bold" text-anchor="middle" fill="#222">Pakistan</text><text x="267.5" y="129.5" font-size="4.8" font-weight="bold" text-anchor="middle" fill="#222">n=122</text><text x="284.6" y="159.2" font-size="4.8" font-weight="bold" text-anchor="middle" fill="#222">India</text><text x="285.1" y="165.1" font-size="4.8" font-weight="bold" text-anchor="middle" fill="#222">n=150</text><text x="328.4" y="86.9" font-size="4.8" font-weight="bold" text-anchor="middle" fill="#222">Thailand</text><text x="328.4" y="92.8" font-size="4.8" font-weight="bold" text-anchor="middle" fill="#222">n=254</text><text x="353.2" y="63.6" font-size="4.8" font-weight="bold" text-anchor="middle" fill="#222">China</text><text x="353.2" y="69.5" font-size="4.8" font-weight="bold" text-anchor="middle" fill="#222">n=1688</text><text x="364.6" y="136.2" font-size="4.8" font-weight="bold" text-anchor="middle" fill="#222">Australia</text><text x="365.2" y="142.1" font-size="4.8" font-weight="bold" text-anchor="middle" fill="#222">n=480</text><text x="26.8" y="159.7" font-size="5.75" fill="#444">801-1800</text><text x="26.8" y="170.7" font-size="5.75" fill="#444">401-800</text><text x="26.8" y="181.7" font-size="5.75" fill="#444">201-400</text><text x="26.8" y="192.7" font-size="5.75" fill="#444">101-200</text><text x="26.8" y="203.7" font-size="5.75" fill="#444">51-100</text><text x="65.6" y="154.0" font-size="7.05" fill="#111">CRGs</text><text x="71.4" y="202.8" font-size="5.75" fill="#111">2 or 3 of above</text><text x="0.6" y="17.2" font-size="13.8" fill="#000">a</text><text x="403.3" y="20.6" font-size="13.8" fill="#000">b</text><text x="1.3" y="226.8" font-size="13.8" fill="#000">c</text><text x="260.6" y="226.8" font-size="13.8" fill="#000">d</text><text x="460.3" y="224.1" font-size="13.8" fill="#000">e</text><text x="507.2" y="23.7" font-size="5.45" fill="#000">2 or 3 types of CRGs</text><text x="507.2" y="30.2" font-size="5.45" fill="#000">human : 2.74%</text><text x="507.2" y="36.7" font-size="5.45" fill="#000">animal : 1.64%</text><text x="507.2" y="43.2" font-size="5.45" fill="#000">environment : 2.33%</text><text x="428" y="49.3" font-size="5.45" fill="#000">human: 1.27%</text><text x="428" y="55.8" font-size="5.45" fill="#000">animal: 0.82%</text><text x="428" y="62.3" font-size="5.45" fill="#000">environment: 1.55%</text><text x="593.8" y="42.1" font-size="5.45" fill="#000">human : 2.03%</text><text x="593.8" y="48.6" font-size="5.45" fill="#000">animal : 8.20%</text><text x="593.8" y="55.1" font-size="5.45" fill="#000">environment : 3.73%</text><text x="428" y="88.8" font-size="5.45" fill="#000">human : 30.87%</text><text x="428" y="95.4" font-size="5.45" fill="#000">animal : 14.75%</text><text x="428" y="102" font-size="5.45" fill="#000">environment : 5.59%</text><text x="625.2" y="88.4" font-size="5.45" fill="#000">human : 1.73%</text><text x="625.2" y="95" font-size="5.45" fill="#000">animal : 4.92%</text><text x="625.2" y="101.6" font-size="5.45" fill="#000">environment : 12.89%</text><text x="619.8" y="162.2" font-size="5.45" fill="#000">human : 61.35%</text><text x="619.8" y="168.85" font-size="5.45" fill="#000">animal : 69.67%</text><text x="619.8" y="175.5" font-size="5.45" fill="#000">environment : 73.91%</text><text x="424" y="161.3" font-size="6.22" fill="#000">Host</text><text x="424" y="168.6" font-size="6.22" fill="#000">outer circle:&#160; human (n=7152)</text><text x="424" y="175.9" font-size="6.22" fill="#000">middle circle:&#160; animal (n=122)</text><text x="424" y="183.2" font-size="6.22" fill="#000">inner circle:&#160; environment (n=644)</text><text x="46.3" y="217.5" font-size="7.1" text-anchor="middle" fill="#111">Asia</text><text x="46.77" y="294.63" font-size="4.6" text-anchor="middle" font-weight="bold" fill="#111">n =2910</text><text x="126.35" y="217.5" font-size="7.1" text-anchor="middle" fill="#111">Europe</text><text x="126.46" y="294.53" font-size="4.6" text-anchor="middle" font-weight="bold" fill="#111">n =2654</text><text x="202.7" y="217.5" font-size="7.1" text-anchor="middle" fill="#111">North&#160; America</text><text x="203.86" y="294.63" font-size="4.6" text-anchor="middle" font-weight="bold" fill="#111">n =1608</text><text x="50.05" y="311.7" font-size="7.1" text-anchor="middle" fill="#111">Oceania</text><text x="47.56" y="389.13" font-size="4.6" text-anchor="middle" font-weight="bold" fill="#111">n =401</text><text x="128.85" y="311.7" font-size="7.1" text-anchor="middle" fill="#111">South America</text><text x="126.57" y="388.93" font-size="4.6" text-anchor="middle" font-weight="bold" fill="#111">n =148</text><text x="205" y="311.7" font-size="7.1" text-anchor="middle" fill="#111">Africa</text><text x="204.47" y="389.13" font-size="4.6" text-anchor="middle" font-weight="bold" fill="#111">n =114</text><text x="305.45" y="378" font-size="6.9" text-anchor="middle" font-weight="bold" fill="#111">A</text><text x="318.7" y="378" font-size="6.9" text-anchor="middle" font-weight="bold" fill="#111">B1</text><text x="331.95" y="378" font-size="6.9" text-anchor="middle" font-weight="bold" fill="#111">B2</text><text x="345.2" y="378" font-size="6.9" text-anchor="middle" font-weight="bold" fill="#111">C</text><text x="358.45" y="378" font-size="6.9" text-anchor="middle" font-weight="bold" fill="#111">D</text><text x="371.7" y="378" font-size="6.9" text-anchor="middle" font-weight="bold" fill="#111">E</text><text x="384.95" y="378" font-size="6.9" text-anchor="middle" font-weight="bold" fill="#111">F</text><text x="398.2" y="378" font-size="6.9" text-anchor="middle" font-weight="bold" fill="#111">G</text><text x="291" y="221.8" font-size="6.3" text-anchor="end" font-weight="bold" fill="#111">100</text><text x="291.4" y="294.9" font-size="6.3" text-anchor="end" font-weight="bold" fill="#111">50</text><text x="290.9" y="368.9" font-size="6.3" text-anchor="end" font-weight="bold" fill="#111">0</text><text transform="translate(275.4 287.8) rotate(-90)" font-size="7.05" font-weight="bold" text-anchor="middle" fill="#111">Proportion of CRGs (%)</text><text x="351.6" y="392.3" font-size="7.3" text-anchor="middle" font-weight="bold" fill="#111">Phylogroup</text><text x="426.4" y="294.5" font-size="8.2" fill="#111">CRGs</text><text x="430.8" y="366.2" font-size="6.9" fill="#111">2 or 3 of above</text><text transform="translate(533.35 359.2) rotate(-45)" font-size="5.75" font-weight="bold" text-anchor="end" fill="#111">2003-2012</text><text transform="translate(546.3 359.2) rotate(-45)" font-size="5.75" font-weight="bold" text-anchor="end" fill="#111">2013</text><text transform="translate(559.25 359.2) rotate(-45)" font-size="5.75" font-weight="bold" text-anchor="end" fill="#111">2014</text><text transform="translate(572.2 359.2) rotate(-45)" font-size="5.75" font-weight="bold" text-anchor="end" fill="#111">2015</text><text transform="translate(585.15 359.2) rotate(-45)" font-size="5.75" font-weight="bold" text-anchor="end" fill="#111">2016</text><text transform="translate(598.1 359.2) rotate(-45)" font-size="5.75" font-weight="bold" text-anchor="end" fill="#111">2017</text><text transform="translate(611.05 359.2) rotate(-45)" font-size="5.75" font-weight="bold" text-anchor="end" fill="#111">2018</text><text transform="translate(624 359.2) rotate(-45)" font-size="5.75" font-weight="bold" text-anchor="end" fill="#111">2019</text><text transform="translate(636.95 359.2) rotate(-45)" font-size="5.75" font-weight="bold" text-anchor="end" fill="#111">2020</text><text transform="translate(649.9 359.2) rotate(-45)" font-size="5.75" font-weight="bold" text-anchor="end" fill="#111">2021</text><text transform="translate(662.85 359.2) rotate(-45)" font-size="5.75" font-weight="bold" text-anchor="end" fill="#111">2022</text><text transform="translate(675.8 359.2) rotate(-45)" font-size="5.75" font-weight="bold" text-anchor="end" fill="#111">2023</text><text x="518" y="219.75" font-size="5.35" text-anchor="end" font-weight="bold" fill="#111">1500</text><text x="518" y="238.85" font-size="5.35" text-anchor="end" font-weight="bold" fill="#111">1200</text><text x="518" y="257.95" font-size="5.35" text-anchor="end" font-weight="bold" fill="#111">900</text><text x="518" y="277.05" font-size="5.35" text-anchor="end" font-weight="bold" fill="#111">600</text><text x="518" y="296.15" font-size="5.35" text-anchor="end" font-weight="bold" fill="#111">300</text><text x="518" y="315" font-size="5.35" text-anchor="end" font-weight="bold" fill="#111">100</text><text x="518" y="353.05" font-size="5.35" text-anchor="end" font-weight="bold" fill="#111">0</text><text transform="translate(494.1 284.4) rotate(-90)" font-size="6.05" font-weight="bold" text-anchor="middle" fill="#111">Number of CRGs</text><text x="602" y="389.6" font-size="6.4" text-anchor="middle" font-weight="bold" fill="#111">Year</text></g>
</svg></body></html>
